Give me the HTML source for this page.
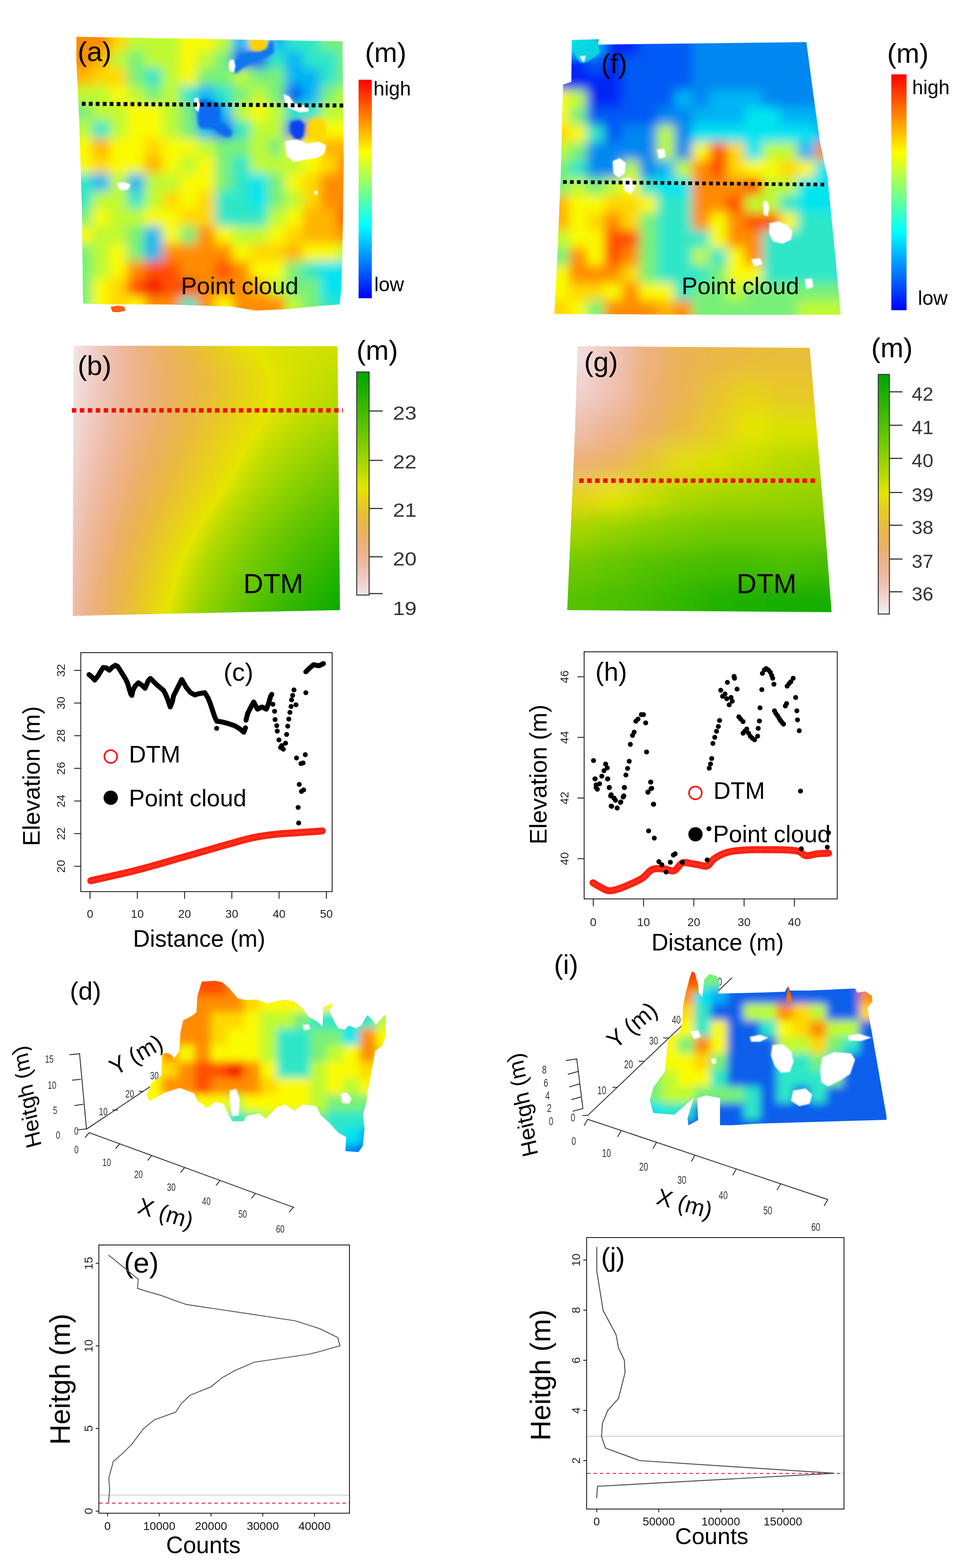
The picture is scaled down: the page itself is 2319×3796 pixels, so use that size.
<!DOCTYPE html>
<html><head><meta charset="utf-8"><title>Figure</title>
<style>html,body{margin:0;padding:0;background:#fff;}svg{display:block;}</style>
</head><body>
<svg width="2319" height="3796" viewBox="0 0 2319 3796" font-family="'Liberation Sans', Arial, sans-serif">
<defs>
<clipPath id="clip_a"><polygon points="185.0,89.0 829.0,100.0 832.0,400.0 829.0,600.0 826.0,700.0 822.0,737.0 760.0,742.0 700.0,748.0 620.0,752.0 560.0,742.0 400.0,737.0 270.0,737.0 201.0,735.0 198.0,500.0 192.0,300.0 185.0,150.0"/></clipPath>
<filter id="blur_a" x="-10%" y="-10%" width="120%" height="120%"><feGaussianBlur stdDeviation="13"/></filter>
<filter id="soft3" x="-20%" y="-20%" width="140%" height="140%"><feGaussianBlur stdDeviation="3"/></filter>
<filter id="soft"><feGaussianBlur stdDeviation="1.5"/></filter>
<linearGradient id="jetbar" x1="0" y1="0" x2="0" y2="1"><stop offset="0.000" stop-color="#ff0000"/><stop offset="0.021" stop-color="#ff1000"/><stop offset="0.042" stop-color="#ff2000"/><stop offset="0.062" stop-color="#ff3000"/><stop offset="0.083" stop-color="#ff4000"/><stop offset="0.104" stop-color="#ff5000"/><stop offset="0.125" stop-color="#ff6000"/><stop offset="0.146" stop-color="#ff7000"/><stop offset="0.167" stop-color="#ff8000"/><stop offset="0.188" stop-color="#ff8f00"/><stop offset="0.208" stop-color="#ff9f00"/><stop offset="0.229" stop-color="#ffaf00"/><stop offset="0.250" stop-color="#ffbf00"/><stop offset="0.271" stop-color="#ffcf00"/><stop offset="0.292" stop-color="#ffdf00"/><stop offset="0.312" stop-color="#ffef00"/><stop offset="0.333" stop-color="#ffff00"/><stop offset="0.354" stop-color="#efff10"/><stop offset="0.375" stop-color="#dfff20"/><stop offset="0.396" stop-color="#cfff30"/><stop offset="0.417" stop-color="#bfff40"/><stop offset="0.438" stop-color="#afff50"/><stop offset="0.458" stop-color="#9fff60"/><stop offset="0.479" stop-color="#8fff70"/><stop offset="0.500" stop-color="#80ff80"/><stop offset="0.521" stop-color="#70ff8f"/><stop offset="0.542" stop-color="#60ff9f"/><stop offset="0.562" stop-color="#50ffaf"/><stop offset="0.583" stop-color="#40ffbf"/><stop offset="0.604" stop-color="#30ffcf"/><stop offset="0.625" stop-color="#20ffdf"/><stop offset="0.646" stop-color="#10ffef"/><stop offset="0.667" stop-color="#00ffff"/><stop offset="0.688" stop-color="#00efff"/><stop offset="0.708" stop-color="#00dfff"/><stop offset="0.729" stop-color="#00cfff"/><stop offset="0.750" stop-color="#00bfff"/><stop offset="0.771" stop-color="#00afff"/><stop offset="0.792" stop-color="#009fff"/><stop offset="0.812" stop-color="#008fff"/><stop offset="0.833" stop-color="#0080ff"/><stop offset="0.854" stop-color="#0070ff"/><stop offset="0.875" stop-color="#0060ff"/><stop offset="0.896" stop-color="#0050ff"/><stop offset="0.917" stop-color="#0040ff"/><stop offset="0.938" stop-color="#0030ff"/><stop offset="0.958" stop-color="#0020ff"/><stop offset="0.979" stop-color="#0010ff"/><stop offset="1.000" stop-color="#0000ff"/></linearGradient>
<clipPath id="clip_f"><polygon points="1384.0,97.0 1450.0,95.0 1447.0,108.0 1952.0,102.0 1965.0,200.0 1984.0,338.0 2003.0,430.0 2020.0,600.0 2035.0,762.0 1750.0,762.0 1342.0,760.0 1350.0,600.0 1357.0,430.0 1363.0,205.0 1383.0,198.0"/></clipPath>
<filter id="blur_f" x="-10%" y="-10%" width="120%" height="120%"><feGaussianBlur stdDeviation="13"/></filter>
<clipPath id="clip_b"><polygon points="178.0,837.0 817.0,838.0 823.0,1477.0 176.0,1491.0"/></clipPath>
<filter id="vblur_b" x="-5%" y="-5%" width="110%" height="110%"><feGaussianBlur stdDeviation="1 5"/></filter>
<linearGradient id="bs0" gradientUnits="userSpaceOnUse" x1="170" y1="0" x2="830" y2="0"><stop offset="0.0000" stop-color="#f2ecec"/><stop offset="0.0091" stop-color="#f2e8e8"/><stop offset="0.0909" stop-color="#f0ccc4"/><stop offset="0.1727" stop-color="#eebaa2"/><stop offset="0.2545" stop-color="#ecb281"/><stop offset="0.3364" stop-color="#ebb262"/><stop offset="0.4182" stop-color="#e9b945"/><stop offset="0.5000" stop-color="#e8c52a"/><stop offset="0.5818" stop-color="#e7d612"/><stop offset="0.6545" stop-color="#e6e401"/><stop offset="0.6636" stop-color="#e6e600"/><stop offset="0.6727" stop-color="#e4e500"/><stop offset="0.7177" stop-color="#dfe400"/><stop offset="0.7717" stop-color="#dbe300"/><stop offset="0.8258" stop-color="#d7e200"/><stop offset="0.8798" stop-color="#d4e200"/><stop offset="0.9338" stop-color="#d1e100"/><stop offset="0.9879" stop-color="#cee000"/><stop offset="1.0000" stop-color="#cee000"/></linearGradient>
<linearGradient id="bs1" gradientUnits="userSpaceOnUse" x1="170" y1="0" x2="830" y2="0"><stop offset="0.0000" stop-color="#f2ecec"/><stop offset="0.0091" stop-color="#f2e8e8"/><stop offset="0.0909" stop-color="#f0ccc4"/><stop offset="0.1727" stop-color="#eebaa2"/><stop offset="0.2545" stop-color="#ecb281"/><stop offset="0.3364" stop-color="#ebb262"/><stop offset="0.4182" stop-color="#e9b945"/><stop offset="0.5000" stop-color="#e8c52a"/><stop offset="0.5818" stop-color="#e7d612"/><stop offset="0.6545" stop-color="#e6e401"/><stop offset="0.6636" stop-color="#e6e600"/><stop offset="0.6727" stop-color="#e4e500"/><stop offset="0.7177" stop-color="#dfe400"/><stop offset="0.7717" stop-color="#dbe300"/><stop offset="0.8258" stop-color="#d7e200"/><stop offset="0.8798" stop-color="#d4e200"/><stop offset="0.9338" stop-color="#d1e100"/><stop offset="0.9879" stop-color="#cee000"/><stop offset="1.0000" stop-color="#cee000"/></linearGradient>
<linearGradient id="bs2" gradientUnits="userSpaceOnUse" x1="170" y1="0" x2="830" y2="0"><stop offset="0.0000" stop-color="#f2eceb"/><stop offset="0.0091" stop-color="#f2e8e7"/><stop offset="0.0923" stop-color="#f0ccc4"/><stop offset="0.1754" stop-color="#eebaa1"/><stop offset="0.2586" stop-color="#ecb281"/><stop offset="0.3418" stop-color="#ebb262"/><stop offset="0.4250" stop-color="#e9b945"/><stop offset="0.5082" stop-color="#e8c52a"/><stop offset="0.5913" stop-color="#e7d612"/><stop offset="0.6654" stop-color="#e6e401"/><stop offset="0.6745" stop-color="#e6e600"/><stop offset="0.6836" stop-color="#e4e500"/><stop offset="0.7267" stop-color="#dfe400"/><stop offset="0.7790" stop-color="#dae300"/><stop offset="0.8312" stop-color="#d6e200"/><stop offset="0.8834" stop-color="#d3e100"/><stop offset="0.9357" stop-color="#d0e100"/><stop offset="0.9879" stop-color="#cde000"/><stop offset="1.0000" stop-color="#cce000"/></linearGradient>
<linearGradient id="bs3" gradientUnits="userSpaceOnUse" x1="170" y1="0" x2="830" y2="0"><stop offset="0.0000" stop-color="#f2ebeb"/><stop offset="0.0091" stop-color="#f2e7e7"/><stop offset="0.0940" stop-color="#f0cbc3"/><stop offset="0.1788" stop-color="#eebaa1"/><stop offset="0.2637" stop-color="#ecb280"/><stop offset="0.3486" stop-color="#ebb262"/><stop offset="0.4335" stop-color="#e9b945"/><stop offset="0.5184" stop-color="#e8c52a"/><stop offset="0.6032" stop-color="#e7d612"/><stop offset="0.6790" stop-color="#e6e401"/><stop offset="0.6881" stop-color="#e6e600"/><stop offset="0.6972" stop-color="#e3e500"/><stop offset="0.7381" stop-color="#dee400"/><stop offset="0.7880" stop-color="#d9e300"/><stop offset="0.8380" stop-color="#d5e200"/><stop offset="0.8880" stop-color="#d1e100"/><stop offset="0.9379" stop-color="#cee000"/><stop offset="0.9879" stop-color="#cbe000"/><stop offset="1.0000" stop-color="#cadf00"/></linearGradient>
<linearGradient id="bs4" gradientUnits="userSpaceOnUse" x1="170" y1="0" x2="830" y2="0"><stop offset="0.0000" stop-color="#f2eaea"/><stop offset="0.0091" stop-color="#f2e6e6"/><stop offset="0.0957" stop-color="#f0cbc2"/><stop offset="0.1822" stop-color="#eebaa0"/><stop offset="0.2688" stop-color="#ecb280"/><stop offset="0.3554" stop-color="#ebb261"/><stop offset="0.4420" stop-color="#e9b944"/><stop offset="0.5286" stop-color="#e8c62a"/><stop offset="0.6151" stop-color="#e7d612"/><stop offset="0.6926" stop-color="#e6e401"/><stop offset="0.7017" stop-color="#e6e600"/><stop offset="0.7108" stop-color="#e3e500"/><stop offset="0.7494" stop-color="#dde400"/><stop offset="0.7971" stop-color="#d8e300"/><stop offset="0.8448" stop-color="#d4e200"/><stop offset="0.8925" stop-color="#d0e100"/><stop offset="0.9402" stop-color="#cce000"/><stop offset="0.9879" stop-color="#c9df00"/><stop offset="1.0000" stop-color="#c8df00"/></linearGradient>
<linearGradient id="bs5" gradientUnits="userSpaceOnUse" x1="170" y1="0" x2="830" y2="0"><stop offset="0.0000" stop-color="#f2e9e9"/><stop offset="0.0091" stop-color="#f2e6e5"/><stop offset="0.0974" stop-color="#f0cbc2"/><stop offset="0.1856" stop-color="#eebaa0"/><stop offset="0.2739" stop-color="#ecb280"/><stop offset="0.3622" stop-color="#ebb261"/><stop offset="0.4505" stop-color="#e9b944"/><stop offset="0.5388" stop-color="#e8c62a"/><stop offset="0.6270" stop-color="#e6d612"/><stop offset="0.7062" stop-color="#e6e401"/><stop offset="0.7153" stop-color="#e6e600"/><stop offset="0.7244" stop-color="#e3e500"/><stop offset="0.7607" stop-color="#dde400"/><stop offset="0.8062" stop-color="#d7e200"/><stop offset="0.8516" stop-color="#d3e100"/><stop offset="0.8970" stop-color="#cee000"/><stop offset="0.9425" stop-color="#cadf00"/><stop offset="0.9879" stop-color="#c7df00"/><stop offset="1.0000" stop-color="#c6de00"/></linearGradient>
<linearGradient id="bs6" gradientUnits="userSpaceOnUse" x1="170" y1="0" x2="830" y2="0"><stop offset="0.0000" stop-color="#f2e8e8"/><stop offset="0.0091" stop-color="#f2e5e4"/><stop offset="0.0984" stop-color="#f0cac1"/><stop offset="0.1876" stop-color="#eeb99f"/><stop offset="0.2769" stop-color="#ecb27f"/><stop offset="0.3662" stop-color="#ebb261"/><stop offset="0.4555" stop-color="#e9b944"/><stop offset="0.5447" stop-color="#e8c62a"/><stop offset="0.6340" stop-color="#e6d612"/><stop offset="0.7142" stop-color="#e6e401"/><stop offset="0.7233" stop-color="#e6e600"/><stop offset="0.7324" stop-color="#e3e500"/><stop offset="0.7674" stop-color="#dce300"/><stop offset="0.8115" stop-color="#d6e200"/><stop offset="0.8556" stop-color="#d1e100"/><stop offset="0.8997" stop-color="#cde000"/><stop offset="0.9438" stop-color="#c8df00"/><stop offset="0.9879" stop-color="#c5de00"/><stop offset="1.0000" stop-color="#c3de00"/></linearGradient>
<linearGradient id="bs7" gradientUnits="userSpaceOnUse" x1="170" y1="0" x2="830" y2="0"><stop offset="0.0000" stop-color="#f2e8e7"/><stop offset="0.0091" stop-color="#f2e4e4"/><stop offset="0.0993" stop-color="#f0cac0"/><stop offset="0.1895" stop-color="#eeb99f"/><stop offset="0.2797" stop-color="#ecb27f"/><stop offset="0.3699" stop-color="#ebb260"/><stop offset="0.4601" stop-color="#e9b944"/><stop offset="0.5503" stop-color="#e8c629"/><stop offset="0.6405" stop-color="#e6d612"/><stop offset="0.7216" stop-color="#e6e401"/><stop offset="0.7306" stop-color="#e6e600"/><stop offset="0.7397" stop-color="#e2e500"/><stop offset="0.7735" stop-color="#dce300"/><stop offset="0.8164" stop-color="#d5e200"/><stop offset="0.8593" stop-color="#d0e100"/><stop offset="0.9021" stop-color="#cbe000"/><stop offset="0.9450" stop-color="#c7df00"/><stop offset="0.9879" stop-color="#c2de00"/><stop offset="1.0000" stop-color="#c1dd00"/></linearGradient>
<linearGradient id="bs8" gradientUnits="userSpaceOnUse" x1="170" y1="0" x2="830" y2="0"><stop offset="0.0000" stop-color="#f2e7e6"/><stop offset="0.0091" stop-color="#f1e4e3"/><stop offset="0.1002" stop-color="#f0c9c0"/><stop offset="0.1913" stop-color="#eeb99e"/><stop offset="0.2824" stop-color="#ecb27e"/><stop offset="0.3735" stop-color="#ebb260"/><stop offset="0.4647" stop-color="#e9b944"/><stop offset="0.5558" stop-color="#e8c629"/><stop offset="0.6469" stop-color="#e6d612"/><stop offset="0.7289" stop-color="#e6e401"/><stop offset="0.7380" stop-color="#e6e600"/><stop offset="0.7471" stop-color="#e2e500"/><stop offset="0.7797" stop-color="#dbe300"/><stop offset="0.8213" stop-color="#d4e200"/><stop offset="0.8629" stop-color="#cfe000"/><stop offset="0.9046" stop-color="#cadf00"/><stop offset="0.9462" stop-color="#c5de00"/><stop offset="0.9879" stop-color="#c0dd00"/><stop offset="1.0000" stop-color="#bfdd00"/></linearGradient>
<linearGradient id="bs9" gradientUnits="userSpaceOnUse" x1="170" y1="0" x2="830" y2="0"><stop offset="0.0000" stop-color="#f2e6e6"/><stop offset="0.0091" stop-color="#f1e3e2"/><stop offset="0.1008" stop-color="#f0c9bf"/><stop offset="0.1926" stop-color="#eeb99e"/><stop offset="0.2843" stop-color="#ecb17e"/><stop offset="0.3760" stop-color="#ebb260"/><stop offset="0.4677" stop-color="#e9b943"/><stop offset="0.5595" stop-color="#e8c629"/><stop offset="0.6512" stop-color="#e6d612"/><stop offset="0.7339" stop-color="#e6e401"/><stop offset="0.7429" stop-color="#e6e600"/><stop offset="0.7520" stop-color="#e2e500"/><stop offset="0.7838" stop-color="#dae300"/><stop offset="0.8246" stop-color="#d3e200"/><stop offset="0.8654" stop-color="#cde000"/><stop offset="0.9062" stop-color="#c8df00"/><stop offset="0.9471" stop-color="#c3de00"/><stop offset="0.9879" stop-color="#bedd00"/><stop offset="1.0000" stop-color="#bddc00"/></linearGradient>
<linearGradient id="bs10" gradientUnits="userSpaceOnUse" x1="170" y1="0" x2="830" y2="0"><stop offset="0.0000" stop-color="#f2e5e5"/><stop offset="0.0091" stop-color="#f1e2e1"/><stop offset="0.1010" stop-color="#f0c9bf"/><stop offset="0.1929" stop-color="#eeb99d"/><stop offset="0.2848" stop-color="#ecb17d"/><stop offset="0.3767" stop-color="#ebb25f"/><stop offset="0.4686" stop-color="#e9b943"/><stop offset="0.5605" stop-color="#e8c629"/><stop offset="0.6523" stop-color="#e6d612"/><stop offset="0.7352" stop-color="#e6e401"/><stop offset="0.7442" stop-color="#e6e600"/><stop offset="0.7533" stop-color="#e2e500"/><stop offset="0.7848" stop-color="#dae300"/><stop offset="0.8255" stop-color="#d3e100"/><stop offset="0.8661" stop-color="#cce000"/><stop offset="0.9067" stop-color="#c7df00"/><stop offset="0.9473" stop-color="#c1dd00"/><stop offset="0.9879" stop-color="#bcdc00"/><stop offset="1.0000" stop-color="#bbdc00"/></linearGradient>
<linearGradient id="bs11" gradientUnits="userSpaceOnUse" x1="170" y1="0" x2="830" y2="0"><stop offset="0.0000" stop-color="#f2e5e4"/><stop offset="0.0091" stop-color="#f1e2e1"/><stop offset="0.1011" stop-color="#f0c8be"/><stop offset="0.1932" stop-color="#eeb89d"/><stop offset="0.2853" stop-color="#ecb17d"/><stop offset="0.3773" stop-color="#ebb25f"/><stop offset="0.4694" stop-color="#e9b943"/><stop offset="0.5614" stop-color="#e8c629"/><stop offset="0.6535" stop-color="#e6d612"/><stop offset="0.7365" stop-color="#e6e401"/><stop offset="0.7455" stop-color="#e6e600"/><stop offset="0.7546" stop-color="#e1e500"/><stop offset="0.7859" stop-color="#d9e300"/><stop offset="0.8263" stop-color="#d2e100"/><stop offset="0.8667" stop-color="#cbe000"/><stop offset="0.9071" stop-color="#c5de00"/><stop offset="0.9475" stop-color="#c0dd00"/><stop offset="0.9879" stop-color="#badc00"/><stop offset="1.0000" stop-color="#b9db00"/></linearGradient>
<linearGradient id="bs12" gradientUnits="userSpaceOnUse" x1="170" y1="0" x2="830" y2="0"><stop offset="0.0000" stop-color="#f1e4e3"/><stop offset="0.0091" stop-color="#f1e1e0"/><stop offset="0.1013" stop-color="#f0c8bd"/><stop offset="0.1935" stop-color="#eeb89c"/><stop offset="0.2857" stop-color="#ecb17d"/><stop offset="0.3780" stop-color="#ebb25f"/><stop offset="0.4702" stop-color="#e9ba43"/><stop offset="0.5624" stop-color="#e8c629"/><stop offset="0.6546" stop-color="#e6d612"/><stop offset="0.7377" stop-color="#e6e401"/><stop offset="0.7468" stop-color="#e6e600"/><stop offset="0.7559" stop-color="#e1e500"/><stop offset="0.7870" stop-color="#d9e300"/><stop offset="0.8272" stop-color="#d1e100"/><stop offset="0.8674" stop-color="#cadf00"/><stop offset="0.9075" stop-color="#c3de00"/><stop offset="0.9477" stop-color="#bedd00"/><stop offset="0.9879" stop-color="#b8db00"/><stop offset="1.0000" stop-color="#b7db00"/></linearGradient>
<linearGradient id="bs13" gradientUnits="userSpaceOnUse" x1="170" y1="0" x2="830" y2="0"><stop offset="0.0000" stop-color="#f1e3e2"/><stop offset="0.0091" stop-color="#f1e0df"/><stop offset="0.1009" stop-color="#f0c7bd"/><stop offset="0.1927" stop-color="#eeb89c"/><stop offset="0.2845" stop-color="#ecb17c"/><stop offset="0.3763" stop-color="#ebb25e"/><stop offset="0.4681" stop-color="#e9ba42"/><stop offset="0.5599" stop-color="#e8c629"/><stop offset="0.6517" stop-color="#e6d612"/><stop offset="0.7344" stop-color="#e6e401"/><stop offset="0.7435" stop-color="#e6e600"/><stop offset="0.7526" stop-color="#e1e500"/><stop offset="0.7842" stop-color="#d8e300"/><stop offset="0.8250" stop-color="#d0e100"/><stop offset="0.8657" stop-color="#c8df00"/><stop offset="0.9064" stop-color="#c2de00"/><stop offset="0.9471" stop-color="#bcdc00"/><stop offset="0.9879" stop-color="#b6db00"/><stop offset="1.0000" stop-color="#b5da00"/></linearGradient>
<linearGradient id="bs14" gradientUnits="userSpaceOnUse" x1="170" y1="0" x2="830" y2="0"><stop offset="0.0000" stop-color="#f1e3e2"/><stop offset="0.0091" stop-color="#f1e0de"/><stop offset="0.1004" stop-color="#f0c7bc"/><stop offset="0.1917" stop-color="#eeb89b"/><stop offset="0.2830" stop-color="#ecb17c"/><stop offset="0.3744" stop-color="#ebb25e"/><stop offset="0.4657" stop-color="#e9ba42"/><stop offset="0.5570" stop-color="#e8c628"/><stop offset="0.6483" stop-color="#e6d612"/><stop offset="0.7305" stop-color="#e6e401"/><stop offset="0.7396" stop-color="#e6e600"/><stop offset="0.7487" stop-color="#e1e400"/><stop offset="0.7810" stop-color="#d8e200"/><stop offset="0.8224" stop-color="#cfe000"/><stop offset="0.8637" stop-color="#c7df00"/><stop offset="0.9051" stop-color="#c0dd00"/><stop offset="0.9465" stop-color="#badc00"/><stop offset="0.9879" stop-color="#b4da00"/><stop offset="1.0000" stop-color="#b3da00"/></linearGradient>
<linearGradient id="bs15" gradientUnits="userSpaceOnUse" x1="170" y1="0" x2="830" y2="0"><stop offset="0.0000" stop-color="#f1e2e1"/><stop offset="0.0091" stop-color="#f1dfdd"/><stop offset="0.0999" stop-color="#efc7bb"/><stop offset="0.1908" stop-color="#eeb89b"/><stop offset="0.2816" stop-color="#ecb17b"/><stop offset="0.3724" stop-color="#ebb25e"/><stop offset="0.4633" stop-color="#e9ba42"/><stop offset="0.5541" stop-color="#e8c628"/><stop offset="0.6449" stop-color="#e6d611"/><stop offset="0.7267" stop-color="#e6e401"/><stop offset="0.7358" stop-color="#e6e600"/><stop offset="0.7448" stop-color="#e1e400"/><stop offset="0.7778" stop-color="#d7e200"/><stop offset="0.8198" stop-color="#cee000"/><stop offset="0.8618" stop-color="#c6de00"/><stop offset="0.9038" stop-color="#bfdd00"/><stop offset="0.9459" stop-color="#b8db00"/><stop offset="0.9879" stop-color="#b2da00"/><stop offset="1.0000" stop-color="#b1da00"/></linearGradient>
<linearGradient id="bs16" gradientUnits="userSpaceOnUse" x1="170" y1="0" x2="830" y2="0"><stop offset="0.0000" stop-color="#f1e1e0"/><stop offset="0.0091" stop-color="#f1dedd"/><stop offset="0.0994" stop-color="#efc6bb"/><stop offset="0.1898" stop-color="#eeb89a"/><stop offset="0.2801" stop-color="#ecb17b"/><stop offset="0.3705" stop-color="#ebb25d"/><stop offset="0.4608" stop-color="#e9ba42"/><stop offset="0.5512" stop-color="#e8c728"/><stop offset="0.6415" stop-color="#e6d611"/><stop offset="0.7228" stop-color="#e6e401"/><stop offset="0.7319" stop-color="#e6e600"/><stop offset="0.7410" stop-color="#e1e400"/><stop offset="0.7745" stop-color="#d6e200"/><stop offset="0.8172" stop-color="#cde000"/><stop offset="0.8599" stop-color="#c5de00"/><stop offset="0.9025" stop-color="#bddd00"/><stop offset="0.9452" stop-color="#b7db00"/><stop offset="0.9879" stop-color="#b0d900"/><stop offset="1.0000" stop-color="#afd900"/></linearGradient>
<linearGradient id="bs17" gradientUnits="userSpaceOnUse" x1="170" y1="0" x2="830" y2="0"><stop offset="0.0000" stop-color="#f1e1df"/><stop offset="0.0091" stop-color="#f1dedc"/><stop offset="0.0989" stop-color="#efc6ba"/><stop offset="0.1886" stop-color="#eeb79a"/><stop offset="0.2784" stop-color="#ecb17b"/><stop offset="0.3681" stop-color="#ebb25d"/><stop offset="0.4579" stop-color="#e9ba42"/><stop offset="0.5477" stop-color="#e8c728"/><stop offset="0.6374" stop-color="#e6d611"/><stop offset="0.7181" stop-color="#e6e401"/><stop offset="0.7272" stop-color="#e6e600"/><stop offset="0.7363" stop-color="#e0e400"/><stop offset="0.7706" stop-color="#d6e200"/><stop offset="0.8141" stop-color="#cce000"/><stop offset="0.8575" stop-color="#c3de00"/><stop offset="0.9010" stop-color="#bcdc00"/><stop offset="0.9444" stop-color="#b5db00"/><stop offset="0.9879" stop-color="#aed900"/><stop offset="1.0000" stop-color="#add900"/></linearGradient>
<linearGradient id="bs18" gradientUnits="userSpaceOnUse" x1="170" y1="0" x2="830" y2="0"><stop offset="0.0000" stop-color="#f1e0df"/><stop offset="0.0091" stop-color="#f1dddb"/><stop offset="0.0979" stop-color="#efc6b9"/><stop offset="0.1866" stop-color="#eeb799"/><stop offset="0.2754" stop-color="#ecb17a"/><stop offset="0.3642" stop-color="#ebb25d"/><stop offset="0.4529" stop-color="#e9ba41"/><stop offset="0.5417" stop-color="#e8c728"/><stop offset="0.6305" stop-color="#e6d611"/><stop offset="0.7102" stop-color="#e6e401"/><stop offset="0.7193" stop-color="#e6e600"/><stop offset="0.7284" stop-color="#e0e400"/><stop offset="0.7640" stop-color="#d5e200"/><stop offset="0.8088" stop-color="#cadf00"/><stop offset="0.8536" stop-color="#c1dd00"/><stop offset="0.8983" stop-color="#b9dc00"/><stop offset="0.9431" stop-color="#b2da00"/><stop offset="0.9879" stop-color="#abd800"/><stop offset="1.0000" stop-color="#a9d800"/></linearGradient>
<linearGradient id="bs19" gradientUnits="userSpaceOnUse" x1="170" y1="0" x2="830" y2="0"><stop offset="0.0000" stop-color="#f1dfde"/><stop offset="0.0091" stop-color="#f1dcda"/><stop offset="0.0969" stop-color="#efc5b9"/><stop offset="0.1847" stop-color="#eeb798"/><stop offset="0.2724" stop-color="#ecb17a"/><stop offset="0.3602" stop-color="#ebb35c"/><stop offset="0.4480" stop-color="#e9ba41"/><stop offset="0.5358" stop-color="#e8c728"/><stop offset="0.6235" stop-color="#e6d711"/><stop offset="0.7022" stop-color="#e6e401"/><stop offset="0.7113" stop-color="#e6e600"/><stop offset="0.7204" stop-color="#e0e400"/><stop offset="0.7574" stop-color="#d4e200"/><stop offset="0.8035" stop-color="#c8df00"/><stop offset="0.8496" stop-color="#bfdd00"/><stop offset="0.8957" stop-color="#b6db00"/><stop offset="0.9418" stop-color="#aed900"/><stop offset="0.9879" stop-color="#a7d700"/><stop offset="1.0000" stop-color="#a5d700"/></linearGradient>
<linearGradient id="bs20" gradientUnits="userSpaceOnUse" x1="170" y1="0" x2="830" y2="0"><stop offset="0.0000" stop-color="#f1dfdd"/><stop offset="0.0091" stop-color="#f1dcda"/><stop offset="0.0959" stop-color="#efc5b8"/><stop offset="0.1827" stop-color="#eeb798"/><stop offset="0.2695" stop-color="#ecb179"/><stop offset="0.3562" stop-color="#ebb35c"/><stop offset="0.4430" stop-color="#e9ba41"/><stop offset="0.5298" stop-color="#e8c728"/><stop offset="0.6166" stop-color="#e6d711"/><stop offset="0.6943" stop-color="#e6e401"/><stop offset="0.7034" stop-color="#e6e600"/><stop offset="0.7125" stop-color="#e0e400"/><stop offset="0.7508" stop-color="#d2e100"/><stop offset="0.7982" stop-color="#c6df00"/><stop offset="0.8456" stop-color="#bcdc00"/><stop offset="0.8930" stop-color="#b3da00"/><stop offset="0.9405" stop-color="#abd800"/><stop offset="0.9879" stop-color="#a3d600"/><stop offset="1.0000" stop-color="#a1d600"/></linearGradient>
<linearGradient id="bs21" gradientUnits="userSpaceOnUse" x1="170" y1="0" x2="830" y2="0"><stop offset="0.0000" stop-color="#f1dedc"/><stop offset="0.0091" stop-color="#f1dbd9"/><stop offset="0.0949" stop-color="#efc4b7"/><stop offset="0.1807" stop-color="#eeb797"/><stop offset="0.2665" stop-color="#ecb179"/><stop offset="0.3523" stop-color="#eab35c"/><stop offset="0.4381" stop-color="#e9ba41"/><stop offset="0.5239" stop-color="#e8c727"/><stop offset="0.6097" stop-color="#e6d711"/><stop offset="0.6864" stop-color="#e6e401"/><stop offset="0.6955" stop-color="#e6e600"/><stop offset="0.7045" stop-color="#dfe400"/><stop offset="0.7442" stop-color="#d1e100"/><stop offset="0.7929" stop-color="#c4de00"/><stop offset="0.8417" stop-color="#b9dc00"/><stop offset="0.8904" stop-color="#b0d900"/><stop offset="0.9391" stop-color="#a7d700"/><stop offset="0.9879" stop-color="#9fd500"/><stop offset="1.0000" stop-color="#9dd500"/></linearGradient>
<linearGradient id="bs22" gradientUnits="userSpaceOnUse" x1="170" y1="0" x2="830" y2="0"><stop offset="0.0000" stop-color="#f1dedc"/><stop offset="0.0091" stop-color="#f1dbd8"/><stop offset="0.0936" stop-color="#efc4b7"/><stop offset="0.1781" stop-color="#eeb797"/><stop offset="0.2626" stop-color="#ecb178"/><stop offset="0.3471" stop-color="#eab35c"/><stop offset="0.4315" stop-color="#e9ba40"/><stop offset="0.5160" stop-color="#e8c727"/><stop offset="0.6005" stop-color="#e6d711"/><stop offset="0.6759" stop-color="#e6e401"/><stop offset="0.6850" stop-color="#e6e600"/><stop offset="0.6941" stop-color="#dfe400"/><stop offset="0.7355" stop-color="#d0e100"/><stop offset="0.7860" stop-color="#c2de00"/><stop offset="0.8364" stop-color="#b7db00"/><stop offset="0.8869" stop-color="#add900"/><stop offset="0.9374" stop-color="#a3d600"/><stop offset="0.9879" stop-color="#9ad400"/><stop offset="1.0000" stop-color="#98d400"/></linearGradient>
<linearGradient id="bs23" gradientUnits="userSpaceOnUse" x1="170" y1="0" x2="830" y2="0"><stop offset="0.0000" stop-color="#f1dddb"/><stop offset="0.0091" stop-color="#f1dad7"/><stop offset="0.0923" stop-color="#efc4b6"/><stop offset="0.1755" stop-color="#eeb696"/><stop offset="0.2586" stop-color="#ecb178"/><stop offset="0.3418" stop-color="#eab35b"/><stop offset="0.4250" stop-color="#e9bb40"/><stop offset="0.5082" stop-color="#e8c727"/><stop offset="0.5914" stop-color="#e6d711"/><stop offset="0.6655" stop-color="#e6e401"/><stop offset="0.6746" stop-color="#e6e600"/><stop offset="0.6837" stop-color="#dfe400"/><stop offset="0.7268" stop-color="#cfe000"/><stop offset="0.7790" stop-color="#c0dd00"/><stop offset="0.8312" stop-color="#b4da00"/><stop offset="0.8834" stop-color="#a9d800"/><stop offset="0.9357" stop-color="#a0d500"/><stop offset="0.9879" stop-color="#96d300"/><stop offset="1.0000" stop-color="#94d300"/></linearGradient>
<linearGradient id="bs24" gradientUnits="userSpaceOnUse" x1="170" y1="0" x2="830" y2="0"><stop offset="0.0000" stop-color="#f1dcda"/><stop offset="0.0091" stop-color="#f1d9d7"/><stop offset="0.0910" stop-color="#efc3b5"/><stop offset="0.1729" stop-color="#eeb696"/><stop offset="0.2547" stop-color="#ecb178"/><stop offset="0.3366" stop-color="#eab35b"/><stop offset="0.4185" stop-color="#e9bb40"/><stop offset="0.5004" stop-color="#e8c727"/><stop offset="0.5823" stop-color="#e6d711"/><stop offset="0.6551" stop-color="#e6e401"/><stop offset="0.6641" stop-color="#e6e600"/><stop offset="0.6732" stop-color="#dfe400"/><stop offset="0.7181" stop-color="#cde000"/><stop offset="0.7721" stop-color="#bedd00"/><stop offset="0.8260" stop-color="#b2da00"/><stop offset="0.8800" stop-color="#a6d700"/><stop offset="0.9339" stop-color="#9cd500"/><stop offset="0.9879" stop-color="#92d200"/><stop offset="1.0000" stop-color="#90d200"/></linearGradient>
<linearGradient id="bs25" gradientUnits="userSpaceOnUse" x1="170" y1="0" x2="830" y2="0"><stop offset="0.0000" stop-color="#f1dcda"/><stop offset="0.0091" stop-color="#f1d9d6"/><stop offset="0.0897" stop-color="#efc3b5"/><stop offset="0.1702" stop-color="#eeb695"/><stop offset="0.2508" stop-color="#ecb177"/><stop offset="0.3314" stop-color="#eab35b"/><stop offset="0.4120" stop-color="#e9bb40"/><stop offset="0.4926" stop-color="#e8c727"/><stop offset="0.5731" stop-color="#e6d711"/><stop offset="0.6446" stop-color="#e6e401"/><stop offset="0.6537" stop-color="#e6e600"/><stop offset="0.6628" stop-color="#dfe400"/><stop offset="0.7094" stop-color="#cce000"/><stop offset="0.7651" stop-color="#bcdc00"/><stop offset="0.8208" stop-color="#afd900"/><stop offset="0.8765" stop-color="#a3d600"/><stop offset="0.9322" stop-color="#98d400"/><stop offset="0.9879" stop-color="#8ed100"/><stop offset="1.0000" stop-color="#8cd100"/></linearGradient>
<linearGradient id="bs26" gradientUnits="userSpaceOnUse" x1="170" y1="0" x2="830" y2="0"><stop offset="0.0000" stop-color="#f1dbd9"/><stop offset="0.0091" stop-color="#f1d8d5"/><stop offset="0.0885" stop-color="#efc3b4"/><stop offset="0.1680" stop-color="#edb695"/><stop offset="0.2474" stop-color="#ecb177"/><stop offset="0.3268" stop-color="#eab35a"/><stop offset="0.4062" stop-color="#e9bb40"/><stop offset="0.4857" stop-color="#e8c727"/><stop offset="0.5651" stop-color="#e6d711"/><stop offset="0.6355" stop-color="#e6e401"/><stop offset="0.6445" stop-color="#e6e600"/><stop offset="0.6536" stop-color="#dee400"/><stop offset="0.7018" stop-color="#cbe000"/><stop offset="0.7590" stop-color="#badc00"/><stop offset="0.8162" stop-color="#acd800"/><stop offset="0.8734" stop-color="#a0d600"/><stop offset="0.9307" stop-color="#95d300"/><stop offset="0.9879" stop-color="#8ad000"/><stop offset="1.0000" stop-color="#88d000"/></linearGradient>
<linearGradient id="bs27" gradientUnits="userSpaceOnUse" x1="170" y1="0" x2="830" y2="0"><stop offset="0.0000" stop-color="#f1dbd8"/><stop offset="0.0091" stop-color="#f1d8d4"/><stop offset="0.0875" stop-color="#efc2b4"/><stop offset="0.1660" stop-color="#edb694"/><stop offset="0.2444" stop-color="#ecb176"/><stop offset="0.3229" stop-color="#eab35a"/><stop offset="0.4013" stop-color="#e9bb3f"/><stop offset="0.4798" stop-color="#e8c727"/><stop offset="0.5582" stop-color="#e6d711"/><stop offset="0.6276" stop-color="#e6e401"/><stop offset="0.6367" stop-color="#e6e600"/><stop offset="0.6458" stop-color="#dee400"/><stop offset="0.6952" stop-color="#cadf00"/><stop offset="0.7537" stop-color="#b8db00"/><stop offset="0.8123" stop-color="#aad800"/><stop offset="0.8708" stop-color="#9dd500"/><stop offset="0.9293" stop-color="#91d200"/><stop offset="0.9879" stop-color="#86cf00"/><stop offset="1.0000" stop-color="#84cf00"/></linearGradient>
<linearGradient id="bs28" gradientUnits="userSpaceOnUse" x1="170" y1="0" x2="830" y2="0"><stop offset="0.0000" stop-color="#f1dad7"/><stop offset="0.0091" stop-color="#f1d7d3"/><stop offset="0.0866" stop-color="#efc2b3"/><stop offset="0.1640" stop-color="#edb694"/><stop offset="0.2415" stop-color="#ecb176"/><stop offset="0.3189" stop-color="#eab35a"/><stop offset="0.3964" stop-color="#e9bb3f"/><stop offset="0.4739" stop-color="#e8c827"/><stop offset="0.5513" stop-color="#e6d711"/><stop offset="0.6197" stop-color="#e6e401"/><stop offset="0.6288" stop-color="#e6e600"/><stop offset="0.6379" stop-color="#dee400"/><stop offset="0.6886" stop-color="#c8df00"/><stop offset="0.7485" stop-color="#b6db00"/><stop offset="0.8083" stop-color="#a7d700"/><stop offset="0.8682" stop-color="#9ad400"/><stop offset="0.9280" stop-color="#8dd100"/><stop offset="0.9879" stop-color="#82ce00"/><stop offset="1.0000" stop-color="#80cd00"/></linearGradient>
<linearGradient id="bs29" gradientUnits="userSpaceOnUse" x1="170" y1="0" x2="830" y2="0"><stop offset="0.0000" stop-color="#f1d9d6"/><stop offset="0.0091" stop-color="#f1d6d2"/><stop offset="0.0856" stop-color="#efc1b2"/><stop offset="0.1620" stop-color="#edb593"/><stop offset="0.2385" stop-color="#ecb175"/><stop offset="0.3150" stop-color="#eab359"/><stop offset="0.3915" stop-color="#e9bb3f"/><stop offset="0.4680" stop-color="#e8c826"/><stop offset="0.5444" stop-color="#e6d711"/><stop offset="0.6118" stop-color="#e6e401"/><stop offset="0.6209" stop-color="#e6e600"/><stop offset="0.6300" stop-color="#dee400"/><stop offset="0.6821" stop-color="#c7df00"/><stop offset="0.7432" stop-color="#b4da00"/><stop offset="0.8044" stop-color="#a5d700"/><stop offset="0.8656" stop-color="#97d300"/><stop offset="0.9267" stop-color="#8ad000"/><stop offset="0.9879" stop-color="#7ecd00"/><stop offset="1.0000" stop-color="#7ccc00"/></linearGradient>
<linearGradient id="bs30" gradientUnits="userSpaceOnUse" x1="170" y1="0" x2="830" y2="0"><stop offset="0.0000" stop-color="#f1d8d5"/><stop offset="0.0091" stop-color="#f1d5d1"/><stop offset="0.0846" stop-color="#efc1b1"/><stop offset="0.1601" stop-color="#edb592"/><stop offset="0.2356" stop-color="#ecb175"/><stop offset="0.3111" stop-color="#eab359"/><stop offset="0.3866" stop-color="#e9bb3e"/><stop offset="0.4620" stop-color="#e8c826"/><stop offset="0.5375" stop-color="#e6d711"/><stop offset="0.6039" stop-color="#e6e401"/><stop offset="0.6130" stop-color="#e6e600"/><stop offset="0.6221" stop-color="#dde400"/><stop offset="0.6755" stop-color="#c6de00"/><stop offset="0.7380" stop-color="#b2da00"/><stop offset="0.8005" stop-color="#a2d600"/><stop offset="0.8629" stop-color="#94d200"/><stop offset="0.9254" stop-color="#86cf00"/><stop offset="0.9879" stop-color="#7acc00"/><stop offset="1.0000" stop-color="#78cb00"/></linearGradient>
<linearGradient id="bs31" gradientUnits="userSpaceOnUse" x1="170" y1="0" x2="830" y2="0"><stop offset="0.0000" stop-color="#f1d7d4"/><stop offset="0.0091" stop-color="#f1d4d0"/><stop offset="0.0836" stop-color="#efc0b0"/><stop offset="0.1581" stop-color="#edb591"/><stop offset="0.2326" stop-color="#ecb174"/><stop offset="0.3071" stop-color="#eab358"/><stop offset="0.3816" stop-color="#e9bb3e"/><stop offset="0.4561" stop-color="#e8c826"/><stop offset="0.5306" stop-color="#e6d710"/><stop offset="0.5960" stop-color="#e6e401"/><stop offset="0.6051" stop-color="#e6e600"/><stop offset="0.6142" stop-color="#dde400"/><stop offset="0.6689" stop-color="#c5de00"/><stop offset="0.7327" stop-color="#b0d900"/><stop offset="0.7965" stop-color="#a0d500"/><stop offset="0.8603" stop-color="#91d200"/><stop offset="0.9241" stop-color="#83ce00"/><stop offset="0.9879" stop-color="#77cb00"/><stop offset="1.0000" stop-color="#74ca00"/></linearGradient>
<linearGradient id="bs32" gradientUnits="userSpaceOnUse" x1="170" y1="0" x2="830" y2="0"><stop offset="0.0000" stop-color="#f1d6d3"/><stop offset="0.0091" stop-color="#f0d3cf"/><stop offset="0.0826" stop-color="#efc0af"/><stop offset="0.1561" stop-color="#edb590"/><stop offset="0.2296" stop-color="#ecb173"/><stop offset="0.3031" stop-color="#eab358"/><stop offset="0.3766" stop-color="#e9bc3e"/><stop offset="0.4501" stop-color="#e8c826"/><stop offset="0.5236" stop-color="#e6d710"/><stop offset="0.5880" stop-color="#e6e401"/><stop offset="0.5971" stop-color="#e6e600"/><stop offset="0.6061" stop-color="#dde400"/><stop offset="0.6622" stop-color="#c4de00"/><stop offset="0.7273" stop-color="#afd900"/><stop offset="0.7925" stop-color="#9dd500"/><stop offset="0.8576" stop-color="#8ed100"/><stop offset="0.9227" stop-color="#80cd00"/><stop offset="0.9879" stop-color="#73ca00"/><stop offset="1.0000" stop-color="#70c900"/></linearGradient>
<linearGradient id="bs33" gradientUnits="userSpaceOnUse" x1="170" y1="0" x2="830" y2="0"><stop offset="0.0000" stop-color="#f1d6d2"/><stop offset="0.0091" stop-color="#f0d3cd"/><stop offset="0.0816" stop-color="#efc0ae"/><stop offset="0.1541" stop-color="#edb590"/><stop offset="0.2266" stop-color="#ecb173"/><stop offset="0.2991" stop-color="#eab457"/><stop offset="0.3716" stop-color="#e9bc3d"/><stop offset="0.4441" stop-color="#e8c825"/><stop offset="0.5165" stop-color="#e6d710"/><stop offset="0.5799" stop-color="#e6e401"/><stop offset="0.5890" stop-color="#e6e600"/><stop offset="0.5981" stop-color="#dde400"/><stop offset="0.6555" stop-color="#c2de00"/><stop offset="0.7220" stop-color="#add900"/><stop offset="0.7885" stop-color="#9ad400"/><stop offset="0.8549" stop-color="#8bd000"/><stop offset="0.9214" stop-color="#7ccc00"/><stop offset="0.9879" stop-color="#6fc900"/><stop offset="1.0000" stop-color="#6dc800"/></linearGradient>
<linearGradient id="bs34" gradientUnits="userSpaceOnUse" x1="170" y1="0" x2="830" y2="0"><stop offset="0.0000" stop-color="#f1d5d0"/><stop offset="0.0091" stop-color="#f0d2cc"/><stop offset="0.0806" stop-color="#efbfad"/><stop offset="0.1521" stop-color="#edb48f"/><stop offset="0.2236" stop-color="#ecb172"/><stop offset="0.2951" stop-color="#eab457"/><stop offset="0.3665" stop-color="#e9bc3d"/><stop offset="0.4380" stop-color="#e8c825"/><stop offset="0.5095" stop-color="#e6d710"/><stop offset="0.5719" stop-color="#e6e401"/><stop offset="0.5810" stop-color="#e6e600"/><stop offset="0.5901" stop-color="#dde400"/><stop offset="0.6488" stop-color="#c1dd00"/><stop offset="0.7166" stop-color="#abd800"/><stop offset="0.7844" stop-color="#98d400"/><stop offset="0.8523" stop-color="#88cf00"/><stop offset="0.9201" stop-color="#79cc00"/><stop offset="0.9879" stop-color="#6bc800"/><stop offset="1.0000" stop-color="#69c700"/></linearGradient>
<linearGradient id="bs35" gradientUnits="userSpaceOnUse" x1="170" y1="0" x2="830" y2="0"><stop offset="0.0000" stop-color="#f0d4cf"/><stop offset="0.0091" stop-color="#f0d1cb"/><stop offset="0.0796" stop-color="#efbfac"/><stop offset="0.1501" stop-color="#edb48e"/><stop offset="0.2206" stop-color="#ecb171"/><stop offset="0.2910" stop-color="#eab456"/><stop offset="0.3615" stop-color="#e9bc3d"/><stop offset="0.4320" stop-color="#e8c825"/><stop offset="0.5025" stop-color="#e6d710"/><stop offset="0.5639" stop-color="#e6e401"/><stop offset="0.5730" stop-color="#e6e600"/><stop offset="0.5821" stop-color="#dde400"/><stop offset="0.6421" stop-color="#c0dd00"/><stop offset="0.7113" stop-color="#a9d800"/><stop offset="0.7804" stop-color="#95d300"/><stop offset="0.8496" stop-color="#85cf00"/><stop offset="0.9187" stop-color="#75cb00"/><stop offset="0.9879" stop-color="#67c700"/><stop offset="1.0000" stop-color="#65c600"/></linearGradient>
<linearGradient id="bs36" gradientUnits="userSpaceOnUse" x1="170" y1="0" x2="830" y2="0"><stop offset="0.0000" stop-color="#f0d3ce"/><stop offset="0.0091" stop-color="#f0d0ca"/><stop offset="0.0785" stop-color="#efbeab"/><stop offset="0.1478" stop-color="#edb48d"/><stop offset="0.2172" stop-color="#ecb171"/><stop offset="0.2866" stop-color="#eab456"/><stop offset="0.3560" stop-color="#e9bc3c"/><stop offset="0.4254" stop-color="#e8c925"/><stop offset="0.4947" stop-color="#e6d810"/><stop offset="0.5550" stop-color="#e6e401"/><stop offset="0.5641" stop-color="#e6e600"/><stop offset="0.5732" stop-color="#dce400"/><stop offset="0.6347" stop-color="#bfdd00"/><stop offset="0.7054" stop-color="#a7d700"/><stop offset="0.7760" stop-color="#93d200"/><stop offset="0.8466" stop-color="#82ce00"/><stop offset="0.9173" stop-color="#72ca00"/><stop offset="0.9879" stop-color="#64c600"/><stop offset="1.0000" stop-color="#61c500"/></linearGradient>
<linearGradient id="bs37" gradientUnits="userSpaceOnUse" x1="170" y1="0" x2="830" y2="0"><stop offset="0.0000" stop-color="#f0d2cd"/><stop offset="0.0091" stop-color="#f0cfc9"/><stop offset="0.0772" stop-color="#efbeaa"/><stop offset="0.1453" stop-color="#edb48c"/><stop offset="0.2134" stop-color="#ecb170"/><stop offset="0.2815" stop-color="#eab455"/><stop offset="0.3496" stop-color="#e9bc3c"/><stop offset="0.4177" stop-color="#e8c925"/><stop offset="0.4859" stop-color="#e6d810"/><stop offset="0.5449" stop-color="#e6e401"/><stop offset="0.5540" stop-color="#e6e600"/><stop offset="0.5631" stop-color="#dce300"/><stop offset="0.6263" stop-color="#bddd00"/><stop offset="0.6986" stop-color="#a5d700"/><stop offset="0.7709" stop-color="#91d200"/><stop offset="0.8432" stop-color="#7fcd00"/><stop offset="0.9156" stop-color="#6fc900"/><stop offset="0.9879" stop-color="#60c500"/><stop offset="1.0000" stop-color="#5ec400"/></linearGradient>
<linearGradient id="bs38" gradientUnits="userSpaceOnUse" x1="170" y1="0" x2="830" y2="0"><stop offset="0.0000" stop-color="#f0d1cc"/><stop offset="0.0091" stop-color="#f0cec8"/><stop offset="0.0759" stop-color="#efbda9"/><stop offset="0.1428" stop-color="#edb48c"/><stop offset="0.2096" stop-color="#ecb16f"/><stop offset="0.2764" stop-color="#eab455"/><stop offset="0.3433" stop-color="#e9bc3c"/><stop offset="0.4101" stop-color="#e8c924"/><stop offset="0.4770" stop-color="#e6d810"/><stop offset="0.5347" stop-color="#e6e401"/><stop offset="0.5438" stop-color="#e6e600"/><stop offset="0.5529" stop-color="#dce300"/><stop offset="0.6178" stop-color="#bcdc00"/><stop offset="0.6918" stop-color="#a3d600"/><stop offset="0.7658" stop-color="#8ed100"/><stop offset="0.8399" stop-color="#7ccc00"/><stop offset="0.9139" stop-color="#6bc800"/><stop offset="0.9879" stop-color="#5cc400"/><stop offset="1.0000" stop-color="#5ac300"/></linearGradient>
<linearGradient id="bs39" gradientUnits="userSpaceOnUse" x1="170" y1="0" x2="830" y2="0"><stop offset="0.0000" stop-color="#f0d1cb"/><stop offset="0.0091" stop-color="#f0cec7"/><stop offset="0.0747" stop-color="#eebda8"/><stop offset="0.1402" stop-color="#edb38b"/><stop offset="0.2058" stop-color="#ebb16f"/><stop offset="0.2714" stop-color="#eab454"/><stop offset="0.3369" stop-color="#e9bd3b"/><stop offset="0.4025" stop-color="#e7c924"/><stop offset="0.4681" stop-color="#e6d810"/><stop offset="0.5246" stop-color="#e6e401"/><stop offset="0.5336" stop-color="#e6e600"/><stop offset="0.5427" stop-color="#dce300"/><stop offset="0.6093" stop-color="#bbdc00"/><stop offset="0.6851" stop-color="#a1d600"/><stop offset="0.7608" stop-color="#8cd000"/><stop offset="0.8365" stop-color="#79cc00"/><stop offset="0.9122" stop-color="#68c700"/><stop offset="0.9879" stop-color="#59c300"/><stop offset="1.0000" stop-color="#57c200"/></linearGradient>
<linearGradient id="bs40" gradientUnits="userSpaceOnUse" x1="170" y1="0" x2="830" y2="0"><stop offset="0.0000" stop-color="#f0d0ca"/><stop offset="0.0091" stop-color="#f0cdc5"/><stop offset="0.0734" stop-color="#eebca7"/><stop offset="0.1377" stop-color="#edb38a"/><stop offset="0.2020" stop-color="#ebb16e"/><stop offset="0.2663" stop-color="#eab454"/><stop offset="0.3306" stop-color="#e9bd3b"/><stop offset="0.3949" stop-color="#e7c924"/><stop offset="0.4592" stop-color="#e6d810"/><stop offset="0.5144" stop-color="#e6e401"/><stop offset="0.5235" stop-color="#e6e600"/><stop offset="0.5326" stop-color="#dce300"/><stop offset="0.6009" stop-color="#badc00"/><stop offset="0.6783" stop-color="#9fd500"/><stop offset="0.7557" stop-color="#89d000"/><stop offset="0.8331" stop-color="#76cb00"/><stop offset="0.9105" stop-color="#65c600"/><stop offset="0.9879" stop-color="#55c200"/><stop offset="1.0000" stop-color="#53c100"/></linearGradient>
<linearGradient id="bs41" gradientUnits="userSpaceOnUse" x1="170" y1="0" x2="830" y2="0"><stop offset="0.0000" stop-color="#f0cfc9"/><stop offset="0.0091" stop-color="#f0ccc4"/><stop offset="0.0721" stop-color="#eebca6"/><stop offset="0.1351" stop-color="#edb389"/><stop offset="0.1982" stop-color="#ebb16e"/><stop offset="0.2612" stop-color="#eab453"/><stop offset="0.3242" stop-color="#e9bd3b"/><stop offset="0.3873" stop-color="#e7c924"/><stop offset="0.4503" stop-color="#e6d810"/><stop offset="0.5042" stop-color="#e6e402"/><stop offset="0.5133" stop-color="#e6e600"/><stop offset="0.5224" stop-color="#dce300"/><stop offset="0.5924" stop-color="#b9db00"/><stop offset="0.6715" stop-color="#9dd500"/><stop offset="0.7506" stop-color="#87cf00"/><stop offset="0.8297" stop-color="#73ca00"/><stop offset="0.9088" stop-color="#62c500"/><stop offset="0.9879" stop-color="#52c100"/><stop offset="1.0000" stop-color="#4fc000"/></linearGradient>
<linearGradient id="bs42" gradientUnits="userSpaceOnUse" x1="170" y1="0" x2="830" y2="0"><stop offset="0.0000" stop-color="#f0cec8"/><stop offset="0.0091" stop-color="#f0cbc3"/><stop offset="0.0709" stop-color="#eebca5"/><stop offset="0.1326" stop-color="#edb388"/><stop offset="0.1944" stop-color="#ebb16d"/><stop offset="0.2561" stop-color="#eab453"/><stop offset="0.3179" stop-color="#e9bd3a"/><stop offset="0.3796" stop-color="#e7c924"/><stop offset="0.4414" stop-color="#e6d80f"/><stop offset="0.4941" stop-color="#e6e402"/><stop offset="0.5032" stop-color="#e6e600"/><stop offset="0.5123" stop-color="#dce300"/><stop offset="0.5840" stop-color="#b7db00"/><stop offset="0.6647" stop-color="#9bd400"/><stop offset="0.7455" stop-color="#84cf00"/><stop offset="0.8263" stop-color="#70c900"/><stop offset="0.9071" stop-color="#5ec400"/><stop offset="0.9879" stop-color="#4ec000"/><stop offset="1.0000" stop-color="#4cbf00"/></linearGradient>
<linearGradient id="bs43" gradientUnits="userSpaceOnUse" x1="170" y1="0" x2="830" y2="0"><stop offset="0.0000" stop-color="#f0cec6"/><stop offset="0.0091" stop-color="#f0cbc2"/><stop offset="0.0696" stop-color="#eebba4"/><stop offset="0.1301" stop-color="#edb388"/><stop offset="0.1906" stop-color="#ebb16c"/><stop offset="0.2511" stop-color="#eab552"/><stop offset="0.3115" stop-color="#e9bd3a"/><stop offset="0.3720" stop-color="#e7c923"/><stop offset="0.4325" stop-color="#e6d80f"/><stop offset="0.4839" stop-color="#e6e402"/><stop offset="0.4930" stop-color="#e6e600"/><stop offset="0.5021" stop-color="#dce300"/><stop offset="0.5755" stop-color="#b6db00"/><stop offset="0.6580" stop-color="#9ad400"/><stop offset="0.7404" stop-color="#82ce00"/><stop offset="0.8229" stop-color="#6dc900"/><stop offset="0.9054" stop-color="#5bc400"/><stop offset="0.9879" stop-color="#4bbf00"/><stop offset="1.0000" stop-color="#48be00"/></linearGradient>
<linearGradient id="bs44" gradientUnits="userSpaceOnUse" x1="170" y1="0" x2="830" y2="0"><stop offset="0.0000" stop-color="#f0cdc5"/><stop offset="0.0091" stop-color="#f0cac1"/><stop offset="0.0683" stop-color="#eebba3"/><stop offset="0.1275" stop-color="#edb387"/><stop offset="0.1868" stop-color="#ebb16c"/><stop offset="0.2460" stop-color="#eab552"/><stop offset="0.3052" stop-color="#e9bd3a"/><stop offset="0.3644" stop-color="#e7ca23"/><stop offset="0.4236" stop-color="#e6d80f"/><stop offset="0.4738" stop-color="#e6e402"/><stop offset="0.4829" stop-color="#e6e600"/><stop offset="0.4919" stop-color="#dbe300"/><stop offset="0.5670" stop-color="#b5db00"/><stop offset="0.6512" stop-color="#98d300"/><stop offset="0.7354" stop-color="#80cd00"/><stop offset="0.8195" stop-color="#6bc800"/><stop offset="0.9037" stop-color="#58c300"/><stop offset="0.9879" stop-color="#47be00"/><stop offset="1.0000" stop-color="#45bd00"/></linearGradient>
<linearGradient id="bs45" gradientUnits="userSpaceOnUse" x1="170" y1="0" x2="830" y2="0"><stop offset="0.0000" stop-color="#f0ccc4"/><stop offset="0.0091" stop-color="#f0c9c0"/><stop offset="0.0672" stop-color="#eebaa2"/><stop offset="0.1254" stop-color="#edb386"/><stop offset="0.1835" stop-color="#ebb16b"/><stop offset="0.2416" stop-color="#eab551"/><stop offset="0.2998" stop-color="#e9bd39"/><stop offset="0.3579" stop-color="#e7ca23"/><stop offset="0.4161" stop-color="#e6d80f"/><stop offset="0.4651" stop-color="#e6e402"/><stop offset="0.4742" stop-color="#e6e600"/><stop offset="0.4833" stop-color="#dbe300"/><stop offset="0.5598" stop-color="#b4da00"/><stop offset="0.6454" stop-color="#96d300"/><stop offset="0.7310" stop-color="#7dcd00"/><stop offset="0.8166" stop-color="#68c700"/><stop offset="0.9023" stop-color="#55c200"/><stop offset="0.9879" stop-color="#44bd00"/><stop offset="1.0000" stop-color="#42bc00"/></linearGradient>
<linearGradient id="bs46" gradientUnits="userSpaceOnUse" x1="170" y1="0" x2="830" y2="0"><stop offset="0.0000" stop-color="#f0ccc3"/><stop offset="0.0091" stop-color="#f0c9be"/><stop offset="0.0663" stop-color="#eebaa1"/><stop offset="0.1235" stop-color="#edb285"/><stop offset="0.1806" stop-color="#ebb16a"/><stop offset="0.2378" stop-color="#eab551"/><stop offset="0.2950" stop-color="#e9be39"/><stop offset="0.3522" stop-color="#e7ca23"/><stop offset="0.4093" stop-color="#e6d80f"/><stop offset="0.4574" stop-color="#e6e402"/><stop offset="0.4665" stop-color="#e6e600"/><stop offset="0.4756" stop-color="#dbe300"/><stop offset="0.5534" stop-color="#b3da00"/><stop offset="0.6403" stop-color="#94d300"/><stop offset="0.7272" stop-color="#7bcc00"/><stop offset="0.8141" stop-color="#65c600"/><stop offset="0.9010" stop-color="#52c100"/><stop offset="0.9879" stop-color="#41bc00"/><stop offset="1.0000" stop-color="#3ebb00"/></linearGradient>
<linearGradient id="bs47" gradientUnits="userSpaceOnUse" x1="170" y1="0" x2="830" y2="0"><stop offset="0.0000" stop-color="#f0cbc2"/><stop offset="0.0091" stop-color="#f0c8bd"/><stop offset="0.0653" stop-color="#eebaa0"/><stop offset="0.1215" stop-color="#edb284"/><stop offset="0.1778" stop-color="#ebb16a"/><stop offset="0.2340" stop-color="#eab550"/><stop offset="0.2902" stop-color="#e9be39"/><stop offset="0.3464" stop-color="#e7ca23"/><stop offset="0.4026" stop-color="#e6d80f"/><stop offset="0.4498" stop-color="#e6e402"/><stop offset="0.4589" stop-color="#e6e600"/><stop offset="0.4680" stop-color="#dbe300"/><stop offset="0.5470" stop-color="#b1da00"/><stop offset="0.6352" stop-color="#92d200"/><stop offset="0.7234" stop-color="#78cb00"/><stop offset="0.8115" stop-color="#62c600"/><stop offset="0.8997" stop-color="#4fc000"/><stop offset="0.9879" stop-color="#3dbb00"/><stop offset="1.0000" stop-color="#3bba00"/></linearGradient>
<linearGradient id="bs48" gradientUnits="userSpaceOnUse" x1="170" y1="0" x2="830" y2="0"><stop offset="0.0000" stop-color="#f0cac1"/><stop offset="0.0091" stop-color="#f0c7bc"/><stop offset="0.0644" stop-color="#eeb99f"/><stop offset="0.1196" stop-color="#edb284"/><stop offset="0.1749" stop-color="#ebb169"/><stop offset="0.2301" stop-color="#eab550"/><stop offset="0.2854" stop-color="#e9be38"/><stop offset="0.3407" stop-color="#e7ca22"/><stop offset="0.3959" stop-color="#e6d80f"/><stop offset="0.4421" stop-color="#e6e402"/><stop offset="0.4512" stop-color="#e6e600"/><stop offset="0.4603" stop-color="#dbe300"/><stop offset="0.5406" stop-color="#b0d900"/><stop offset="0.6301" stop-color="#90d200"/><stop offset="0.7195" stop-color="#76cb00"/><stop offset="0.8090" stop-color="#60c500"/><stop offset="0.8984" stop-color="#4cbf00"/><stop offset="0.9879" stop-color="#3aba00"/><stop offset="1.0000" stop-color="#38b900"/></linearGradient>
<linearGradient id="bs49" gradientUnits="userSpaceOnUse" x1="170" y1="0" x2="830" y2="0"><stop offset="0.0000" stop-color="#f0c9c0"/><stop offset="0.0091" stop-color="#efc7bb"/><stop offset="0.0634" stop-color="#eeb99e"/><stop offset="0.1177" stop-color="#edb283"/><stop offset="0.1720" stop-color="#ebb168"/><stop offset="0.2263" stop-color="#eab54f"/><stop offset="0.2806" stop-color="#e9be38"/><stop offset="0.3349" stop-color="#e7ca22"/><stop offset="0.3892" stop-color="#e6d80f"/><stop offset="0.4344" stop-color="#e6e402"/><stop offset="0.4435" stop-color="#e6e600"/><stop offset="0.4526" stop-color="#dbe300"/><stop offset="0.5343" stop-color="#afd900"/><stop offset="0.6250" stop-color="#8fd100"/><stop offset="0.7157" stop-color="#74ca00"/><stop offset="0.8064" stop-color="#5dc400"/><stop offset="0.8972" stop-color="#49be00"/><stop offset="0.9879" stop-color="#37b900"/><stop offset="1.0000" stop-color="#35b800"/></linearGradient>
<linearGradient id="bs50" gradientUnits="userSpaceOnUse" x1="170" y1="0" x2="830" y2="0"><stop offset="0.0000" stop-color="#f0c9bf"/><stop offset="0.0091" stop-color="#efc6ba"/><stop offset="0.0624" stop-color="#eeb99d"/><stop offset="0.1158" stop-color="#edb282"/><stop offset="0.1691" stop-color="#ebb168"/><stop offset="0.2225" stop-color="#eab54f"/><stop offset="0.2758" stop-color="#e9be38"/><stop offset="0.3292" stop-color="#e7ca22"/><stop offset="0.3825" stop-color="#e6d90f"/><stop offset="0.4268" stop-color="#e6e402"/><stop offset="0.4359" stop-color="#e6e600"/><stop offset="0.4450" stop-color="#dbe300"/><stop offset="0.5279" stop-color="#aed900"/><stop offset="0.6199" stop-color="#8dd100"/><stop offset="0.7119" stop-color="#72ca00"/><stop offset="0.8039" stop-color="#5bc300"/><stop offset="0.8959" stop-color="#46bd00"/><stop offset="0.9879" stop-color="#34b800"/><stop offset="1.0000" stop-color="#32b700"/></linearGradient>
<linearGradient id="bs51" gradientUnits="userSpaceOnUse" x1="170" y1="0" x2="830" y2="0"><stop offset="0.0000" stop-color="#f0c8be"/><stop offset="0.0091" stop-color="#efc5b9"/><stop offset="0.0615" stop-color="#eeb89c"/><stop offset="0.1139" stop-color="#ecb281"/><stop offset="0.1663" stop-color="#ebb167"/><stop offset="0.2187" stop-color="#eab64f"/><stop offset="0.2710" stop-color="#e9be37"/><stop offset="0.3234" stop-color="#e7ca22"/><stop offset="0.3758" stop-color="#e6d90f"/><stop offset="0.4191" stop-color="#e6e402"/><stop offset="0.4282" stop-color="#e6e600"/><stop offset="0.4373" stop-color="#dbe300"/><stop offset="0.5215" stop-color="#add900"/><stop offset="0.6148" stop-color="#8bd000"/><stop offset="0.7080" stop-color="#70c900"/><stop offset="0.8013" stop-color="#58c300"/><stop offset="0.8946" stop-color="#44bd00"/><stop offset="0.9879" stop-color="#31b700"/><stop offset="1.0000" stop-color="#2fb600"/></linearGradient>
<linearGradient id="bs52" gradientUnits="userSpaceOnUse" x1="170" y1="0" x2="830" y2="0"><stop offset="0.0000" stop-color="#f0c7bd"/><stop offset="0.0091" stop-color="#efc5b8"/><stop offset="0.0605" stop-color="#eeb89b"/><stop offset="0.1120" stop-color="#ecb280"/><stop offset="0.1634" stop-color="#ebb167"/><stop offset="0.2148" stop-color="#eab64e"/><stop offset="0.2663" stop-color="#e9bf37"/><stop offset="0.3177" stop-color="#e7cb22"/><stop offset="0.3691" stop-color="#e6d90f"/><stop offset="0.4115" stop-color="#e6e402"/><stop offset="0.4206" stop-color="#e6e600"/><stop offset="0.4296" stop-color="#dae300"/><stop offset="0.5151" stop-color="#acd800"/><stop offset="0.6097" stop-color="#8ad000"/><stop offset="0.7042" stop-color="#6ec900"/><stop offset="0.7988" stop-color="#56c200"/><stop offset="0.8933" stop-color="#41bc00"/><stop offset="0.9879" stop-color="#2eb600"/><stop offset="1.0000" stop-color="#2cb500"/></linearGradient>
<linearGradient id="bs53" gradientUnits="userSpaceOnUse" x1="170" y1="0" x2="830" y2="0"><stop offset="0.0000" stop-color="#efc7bc"/><stop offset="0.0091" stop-color="#efc4b6"/><stop offset="0.0596" stop-color="#eeb89a"/><stop offset="0.1100" stop-color="#ecb280"/><stop offset="0.1605" stop-color="#ebb166"/><stop offset="0.2110" stop-color="#eab64e"/><stop offset="0.2615" stop-color="#e8bf37"/><stop offset="0.3119" stop-color="#e7cb21"/><stop offset="0.3624" stop-color="#e6d90e"/><stop offset="0.4038" stop-color="#e6e402"/><stop offset="0.4129" stop-color="#e6e600"/><stop offset="0.4220" stop-color="#dae300"/><stop offset="0.5087" stop-color="#abd800"/><stop offset="0.6046" stop-color="#88d000"/><stop offset="0.7004" stop-color="#6cc800"/><stop offset="0.7962" stop-color="#54c100"/><stop offset="0.8920" stop-color="#3ebb00"/><stop offset="0.9879" stop-color="#2cb500"/><stop offset="1.0000" stop-color="#29b400"/></linearGradient>
<linearGradient id="bs54" gradientUnits="userSpaceOnUse" x1="170" y1="0" x2="830" y2="0"><stop offset="0.0000" stop-color="#efc6ba"/><stop offset="0.0091" stop-color="#efc3b5"/><stop offset="0.0590" stop-color="#eeb79a"/><stop offset="0.1088" stop-color="#ecb27f"/><stop offset="0.1587" stop-color="#ebb165"/><stop offset="0.2086" stop-color="#eab64d"/><stop offset="0.2585" stop-color="#e8bf36"/><stop offset="0.3083" stop-color="#e7cb21"/><stop offset="0.3582" stop-color="#e6d90e"/><stop offset="0.3990" stop-color="#e6e402"/><stop offset="0.4081" stop-color="#e6e600"/><stop offset="0.4172" stop-color="#dae300"/><stop offset="0.5047" stop-color="#aad800"/><stop offset="0.6014" stop-color="#86cf00"/><stop offset="0.6980" stop-color="#6ac800"/><stop offset="0.7946" stop-color="#51c100"/><stop offset="0.8912" stop-color="#3cba00"/><stop offset="0.9879" stop-color="#29b400"/><stop offset="1.0000" stop-color="#26b300"/></linearGradient>
<linearGradient id="bs55" gradientUnits="userSpaceOnUse" x1="170" y1="0" x2="830" y2="0"><stop offset="0.0000" stop-color="#efc6b9"/><stop offset="0.0091" stop-color="#efc3b4"/><stop offset="0.0584" stop-color="#eeb799"/><stop offset="0.1077" stop-color="#ecb17e"/><stop offset="0.1570" stop-color="#ebb165"/><stop offset="0.2064" stop-color="#eab64d"/><stop offset="0.2557" stop-color="#e8bf36"/><stop offset="0.3050" stop-color="#e7cb21"/><stop offset="0.3543" stop-color="#e6d90e"/><stop offset="0.3945" stop-color="#e6e402"/><stop offset="0.4036" stop-color="#e6e600"/><stop offset="0.4127" stop-color="#dae300"/><stop offset="0.5010" stop-color="#a9d800"/><stop offset="0.5984" stop-color="#85cf00"/><stop offset="0.6957" stop-color="#68c700"/><stop offset="0.7931" stop-color="#4fc000"/><stop offset="0.8905" stop-color="#39b900"/><stop offset="0.9879" stop-color="#26b300"/><stop offset="1.0000" stop-color="#24b200"/></linearGradient>
<linearGradient id="bs56" gradientUnits="userSpaceOnUse" x1="170" y1="0" x2="830" y2="0"><stop offset="0.0000" stop-color="#efc5b8"/><stop offset="0.0091" stop-color="#efc2b3"/><stop offset="0.0578" stop-color="#eeb798"/><stop offset="0.1066" stop-color="#ecb17d"/><stop offset="0.1554" stop-color="#ebb164"/><stop offset="0.2041" stop-color="#eab64c"/><stop offset="0.2529" stop-color="#e8bf36"/><stop offset="0.3016" stop-color="#e7cb21"/><stop offset="0.3504" stop-color="#e6d90e"/><stop offset="0.3900" stop-color="#e6e402"/><stop offset="0.3991" stop-color="#e6e600"/><stop offset="0.4082" stop-color="#dae300"/><stop offset="0.4973" stop-color="#a8d700"/><stop offset="0.5954" stop-color="#83ce00"/><stop offset="0.6935" stop-color="#66c600"/><stop offset="0.7916" stop-color="#4dbf00"/><stop offset="0.8898" stop-color="#37b900"/><stop offset="0.9879" stop-color="#23b200"/><stop offset="1.0000" stop-color="#21b200"/></linearGradient>
<linearGradient id="bs57" gradientUnits="userSpaceOnUse" x1="170" y1="0" x2="830" y2="0"><stop offset="0.0000" stop-color="#efc4b7"/><stop offset="0.0091" stop-color="#efc1b2"/><stop offset="0.0573" stop-color="#eeb697"/><stop offset="0.1055" stop-color="#ecb17c"/><stop offset="0.1537" stop-color="#ebb263"/><stop offset="0.2019" stop-color="#eab64c"/><stop offset="0.2501" stop-color="#e8bf35"/><stop offset="0.2983" stop-color="#e7cb21"/><stop offset="0.3465" stop-color="#e6d90e"/><stop offset="0.3856" stop-color="#e6e402"/><stop offset="0.3947" stop-color="#e6e600"/><stop offset="0.4038" stop-color="#dae300"/><stop offset="0.4935" stop-color="#a7d700"/><stop offset="0.5924" stop-color="#82ce00"/><stop offset="0.6913" stop-color="#64c600"/><stop offset="0.7901" stop-color="#4abf00"/><stop offset="0.8890" stop-color="#34b800"/><stop offset="0.9879" stop-color="#20b100"/><stop offset="1.0000" stop-color="#1eb100"/></linearGradient>
<linearGradient id="bs58" gradientUnits="userSpaceOnUse" x1="170" y1="0" x2="830" y2="0"><stop offset="0.0000" stop-color="#efc4b6"/><stop offset="0.0091" stop-color="#efc1b1"/><stop offset="0.0567" stop-color="#eeb696"/><stop offset="0.1044" stop-color="#ecb17c"/><stop offset="0.1520" stop-color="#ebb263"/><stop offset="0.1996" stop-color="#eab74b"/><stop offset="0.2473" stop-color="#e8c035"/><stop offset="0.2949" stop-color="#e7cb20"/><stop offset="0.3425" stop-color="#e6d90e"/><stop offset="0.3811" stop-color="#e6e402"/><stop offset="0.3902" stop-color="#e6e600"/><stop offset="0.3993" stop-color="#dae300"/><stop offset="0.4898" stop-color="#a6d700"/><stop offset="0.5894" stop-color="#80cd00"/><stop offset="0.6890" stop-color="#62c500"/><stop offset="0.7886" stop-color="#48be00"/><stop offset="0.8883" stop-color="#32b700"/><stop offset="0.9879" stop-color="#1eb000"/><stop offset="1.0000" stop-color="#1bb000"/></linearGradient>
<linearGradient id="bs59" gradientUnits="userSpaceOnUse" x1="170" y1="0" x2="830" y2="0"><stop offset="0.0000" stop-color="#efc3b5"/><stop offset="0.0091" stop-color="#efc0b0"/><stop offset="0.0562" stop-color="#edb695"/><stop offset="0.1032" stop-color="#ecb17b"/><stop offset="0.1503" stop-color="#ebb262"/><stop offset="0.1974" stop-color="#eab74b"/><stop offset="0.2445" stop-color="#e8c035"/><stop offset="0.2916" stop-color="#e7cc20"/><stop offset="0.3386" stop-color="#e6d90e"/><stop offset="0.3766" stop-color="#e6e402"/><stop offset="0.3857" stop-color="#e6e600"/><stop offset="0.3948" stop-color="#d9e300"/><stop offset="0.4861" stop-color="#a5d700"/><stop offset="0.5864" stop-color="#7ecd00"/><stop offset="0.6868" stop-color="#60c500"/><stop offset="0.7872" stop-color="#46bd00"/><stop offset="0.8875" stop-color="#2fb600"/><stop offset="0.9879" stop-color="#1bb000"/><stop offset="1.0000" stop-color="#19af00"/></linearGradient>
<linearGradient id="bs60" gradientUnits="userSpaceOnUse" x1="170" y1="0" x2="830" y2="0"><stop offset="0.0000" stop-color="#efc2b4"/><stop offset="0.0091" stop-color="#efc0ae"/><stop offset="0.0556" stop-color="#edb694"/><stop offset="0.1021" stop-color="#ecb17a"/><stop offset="0.1486" stop-color="#ebb262"/><stop offset="0.1952" stop-color="#eab74a"/><stop offset="0.2417" stop-color="#e8c034"/><stop offset="0.2882" stop-color="#e7cc20"/><stop offset="0.3347" stop-color="#e6d90e"/><stop offset="0.3721" stop-color="#e6e402"/><stop offset="0.3812" stop-color="#e6e600"/><stop offset="0.3903" stop-color="#d9e300"/><stop offset="0.4823" stop-color="#a4d600"/><stop offset="0.5834" stop-color="#7dcd00"/><stop offset="0.6846" stop-color="#5ec400"/><stop offset="0.7857" stop-color="#43bd00"/><stop offset="0.8868" stop-color="#2cb500"/><stop offset="0.9879" stop-color="#18af00"/><stop offset="1.0000" stop-color="#16ae00"/></linearGradient>
<linearGradient id="bs61" gradientUnits="userSpaceOnUse" x1="170" y1="0" x2="830" y2="0"><stop offset="0.0000" stop-color="#efc2b3"/><stop offset="0.0091" stop-color="#efbfad"/><stop offset="0.0550" stop-color="#edb593"/><stop offset="0.1010" stop-color="#ecb179"/><stop offset="0.1470" stop-color="#ebb261"/><stop offset="0.1929" stop-color="#eab74a"/><stop offset="0.2389" stop-color="#e8c034"/><stop offset="0.2848" stop-color="#e7cc20"/><stop offset="0.3308" stop-color="#e6d90e"/><stop offset="0.3677" stop-color="#e6e402"/><stop offset="0.3768" stop-color="#e6e600"/><stop offset="0.3858" stop-color="#d9e300"/><stop offset="0.4786" stop-color="#a3d600"/><stop offset="0.5805" stop-color="#7bcc00"/><stop offset="0.6823" stop-color="#5cc400"/><stop offset="0.7842" stop-color="#41bc00"/><stop offset="0.8860" stop-color="#2ab500"/><stop offset="0.9879" stop-color="#16ae00"/><stop offset="1.0000" stop-color="#13ad00"/></linearGradient>
<linearGradient id="bs62" gradientUnits="userSpaceOnUse" x1="170" y1="0" x2="830" y2="0"><stop offset="0.0000" stop-color="#efc1b2"/><stop offset="0.0091" stop-color="#efbfac"/><stop offset="0.0545" stop-color="#edb592"/><stop offset="0.0999" stop-color="#ecb179"/><stop offset="0.1453" stop-color="#ebb260"/><stop offset="0.1907" stop-color="#eab749"/><stop offset="0.2361" stop-color="#e8c034"/><stop offset="0.2816" stop-color="#e7cc20"/><stop offset="0.3270" stop-color="#e6d90e"/><stop offset="0.3633" stop-color="#e6e402"/><stop offset="0.3724" stop-color="#e6e600"/><stop offset="0.3815" stop-color="#d9e300"/><stop offset="0.4750" stop-color="#a2d600"/><stop offset="0.5775" stop-color="#7acc00"/><stop offset="0.6801" stop-color="#5ac300"/><stop offset="0.7827" stop-color="#3fbb00"/><stop offset="0.8853" stop-color="#28b400"/><stop offset="0.9879" stop-color="#13ad00"/><stop offset="1.0000" stop-color="#11ac00"/></linearGradient>
<linearGradient id="bs63" gradientUnits="userSpaceOnUse" x1="170" y1="0" x2="830" y2="0"><stop offset="0.0000" stop-color="#efc1b0"/><stop offset="0.0091" stop-color="#efbeab"/><stop offset="0.0541" stop-color="#edb591"/><stop offset="0.0990" stop-color="#ecb178"/><stop offset="0.1440" stop-color="#ebb260"/><stop offset="0.1890" stop-color="#e9b749"/><stop offset="0.2339" stop-color="#e8c033"/><stop offset="0.2789" stop-color="#e7cc1f"/><stop offset="0.3239" stop-color="#e6d90e"/><stop offset="0.3597" stop-color="#e6e402"/><stop offset="0.3688" stop-color="#e6e600"/><stop offset="0.3779" stop-color="#d9e300"/><stop offset="0.4720" stop-color="#a0d600"/><stop offset="0.5752" stop-color="#78cb00"/><stop offset="0.6784" stop-color="#58c300"/><stop offset="0.7815" stop-color="#3dba00"/><stop offset="0.8847" stop-color="#25b300"/><stop offset="0.9879" stop-color="#11ac00"/><stop offset="1.0000" stop-color="#0eab00"/></linearGradient>
<linearGradient id="bs64" gradientUnits="userSpaceOnUse" x1="170" y1="0" x2="830" y2="0"><stop offset="0.0000" stop-color="#efc0af"/><stop offset="0.0091" stop-color="#efbeaa"/><stop offset="0.0536" stop-color="#edb590"/><stop offset="0.0981" stop-color="#ecb177"/><stop offset="0.1427" stop-color="#ebb25f"/><stop offset="0.1872" stop-color="#e9b848"/><stop offset="0.2317" stop-color="#e8c133"/><stop offset="0.2762" stop-color="#e7cc1f"/><stop offset="0.3208" stop-color="#e6da0e"/><stop offset="0.3562" stop-color="#e6e402"/><stop offset="0.3653" stop-color="#e6e600"/><stop offset="0.3744" stop-color="#d9e300"/><stop offset="0.4690" stop-color="#9fd500"/><stop offset="0.5728" stop-color="#76cb00"/><stop offset="0.6766" stop-color="#56c200"/><stop offset="0.7803" stop-color="#3aba00"/><stop offset="0.8841" stop-color="#23b200"/><stop offset="0.9879" stop-color="#0eab00"/><stop offset="1.0000" stop-color="#0caa00"/></linearGradient>
<linearGradient id="bs65" gradientUnits="userSpaceOnUse" x1="170" y1="0" x2="830" y2="0"><stop offset="0.0000" stop-color="#efc0ae"/><stop offset="0.0091" stop-color="#efbda9"/><stop offset="0.0532" stop-color="#edb48f"/><stop offset="0.0973" stop-color="#ecb176"/><stop offset="0.1413" stop-color="#ebb25e"/><stop offset="0.1854" stop-color="#e9b848"/><stop offset="0.2295" stop-color="#e8c133"/><stop offset="0.2736" stop-color="#e7cc1f"/><stop offset="0.3177" stop-color="#e6da0d"/><stop offset="0.3526" stop-color="#e6e402"/><stop offset="0.3617" stop-color="#e6e600"/><stop offset="0.3708" stop-color="#d9e300"/><stop offset="0.4661" stop-color="#9ed500"/><stop offset="0.5704" stop-color="#75cb00"/><stop offset="0.6748" stop-color="#54c100"/><stop offset="0.7792" stop-color="#38b900"/><stop offset="0.8835" stop-color="#20b100"/><stop offset="0.9879" stop-color="#0baa00"/><stop offset="1.0000" stop-color="#09a900"/></linearGradient>
<linearGradient id="bs66" gradientUnits="userSpaceOnUse" x1="170" y1="0" x2="830" y2="0"><stop offset="0.0000" stop-color="#efbfad"/><stop offset="0.0091" stop-color="#eebda8"/><stop offset="0.0527" stop-color="#edb48e"/><stop offset="0.0964" stop-color="#ecb175"/><stop offset="0.1400" stop-color="#ebb25e"/><stop offset="0.1836" stop-color="#e9b847"/><stop offset="0.2273" stop-color="#e8c132"/><stop offset="0.2709" stop-color="#e7cd1f"/><stop offset="0.3146" stop-color="#e6da0d"/><stop offset="0.3491" stop-color="#e6e402"/><stop offset="0.3582" stop-color="#e6e600"/><stop offset="0.3673" stop-color="#d9e300"/><stop offset="0.4631" stop-color="#9ed500"/><stop offset="0.5681" stop-color="#74ca00"/><stop offset="0.6730" stop-color="#53c100"/><stop offset="0.7780" stop-color="#37b900"/><stop offset="0.8829" stop-color="#1fb100"/><stop offset="0.9879" stop-color="#0aaa00"/><stop offset="1.0000" stop-color="#08a900"/></linearGradient>
<linearGradient id="bs67" gradientUnits="userSpaceOnUse" x1="170" y1="0" x2="830" y2="0"><stop offset="0.0000" stop-color="#efbfac"/><stop offset="0.0091" stop-color="#eebca7"/><stop offset="0.0525" stop-color="#edb48d"/><stop offset="0.0958" stop-color="#ecb175"/><stop offset="0.1392" stop-color="#ebb25d"/><stop offset="0.1826" stop-color="#e9b847"/><stop offset="0.2259" stop-color="#e8c132"/><stop offset="0.2693" stop-color="#e7cd1f"/><stop offset="0.3127" stop-color="#e6da0d"/><stop offset="0.3470" stop-color="#e6e402"/><stop offset="0.3561" stop-color="#e6e600"/><stop offset="0.3652" stop-color="#d9e300"/><stop offset="0.4614" stop-color="#9ed500"/><stop offset="0.5667" stop-color="#74ca00"/><stop offset="0.6720" stop-color="#53c100"/><stop offset="0.7773" stop-color="#37b900"/><stop offset="0.8826" stop-color="#1fb100"/><stop offset="0.9879" stop-color="#0aaa00"/><stop offset="1.0000" stop-color="#08a900"/></linearGradient>
<linearGradient id="bs68" gradientUnits="userSpaceOnUse" x1="170" y1="0" x2="830" y2="0"><stop offset="0.0000" stop-color="#efbfac"/><stop offset="0.0091" stop-color="#eebca7"/><stop offset="0.0525" stop-color="#edb48d"/><stop offset="0.0958" stop-color="#ecb175"/><stop offset="0.1392" stop-color="#ebb25d"/><stop offset="0.1826" stop-color="#e9b847"/><stop offset="0.2259" stop-color="#e8c132"/><stop offset="0.2693" stop-color="#e7cd1f"/><stop offset="0.3127" stop-color="#e6da0d"/><stop offset="0.3470" stop-color="#e6e402"/><stop offset="0.3561" stop-color="#e6e600"/><stop offset="0.3652" stop-color="#d9e300"/><stop offset="0.4614" stop-color="#9ed500"/><stop offset="0.5667" stop-color="#74ca00"/><stop offset="0.6720" stop-color="#53c100"/><stop offset="0.7773" stop-color="#37b900"/><stop offset="0.8826" stop-color="#1fb100"/><stop offset="0.9879" stop-color="#0aaa00"/><stop offset="1.0000" stop-color="#08a900"/></linearGradient>
<linearGradient id="tbar" x1="0" y1="0" x2="0" y2="1"><stop offset="0.000" stop-color="#00a600"/><stop offset="0.025" stop-color="#08a900"/><stop offset="0.050" stop-color="#11ac00"/><stop offset="0.075" stop-color="#1aaf00"/><stop offset="0.100" stop-color="#24b200"/><stop offset="0.125" stop-color="#2db600"/><stop offset="0.150" stop-color="#37b900"/><stop offset="0.175" stop-color="#42bc00"/><stop offset="0.200" stop-color="#4cbf00"/><stop offset="0.225" stop-color="#57c200"/><stop offset="0.250" stop-color="#63c600"/><stop offset="0.275" stop-color="#6ec900"/><stop offset="0.300" stop-color="#7acc00"/><stop offset="0.325" stop-color="#87cf00"/><stop offset="0.350" stop-color="#93d200"/><stop offset="0.375" stop-color="#a0d600"/><stop offset="0.400" stop-color="#add900"/><stop offset="0.425" stop-color="#bbdc00"/><stop offset="0.450" stop-color="#c9df00"/><stop offset="0.475" stop-color="#d7e200"/><stop offset="0.500" stop-color="#e6e600"/><stop offset="0.525" stop-color="#e6db0c"/><stop offset="0.550" stop-color="#e7d217"/><stop offset="0.575" stop-color="#e7ca23"/><stop offset="0.600" stop-color="#e8c32e"/><stop offset="0.625" stop-color="#e9bd3a"/><stop offset="0.650" stop-color="#e9b846"/><stop offset="0.675" stop-color="#eab552"/><stop offset="0.700" stop-color="#ebb25e"/><stop offset="0.725" stop-color="#ebb16a"/><stop offset="0.750" stop-color="#ecb176"/><stop offset="0.775" stop-color="#edb282"/><stop offset="0.800" stop-color="#edb48e"/><stop offset="0.825" stop-color="#eeb89b"/><stop offset="0.850" stop-color="#eebca7"/><stop offset="0.875" stop-color="#efc2b3"/><stop offset="0.900" stop-color="#f0c9c0"/><stop offset="0.925" stop-color="#f0d2cc"/><stop offset="0.950" stop-color="#f1dbd9"/><stop offset="0.975" stop-color="#f2e6e6"/><stop offset="1.000" stop-color="#f2f2f2"/></linearGradient>
<linearGradient id="tbarb" x1="0" y1="0" x2="0" y2="1"><stop offset="0.000" stop-color="#00a600"/><stop offset="0.025" stop-color="#08a900"/><stop offset="0.050" stop-color="#10ac00"/><stop offset="0.075" stop-color="#19af00"/><stop offset="0.100" stop-color="#22b200"/><stop offset="0.125" stop-color="#2bb500"/><stop offset="0.150" stop-color="#35b800"/><stop offset="0.175" stop-color="#3fbb00"/><stop offset="0.200" stop-color="#49be00"/><stop offset="0.225" stop-color="#53c100"/><stop offset="0.250" stop-color="#5ec400"/><stop offset="0.275" stop-color="#69c700"/><stop offset="0.300" stop-color="#74ca00"/><stop offset="0.325" stop-color="#80cd00"/><stop offset="0.350" stop-color="#8cd000"/><stop offset="0.375" stop-color="#98d400"/><stop offset="0.400" stop-color="#a4d700"/><stop offset="0.425" stop-color="#b1da00"/><stop offset="0.450" stop-color="#bedd00"/><stop offset="0.475" stop-color="#cce000"/><stop offset="0.500" stop-color="#d9e300"/><stop offset="0.525" stop-color="#e6e401"/><stop offset="0.550" stop-color="#e6da0d"/><stop offset="0.575" stop-color="#e7d119"/><stop offset="0.600" stop-color="#e7c924"/><stop offset="0.625" stop-color="#e8c230"/><stop offset="0.650" stop-color="#e9bc3c"/><stop offset="0.675" stop-color="#e9b848"/><stop offset="0.700" stop-color="#eab454"/><stop offset="0.725" stop-color="#ebb260"/><stop offset="0.750" stop-color="#ebb16c"/><stop offset="0.775" stop-color="#ecb178"/><stop offset="0.800" stop-color="#edb284"/><stop offset="0.825" stop-color="#edb590"/><stop offset="0.850" stop-color="#eeb89d"/><stop offset="0.875" stop-color="#efbda9"/><stop offset="0.900" stop-color="#efc3b6"/><stop offset="0.925" stop-color="#f0cbc2"/><stop offset="0.950" stop-color="#f0d3cf"/><stop offset="0.975" stop-color="#f1dddb"/><stop offset="1.000" stop-color="#f2e8e8"/></linearGradient>
<clipPath id="clip_g"><polygon points="1398.0,838.0 1960.0,842.0 1999.0,1300.0 2013.0,1482.0 1373.0,1477.0 1392.0,1039.0"/></clipPath>
<filter id="blur_g" x="-10%" y="-10%" width="120%" height="120%"><feGaussianBlur stdDeviation="26"/></filter>
<clipPath id="clip_d"><polygon points="488.2,2376.4 520.0,2374.3 537.0,2377.4 554.0,2391.3 575.4,2416.8 594.5,2421.0 622.2,2420.0 647.7,2429.5 670.0,2423.2 691.3,2420.0 712.5,2425.3 733.8,2442.3 744.4,2459.3 765.7,2472.0 780.6,2484.8 782.7,2438.0 801.8,2429.5 806.0,2433.8 797.6,2446.5 808.2,2472.0 818.8,2489.0 833.7,2493.3 844.4,2482.7 861.4,2489.0 874.1,2482.7 889.0,2457.2 899.6,2467.8 910.3,2480.6 925.2,2463.6 933.7,2455.0 933.7,2508.2 925.2,2531.6 908.1,2544.4 903.9,2572.0 897.5,2603.9 891.1,2635.8 886.9,2667.7 878.4,2699.6 882.6,2731.5 878.4,2774.0 867.7,2788.9 835.9,2786.8 838.0,2752.7 818.8,2742.1 797.6,2718.7 776.3,2699.6 765.7,2678.3 733.8,2674.1 712.5,2688.9 691.3,2674.1 670.0,2680.4 643.4,2708.1 626.4,2695.3 596.7,2701.7 590.3,2714.5 562.6,2714.5 554.1,2701.7 541.4,2672.0 520.1,2667.7 507.3,2678.3 498.8,2682.6 490.3,2672.0 479.7,2667.7 469.0,2646.4 435.0,2633.7 401.0,2644.3 362.8,2665.6 354.3,2652.8 367.0,2620.9 390.4,2603.9 392.5,2552.9 401.0,2548.6 413.8,2552.9 422.3,2561.4 434.0,2544.4 437.2,2497.6 443.6,2470.0 464.8,2459.3 475.5,2450.8 477.6,2412.5"/></clipPath>
<filter id="blur_d" x="-10%" y="-10%" width="120%" height="120%"><feGaussianBlur stdDeviation="10"/></filter>
<clipPath id="clip_i"><polygon points="1572.8,2664.7 1581.3,2632.8 1608.9,2594.5 1617.4,2520.1 1623.8,2511.6 1645.0,2498.8 1651.4,2477.6 1653.6,2435.0 1660.0,2403.2 1668.4,2371.3 1674.8,2352.1 1681.2,2354.3 1687.6,2377.6 1691.8,2403.2 1700.3,2413.8 1704.6,2371.3 1717.3,2358.5 1734.4,2362.8 1742.9,2381.9 1738.6,2405.3 1840.0,2403.0 1900.0,2401.0 1905.0,2392.0 1908.0,2388.0 1912.0,2398.0 1960.0,2398.0 2070.0,2393.0 2075.0,2403.0 2095.0,2400.0 2110.0,2410.0 2112.0,2425.0 2100.0,2440.0 2146.0,2703.0 2146.0,2711.0 1840.0,2720.0 1772.0,2724.0 1742.9,2724.0 1742.9,2658.3 1708.8,2652.0 1687.6,2658.3 1690.0,2711.5 1666.3,2724.2 1664.2,2707.2 1679.0,2658.3 1632.3,2698.7 1581.3,2694.5"/></clipPath>
<filter id="blur_i" x="-10%" y="-10%" width="120%" height="120%"><feGaussianBlur stdDeviation="10"/></filter>
<linearGradient id="spk" x1="0" y1="0" x2="0" y2="1"><stop offset="0" stop-color="#ff3000"/><stop offset="0.6" stop-color="#ff7000"/><stop offset="1" stop-color="#ffa000" stop-opacity="0"/></linearGradient>
</defs>
<rect width="2319" height="3796" fill="#fff"/>
<g clip-path="url(#clip_a)"><g filter="url(#blur_a)">
<rect x="95.0" y="-5.0" width="43.1" height="43.1" fill="#ff8c00"/>
<rect x="137.5" y="-5.0" width="43.1" height="43.1" fill="#ff8c00"/>
<rect x="180.0" y="-5.0" width="43.1" height="43.1" fill="#ff8c00"/>
<rect x="222.5" y="-5.0" width="43.1" height="43.1" fill="#ff8c00"/>
<rect x="265.0" y="-5.0" width="43.1" height="43.1" fill="#ffd700"/>
<rect x="307.5" y="-5.0" width="43.1" height="43.1" fill="#befa32"/>
<rect x="350.0" y="-5.0" width="43.1" height="43.1" fill="#befa32"/>
<rect x="392.5" y="-5.0" width="43.1" height="43.1" fill="#befa32"/>
<rect x="435.0" y="-5.0" width="43.1" height="43.1" fill="#fafa00"/>
<rect x="477.5" y="-5.0" width="43.1" height="43.1" fill="#fafa00"/>
<rect x="520.0" y="-5.0" width="43.1" height="43.1" fill="#befa32"/>
<rect x="562.5" y="-5.0" width="43.1" height="43.1" fill="#00b4f5"/>
<rect x="605.0" y="-5.0" width="43.1" height="43.1" fill="#fafa00"/>
<rect x="647.5" y="-5.0" width="43.1" height="43.1" fill="#00b4f5"/>
<rect x="690.0" y="-5.0" width="43.1" height="43.1" fill="#2de6c8"/>
<rect x="732.5" y="-5.0" width="43.1" height="43.1" fill="#2de6c8"/>
<rect x="775.0" y="-5.0" width="43.1" height="43.1" fill="#78f078"/>
<rect x="817.5" y="-5.0" width="43.1" height="43.1" fill="#78f078"/>
<rect x="860.0" y="-5.0" width="43.1" height="43.1" fill="#78f078"/>
<rect x="902.5" y="-5.0" width="43.1" height="43.1" fill="#78f078"/>
<rect x="95.0" y="37.5" width="43.1" height="43.1" fill="#ff8c00"/>
<rect x="137.5" y="37.5" width="43.1" height="43.1" fill="#ff8c00"/>
<rect x="180.0" y="37.5" width="43.1" height="43.1" fill="#ff8c00"/>
<rect x="222.5" y="37.5" width="43.1" height="43.1" fill="#ff8c00"/>
<rect x="265.0" y="37.5" width="43.1" height="43.1" fill="#ffd700"/>
<rect x="307.5" y="37.5" width="43.1" height="43.1" fill="#befa32"/>
<rect x="350.0" y="37.5" width="43.1" height="43.1" fill="#befa32"/>
<rect x="392.5" y="37.5" width="43.1" height="43.1" fill="#befa32"/>
<rect x="435.0" y="37.5" width="43.1" height="43.1" fill="#fafa00"/>
<rect x="477.5" y="37.5" width="43.1" height="43.1" fill="#fafa00"/>
<rect x="520.0" y="37.5" width="43.1" height="43.1" fill="#befa32"/>
<rect x="562.5" y="37.5" width="43.1" height="43.1" fill="#00b4f5"/>
<rect x="605.0" y="37.5" width="43.1" height="43.1" fill="#fafa00"/>
<rect x="647.5" y="37.5" width="43.1" height="43.1" fill="#00b4f5"/>
<rect x="690.0" y="37.5" width="43.1" height="43.1" fill="#2de6c8"/>
<rect x="732.5" y="37.5" width="43.1" height="43.1" fill="#2de6c8"/>
<rect x="775.0" y="37.5" width="43.1" height="43.1" fill="#78f078"/>
<rect x="817.5" y="37.5" width="43.1" height="43.1" fill="#78f078"/>
<rect x="860.0" y="37.5" width="43.1" height="43.1" fill="#78f078"/>
<rect x="902.5" y="37.5" width="43.1" height="43.1" fill="#78f078"/>
<rect x="95.0" y="80.0" width="43.1" height="43.1" fill="#ff8c00"/>
<rect x="137.5" y="80.0" width="43.1" height="43.1" fill="#ff8c00"/>
<rect x="180.0" y="80.0" width="43.1" height="43.1" fill="#ff8c00"/>
<rect x="222.5" y="80.0" width="43.1" height="43.1" fill="#ff8c00"/>
<rect x="265.0" y="80.0" width="43.1" height="43.1" fill="#ffd700"/>
<rect x="307.5" y="80.0" width="43.1" height="43.1" fill="#befa32"/>
<rect x="350.0" y="80.0" width="43.1" height="43.1" fill="#befa32"/>
<rect x="392.5" y="80.0" width="43.1" height="43.1" fill="#befa32"/>
<rect x="435.0" y="80.0" width="43.1" height="43.1" fill="#fafa00"/>
<rect x="477.5" y="80.0" width="43.1" height="43.1" fill="#fafa00"/>
<rect x="520.0" y="80.0" width="43.1" height="43.1" fill="#befa32"/>
<rect x="562.5" y="80.0" width="43.1" height="43.1" fill="#00b4f5"/>
<rect x="605.0" y="80.0" width="43.1" height="43.1" fill="#fafa00"/>
<rect x="647.5" y="80.0" width="43.1" height="43.1" fill="#00b4f5"/>
<rect x="690.0" y="80.0" width="43.1" height="43.1" fill="#2de6c8"/>
<rect x="732.5" y="80.0" width="43.1" height="43.1" fill="#2de6c8"/>
<rect x="775.0" y="80.0" width="43.1" height="43.1" fill="#78f078"/>
<rect x="817.5" y="80.0" width="43.1" height="43.1" fill="#78f078"/>
<rect x="860.0" y="80.0" width="43.1" height="43.1" fill="#78f078"/>
<rect x="902.5" y="80.0" width="43.1" height="43.1" fill="#78f078"/>
<rect x="95.0" y="122.5" width="43.1" height="43.1" fill="#ff8c00"/>
<rect x="137.5" y="122.5" width="43.1" height="43.1" fill="#ff8c00"/>
<rect x="180.0" y="122.5" width="43.1" height="43.1" fill="#ff8c00"/>
<rect x="222.5" y="122.5" width="43.1" height="43.1" fill="#ffb400"/>
<rect x="265.0" y="122.5" width="43.1" height="43.1" fill="#befa32"/>
<rect x="307.5" y="122.5" width="43.1" height="43.1" fill="#78f078"/>
<rect x="350.0" y="122.5" width="43.1" height="43.1" fill="#befa32"/>
<rect x="392.5" y="122.5" width="43.1" height="43.1" fill="#befa32"/>
<rect x="435.0" y="122.5" width="43.1" height="43.1" fill="#fafa00"/>
<rect x="477.5" y="122.5" width="43.1" height="43.1" fill="#befa32"/>
<rect x="520.0" y="122.5" width="43.1" height="43.1" fill="#78f078"/>
<rect x="562.5" y="122.5" width="43.1" height="43.1" fill="#005af5"/>
<rect x="605.0" y="122.5" width="43.1" height="43.1" fill="#005af5"/>
<rect x="647.5" y="122.5" width="43.1" height="43.1" fill="#2de6c8"/>
<rect x="690.0" y="122.5" width="43.1" height="43.1" fill="#00b4f5"/>
<rect x="732.5" y="122.5" width="43.1" height="43.1" fill="#2de6c8"/>
<rect x="775.0" y="122.5" width="43.1" height="43.1" fill="#2de6c8"/>
<rect x="817.5" y="122.5" width="43.1" height="43.1" fill="#78f078"/>
<rect x="860.0" y="122.5" width="43.1" height="43.1" fill="#78f078"/>
<rect x="902.5" y="122.5" width="43.1" height="43.1" fill="#78f078"/>
<rect x="95.0" y="165.0" width="43.1" height="43.1" fill="#ffb400"/>
<rect x="137.5" y="165.0" width="43.1" height="43.1" fill="#ffb400"/>
<rect x="180.0" y="165.0" width="43.1" height="43.1" fill="#ffb400"/>
<rect x="222.5" y="165.0" width="43.1" height="43.1" fill="#ffd700"/>
<rect x="265.0" y="165.0" width="43.1" height="43.1" fill="#ffd700"/>
<rect x="307.5" y="165.0" width="43.1" height="43.1" fill="#78f078"/>
<rect x="350.0" y="165.0" width="43.1" height="43.1" fill="#2de6c8"/>
<rect x="392.5" y="165.0" width="43.1" height="43.1" fill="#befa32"/>
<rect x="435.0" y="165.0" width="43.1" height="43.1" fill="#fafa00"/>
<rect x="477.5" y="165.0" width="43.1" height="43.1" fill="#78f078"/>
<rect x="520.0" y="165.0" width="43.1" height="43.1" fill="#78f078"/>
<rect x="562.5" y="165.0" width="43.1" height="43.1" fill="#befa32"/>
<rect x="605.0" y="165.0" width="43.1" height="43.1" fill="#78f078"/>
<rect x="647.5" y="165.0" width="43.1" height="43.1" fill="#78f078"/>
<rect x="690.0" y="165.0" width="43.1" height="43.1" fill="#00b4f5"/>
<rect x="732.5" y="165.0" width="43.1" height="43.1" fill="#00b4f5"/>
<rect x="775.0" y="165.0" width="43.1" height="43.1" fill="#2de6c8"/>
<rect x="817.5" y="165.0" width="43.1" height="43.1" fill="#78f078"/>
<rect x="860.0" y="165.0" width="43.1" height="43.1" fill="#78f078"/>
<rect x="902.5" y="165.0" width="43.1" height="43.1" fill="#78f078"/>
<rect x="95.0" y="207.5" width="43.1" height="43.1" fill="#befa32"/>
<rect x="137.5" y="207.5" width="43.1" height="43.1" fill="#befa32"/>
<rect x="180.0" y="207.5" width="43.1" height="43.1" fill="#befa32"/>
<rect x="222.5" y="207.5" width="43.1" height="43.1" fill="#befa32"/>
<rect x="265.0" y="207.5" width="43.1" height="43.1" fill="#fafa00"/>
<rect x="307.5" y="207.5" width="43.1" height="43.1" fill="#befa32"/>
<rect x="350.0" y="207.5" width="43.1" height="43.1" fill="#78f078"/>
<rect x="392.5" y="207.5" width="43.1" height="43.1" fill="#befa32"/>
<rect x="435.0" y="207.5" width="43.1" height="43.1" fill="#2de6c8"/>
<rect x="477.5" y="207.5" width="43.1" height="43.1" fill="#00b4f5"/>
<rect x="520.0" y="207.5" width="43.1" height="43.1" fill="#2de6c8"/>
<rect x="562.5" y="207.5" width="43.1" height="43.1" fill="#78f078"/>
<rect x="605.0" y="207.5" width="43.1" height="43.1" fill="#befa32"/>
<rect x="647.5" y="207.5" width="43.1" height="43.1" fill="#78f078"/>
<rect x="690.0" y="207.5" width="43.1" height="43.1" fill="#005af5"/>
<rect x="732.5" y="207.5" width="43.1" height="43.1" fill="#00b4f5"/>
<rect x="775.0" y="207.5" width="43.1" height="43.1" fill="#78f078"/>
<rect x="817.5" y="207.5" width="43.1" height="43.1" fill="#befa32"/>
<rect x="860.0" y="207.5" width="43.1" height="43.1" fill="#befa32"/>
<rect x="902.5" y="207.5" width="43.1" height="43.1" fill="#befa32"/>
<rect x="95.0" y="250.0" width="43.1" height="43.1" fill="#78f078"/>
<rect x="137.5" y="250.0" width="43.1" height="43.1" fill="#78f078"/>
<rect x="180.0" y="250.0" width="43.1" height="43.1" fill="#78f078"/>
<rect x="222.5" y="250.0" width="43.1" height="43.1" fill="#befa32"/>
<rect x="265.0" y="250.0" width="43.1" height="43.1" fill="#befa32"/>
<rect x="307.5" y="250.0" width="43.1" height="43.1" fill="#fafa00"/>
<rect x="350.0" y="250.0" width="43.1" height="43.1" fill="#fafa00"/>
<rect x="392.5" y="250.0" width="43.1" height="43.1" fill="#befa32"/>
<rect x="435.0" y="250.0" width="43.1" height="43.1" fill="#78f078"/>
<rect x="477.5" y="250.0" width="43.1" height="43.1" fill="#005af5"/>
<rect x="520.0" y="250.0" width="43.1" height="43.1" fill="#00b4f5"/>
<rect x="562.5" y="250.0" width="43.1" height="43.1" fill="#befa32"/>
<rect x="605.0" y="250.0" width="43.1" height="43.1" fill="#fafa00"/>
<rect x="647.5" y="250.0" width="43.1" height="43.1" fill="#befa32"/>
<rect x="690.0" y="250.0" width="43.1" height="43.1" fill="#2de6c8"/>
<rect x="732.5" y="250.0" width="43.1" height="43.1" fill="#2de6c8"/>
<rect x="775.0" y="250.0" width="43.1" height="43.1" fill="#befa32"/>
<rect x="817.5" y="250.0" width="43.1" height="43.1" fill="#befa32"/>
<rect x="860.0" y="250.0" width="43.1" height="43.1" fill="#befa32"/>
<rect x="902.5" y="250.0" width="43.1" height="43.1" fill="#befa32"/>
<rect x="95.0" y="292.5" width="43.1" height="43.1" fill="#befa32"/>
<rect x="137.5" y="292.5" width="43.1" height="43.1" fill="#befa32"/>
<rect x="180.0" y="292.5" width="43.1" height="43.1" fill="#befa32"/>
<rect x="222.5" y="292.5" width="43.1" height="43.1" fill="#2de6c8"/>
<rect x="265.0" y="292.5" width="43.1" height="43.1" fill="#befa32"/>
<rect x="307.5" y="292.5" width="43.1" height="43.1" fill="#fafa00"/>
<rect x="350.0" y="292.5" width="43.1" height="43.1" fill="#fafa00"/>
<rect x="392.5" y="292.5" width="43.1" height="43.1" fill="#befa32"/>
<rect x="435.0" y="292.5" width="43.1" height="43.1" fill="#78f078"/>
<rect x="477.5" y="292.5" width="43.1" height="43.1" fill="#00b4f5"/>
<rect x="520.0" y="292.5" width="43.1" height="43.1" fill="#005af5"/>
<rect x="562.5" y="292.5" width="43.1" height="43.1" fill="#2de6c8"/>
<rect x="605.0" y="292.5" width="43.1" height="43.1" fill="#befa32"/>
<rect x="647.5" y="292.5" width="43.1" height="43.1" fill="#befa32"/>
<rect x="690.0" y="292.5" width="43.1" height="43.1" fill="#005af5"/>
<rect x="732.5" y="292.5" width="43.1" height="43.1" fill="#ffb400"/>
<rect x="775.0" y="292.5" width="43.1" height="43.1" fill="#fafa00"/>
<rect x="817.5" y="292.5" width="43.1" height="43.1" fill="#fafa00"/>
<rect x="860.0" y="292.5" width="43.1" height="43.1" fill="#fafa00"/>
<rect x="902.5" y="292.5" width="43.1" height="43.1" fill="#fafa00"/>
<rect x="95.0" y="335.0" width="43.1" height="43.1" fill="#fafa00"/>
<rect x="137.5" y="335.0" width="43.1" height="43.1" fill="#fafa00"/>
<rect x="180.0" y="335.0" width="43.1" height="43.1" fill="#fafa00"/>
<rect x="222.5" y="335.0" width="43.1" height="43.1" fill="#ffb400"/>
<rect x="265.0" y="335.0" width="43.1" height="43.1" fill="#fafa00"/>
<rect x="307.5" y="335.0" width="43.1" height="43.1" fill="#fafa00"/>
<rect x="350.0" y="335.0" width="43.1" height="43.1" fill="#ffd700"/>
<rect x="392.5" y="335.0" width="43.1" height="43.1" fill="#fafa00"/>
<rect x="435.0" y="335.0" width="43.1" height="43.1" fill="#fafa00"/>
<rect x="477.5" y="335.0" width="43.1" height="43.1" fill="#befa32"/>
<rect x="520.0" y="335.0" width="43.1" height="43.1" fill="#78f078"/>
<rect x="562.5" y="335.0" width="43.1" height="43.1" fill="#78f078"/>
<rect x="605.0" y="335.0" width="43.1" height="43.1" fill="#befa32"/>
<rect x="647.5" y="335.0" width="43.1" height="43.1" fill="#78f078"/>
<rect x="690.0" y="335.0" width="43.1" height="43.1" fill="#fafa00"/>
<rect x="732.5" y="335.0" width="43.1" height="43.1" fill="#fafa00"/>
<rect x="775.0" y="335.0" width="43.1" height="43.1" fill="#ffb400"/>
<rect x="817.5" y="335.0" width="43.1" height="43.1" fill="#ffb400"/>
<rect x="860.0" y="335.0" width="43.1" height="43.1" fill="#ffb400"/>
<rect x="902.5" y="335.0" width="43.1" height="43.1" fill="#ffb400"/>
<rect x="95.0" y="377.5" width="43.1" height="43.1" fill="#fafa00"/>
<rect x="137.5" y="377.5" width="43.1" height="43.1" fill="#fafa00"/>
<rect x="180.0" y="377.5" width="43.1" height="43.1" fill="#fafa00"/>
<rect x="222.5" y="377.5" width="43.1" height="43.1" fill="#ffd700"/>
<rect x="265.0" y="377.5" width="43.1" height="43.1" fill="#fafa00"/>
<rect x="307.5" y="377.5" width="43.1" height="43.1" fill="#fafa00"/>
<rect x="350.0" y="377.5" width="43.1" height="43.1" fill="#ffb400"/>
<rect x="392.5" y="377.5" width="43.1" height="43.1" fill="#fafa00"/>
<rect x="435.0" y="377.5" width="43.1" height="43.1" fill="#befa32"/>
<rect x="477.5" y="377.5" width="43.1" height="43.1" fill="#fafa00"/>
<rect x="520.0" y="377.5" width="43.1" height="43.1" fill="#78f078"/>
<rect x="562.5" y="377.5" width="43.1" height="43.1" fill="#2de6c8"/>
<rect x="605.0" y="377.5" width="43.1" height="43.1" fill="#befa32"/>
<rect x="647.5" y="377.5" width="43.1" height="43.1" fill="#befa32"/>
<rect x="690.0" y="377.5" width="43.1" height="43.1" fill="#befa32"/>
<rect x="732.5" y="377.5" width="43.1" height="43.1" fill="#fafa00"/>
<rect x="775.0" y="377.5" width="43.1" height="43.1" fill="#ffd700"/>
<rect x="817.5" y="377.5" width="43.1" height="43.1" fill="#ff8c00"/>
<rect x="860.0" y="377.5" width="43.1" height="43.1" fill="#ff8c00"/>
<rect x="902.5" y="377.5" width="43.1" height="43.1" fill="#ff8c00"/>
<rect x="95.0" y="420.0" width="43.1" height="43.1" fill="#2de6c8"/>
<rect x="137.5" y="420.0" width="43.1" height="43.1" fill="#2de6c8"/>
<rect x="180.0" y="420.0" width="43.1" height="43.1" fill="#2de6c8"/>
<rect x="222.5" y="420.0" width="43.1" height="43.1" fill="#00b4f5"/>
<rect x="265.0" y="420.0" width="43.1" height="43.1" fill="#befa32"/>
<rect x="307.5" y="420.0" width="43.1" height="43.1" fill="#00b4f5"/>
<rect x="350.0" y="420.0" width="43.1" height="43.1" fill="#befa32"/>
<rect x="392.5" y="420.0" width="43.1" height="43.1" fill="#befa32"/>
<rect x="435.0" y="420.0" width="43.1" height="43.1" fill="#fafa00"/>
<rect x="477.5" y="420.0" width="43.1" height="43.1" fill="#fafa00"/>
<rect x="520.0" y="420.0" width="43.1" height="43.1" fill="#78f078"/>
<rect x="562.5" y="420.0" width="43.1" height="43.1" fill="#2de6c8"/>
<rect x="605.0" y="420.0" width="43.1" height="43.1" fill="#00e4f0"/>
<rect x="647.5" y="420.0" width="43.1" height="43.1" fill="#78f078"/>
<rect x="690.0" y="420.0" width="43.1" height="43.1" fill="#fafa00"/>
<rect x="732.5" y="420.0" width="43.1" height="43.1" fill="#ffd700"/>
<rect x="775.0" y="420.0" width="43.1" height="43.1" fill="#ff8c00"/>
<rect x="817.5" y="420.0" width="43.1" height="43.1" fill="#ff8c00"/>
<rect x="860.0" y="420.0" width="43.1" height="43.1" fill="#ff8c00"/>
<rect x="902.5" y="420.0" width="43.1" height="43.1" fill="#ff8c00"/>
<rect x="95.0" y="462.5" width="43.1" height="43.1" fill="#2de6c8"/>
<rect x="137.5" y="462.5" width="43.1" height="43.1" fill="#2de6c8"/>
<rect x="180.0" y="462.5" width="43.1" height="43.1" fill="#2de6c8"/>
<rect x="222.5" y="462.5" width="43.1" height="43.1" fill="#befa32"/>
<rect x="265.0" y="462.5" width="43.1" height="43.1" fill="#befa32"/>
<rect x="307.5" y="462.5" width="43.1" height="43.1" fill="#2de6c8"/>
<rect x="350.0" y="462.5" width="43.1" height="43.1" fill="#befa32"/>
<rect x="392.5" y="462.5" width="43.1" height="43.1" fill="#ffd700"/>
<rect x="435.0" y="462.5" width="43.1" height="43.1" fill="#fafa00"/>
<rect x="477.5" y="462.5" width="43.1" height="43.1" fill="#ffd700"/>
<rect x="520.0" y="462.5" width="43.1" height="43.1" fill="#2de6c8"/>
<rect x="562.5" y="462.5" width="43.1" height="43.1" fill="#2de6c8"/>
<rect x="605.0" y="462.5" width="43.1" height="43.1" fill="#00e4f0"/>
<rect x="647.5" y="462.5" width="43.1" height="43.1" fill="#78f078"/>
<rect x="690.0" y="462.5" width="43.1" height="43.1" fill="#befa32"/>
<rect x="732.5" y="462.5" width="43.1" height="43.1" fill="#ffd700"/>
<rect x="775.0" y="462.5" width="43.1" height="43.1" fill="#ff8c00"/>
<rect x="817.5" y="462.5" width="43.1" height="43.1" fill="#ff8c00"/>
<rect x="860.0" y="462.5" width="43.1" height="43.1" fill="#ff8c00"/>
<rect x="902.5" y="462.5" width="43.1" height="43.1" fill="#ff8c00"/>
<rect x="95.0" y="505.0" width="43.1" height="43.1" fill="#78f078"/>
<rect x="137.5" y="505.0" width="43.1" height="43.1" fill="#78f078"/>
<rect x="180.0" y="505.0" width="43.1" height="43.1" fill="#78f078"/>
<rect x="222.5" y="505.0" width="43.1" height="43.1" fill="#fafa00"/>
<rect x="265.0" y="505.0" width="43.1" height="43.1" fill="#befa32"/>
<rect x="307.5" y="505.0" width="43.1" height="43.1" fill="#befa32"/>
<rect x="350.0" y="505.0" width="43.1" height="43.1" fill="#fafa00"/>
<rect x="392.5" y="505.0" width="43.1" height="43.1" fill="#fafa00"/>
<rect x="435.0" y="505.0" width="43.1" height="43.1" fill="#ffd700"/>
<rect x="477.5" y="505.0" width="43.1" height="43.1" fill="#ffd700"/>
<rect x="520.0" y="505.0" width="43.1" height="43.1" fill="#2de6c8"/>
<rect x="562.5" y="505.0" width="43.1" height="43.1" fill="#2de6c8"/>
<rect x="605.0" y="505.0" width="43.1" height="43.1" fill="#2de6c8"/>
<rect x="647.5" y="505.0" width="43.1" height="43.1" fill="#befa32"/>
<rect x="690.0" y="505.0" width="43.1" height="43.1" fill="#fafa00"/>
<rect x="732.5" y="505.0" width="43.1" height="43.1" fill="#ffb400"/>
<rect x="775.0" y="505.0" width="43.1" height="43.1" fill="#ffb400"/>
<rect x="817.5" y="505.0" width="43.1" height="43.1" fill="#ff5000"/>
<rect x="860.0" y="505.0" width="43.1" height="43.1" fill="#ff5000"/>
<rect x="902.5" y="505.0" width="43.1" height="43.1" fill="#ff5000"/>
<rect x="95.0" y="547.5" width="43.1" height="43.1" fill="#fafa00"/>
<rect x="137.5" y="547.5" width="43.1" height="43.1" fill="#fafa00"/>
<rect x="180.0" y="547.5" width="43.1" height="43.1" fill="#fafa00"/>
<rect x="222.5" y="547.5" width="43.1" height="43.1" fill="#befa32"/>
<rect x="265.0" y="547.5" width="43.1" height="43.1" fill="#befa32"/>
<rect x="307.5" y="547.5" width="43.1" height="43.1" fill="#78f078"/>
<rect x="350.0" y="547.5" width="43.1" height="43.1" fill="#00b4f5"/>
<rect x="392.5" y="547.5" width="43.1" height="43.1" fill="#fafa00"/>
<rect x="435.0" y="547.5" width="43.1" height="43.1" fill="#78f078"/>
<rect x="477.5" y="547.5" width="43.1" height="43.1" fill="#ff8c00"/>
<rect x="520.0" y="547.5" width="43.1" height="43.1" fill="#fafa00"/>
<rect x="562.5" y="547.5" width="43.1" height="43.1" fill="#befa32"/>
<rect x="605.0" y="547.5" width="43.1" height="43.1" fill="#befa32"/>
<rect x="647.5" y="547.5" width="43.1" height="43.1" fill="#fafa00"/>
<rect x="690.0" y="547.5" width="43.1" height="43.1" fill="#ffd700"/>
<rect x="732.5" y="547.5" width="43.1" height="43.1" fill="#ffb400"/>
<rect x="775.0" y="547.5" width="43.1" height="43.1" fill="#ffb400"/>
<rect x="817.5" y="547.5" width="43.1" height="43.1" fill="#ff8c00"/>
<rect x="860.0" y="547.5" width="43.1" height="43.1" fill="#ff8c00"/>
<rect x="902.5" y="547.5" width="43.1" height="43.1" fill="#ff8c00"/>
<rect x="95.0" y="590.0" width="43.1" height="43.1" fill="#78f078"/>
<rect x="137.5" y="590.0" width="43.1" height="43.1" fill="#78f078"/>
<rect x="180.0" y="590.0" width="43.1" height="43.1" fill="#78f078"/>
<rect x="222.5" y="590.0" width="43.1" height="43.1" fill="#befa32"/>
<rect x="265.0" y="590.0" width="43.1" height="43.1" fill="#fafa00"/>
<rect x="307.5" y="590.0" width="43.1" height="43.1" fill="#78f078"/>
<rect x="350.0" y="590.0" width="43.1" height="43.1" fill="#00b4f5"/>
<rect x="392.5" y="590.0" width="43.1" height="43.1" fill="#ff8c00"/>
<rect x="435.0" y="590.0" width="43.1" height="43.1" fill="#ff8c00"/>
<rect x="477.5" y="590.0" width="43.1" height="43.1" fill="#ff8c00"/>
<rect x="520.0" y="590.0" width="43.1" height="43.1" fill="#ff8c00"/>
<rect x="562.5" y="590.0" width="43.1" height="43.1" fill="#fafa00"/>
<rect x="605.0" y="590.0" width="43.1" height="43.1" fill="#ffd700"/>
<rect x="647.5" y="590.0" width="43.1" height="43.1" fill="#ffd700"/>
<rect x="690.0" y="590.0" width="43.1" height="43.1" fill="#ffb400"/>
<rect x="732.5" y="590.0" width="43.1" height="43.1" fill="#fafa00"/>
<rect x="775.0" y="590.0" width="43.1" height="43.1" fill="#fafa00"/>
<rect x="817.5" y="590.0" width="43.1" height="43.1" fill="#befa32"/>
<rect x="860.0" y="590.0" width="43.1" height="43.1" fill="#befa32"/>
<rect x="902.5" y="590.0" width="43.1" height="43.1" fill="#befa32"/>
<rect x="95.0" y="632.5" width="43.1" height="43.1" fill="#78f078"/>
<rect x="137.5" y="632.5" width="43.1" height="43.1" fill="#78f078"/>
<rect x="180.0" y="632.5" width="43.1" height="43.1" fill="#78f078"/>
<rect x="222.5" y="632.5" width="43.1" height="43.1" fill="#befa32"/>
<rect x="265.0" y="632.5" width="43.1" height="43.1" fill="#fafa00"/>
<rect x="307.5" y="632.5" width="43.1" height="43.1" fill="#ff8c00"/>
<rect x="350.0" y="632.5" width="43.1" height="43.1" fill="#ff5000"/>
<rect x="392.5" y="632.5" width="43.1" height="43.1" fill="#ff5000"/>
<rect x="435.0" y="632.5" width="43.1" height="43.1" fill="#ff8c00"/>
<rect x="477.5" y="632.5" width="43.1" height="43.1" fill="#ff8c00"/>
<rect x="520.0" y="632.5" width="43.1" height="43.1" fill="#ff5000"/>
<rect x="562.5" y="632.5" width="43.1" height="43.1" fill="#ff8c00"/>
<rect x="605.0" y="632.5" width="43.1" height="43.1" fill="#fafa00"/>
<rect x="647.5" y="632.5" width="43.1" height="43.1" fill="#fafa00"/>
<rect x="690.0" y="632.5" width="43.1" height="43.1" fill="#78f078"/>
<rect x="732.5" y="632.5" width="43.1" height="43.1" fill="#2de6c8"/>
<rect x="775.0" y="632.5" width="43.1" height="43.1" fill="#00e4f0"/>
<rect x="817.5" y="632.5" width="43.1" height="43.1" fill="#00e4f0"/>
<rect x="860.0" y="632.5" width="43.1" height="43.1" fill="#00e4f0"/>
<rect x="902.5" y="632.5" width="43.1" height="43.1" fill="#00e4f0"/>
<rect x="95.0" y="675.0" width="43.1" height="43.1" fill="#78f078"/>
<rect x="137.5" y="675.0" width="43.1" height="43.1" fill="#78f078"/>
<rect x="180.0" y="675.0" width="43.1" height="43.1" fill="#78f078"/>
<rect x="222.5" y="675.0" width="43.1" height="43.1" fill="#fafa00"/>
<rect x="265.0" y="675.0" width="43.1" height="43.1" fill="#ffd700"/>
<rect x="307.5" y="675.0" width="43.1" height="43.1" fill="#ff5000"/>
<rect x="350.0" y="675.0" width="43.1" height="43.1" fill="#f51400"/>
<rect x="392.5" y="675.0" width="43.1" height="43.1" fill="#ff5000"/>
<rect x="435.0" y="675.0" width="43.1" height="43.1" fill="#ff5000"/>
<rect x="477.5" y="675.0" width="43.1" height="43.1" fill="#ff8c00"/>
<rect x="520.0" y="675.0" width="43.1" height="43.1" fill="#ff8c00"/>
<rect x="562.5" y="675.0" width="43.1" height="43.1" fill="#ff8c00"/>
<rect x="605.0" y="675.0" width="43.1" height="43.1" fill="#ffb400"/>
<rect x="647.5" y="675.0" width="43.1" height="43.1" fill="#befa32"/>
<rect x="690.0" y="675.0" width="43.1" height="43.1" fill="#78f078"/>
<rect x="732.5" y="675.0" width="43.1" height="43.1" fill="#78f078"/>
<rect x="775.0" y="675.0" width="43.1" height="43.1" fill="#00e4f0"/>
<rect x="817.5" y="675.0" width="43.1" height="43.1" fill="#00e4f0"/>
<rect x="860.0" y="675.0" width="43.1" height="43.1" fill="#00e4f0"/>
<rect x="902.5" y="675.0" width="43.1" height="43.1" fill="#00e4f0"/>
<rect x="95.0" y="717.5" width="43.1" height="43.1" fill="#78f078"/>
<rect x="137.5" y="717.5" width="43.1" height="43.1" fill="#78f078"/>
<rect x="180.0" y="717.5" width="43.1" height="43.1" fill="#78f078"/>
<rect x="222.5" y="717.5" width="43.1" height="43.1" fill="#fafa00"/>
<rect x="265.0" y="717.5" width="43.1" height="43.1" fill="#ffd700"/>
<rect x="307.5" y="717.5" width="43.1" height="43.1" fill="#fafa00"/>
<rect x="350.0" y="717.5" width="43.1" height="43.1" fill="#ff8c00"/>
<rect x="392.5" y="717.5" width="43.1" height="43.1" fill="#ff8c00"/>
<rect x="435.0" y="717.5" width="43.1" height="43.1" fill="#2de6c8"/>
<rect x="477.5" y="717.5" width="43.1" height="43.1" fill="#ff8c00"/>
<rect x="520.0" y="717.5" width="43.1" height="43.1" fill="#fafa00"/>
<rect x="562.5" y="717.5" width="43.1" height="43.1" fill="#ff8c00"/>
<rect x="605.0" y="717.5" width="43.1" height="43.1" fill="#ff8c00"/>
<rect x="647.5" y="717.5" width="43.1" height="43.1" fill="#ff8c00"/>
<rect x="690.0" y="717.5" width="43.1" height="43.1" fill="#befa32"/>
<rect x="732.5" y="717.5" width="43.1" height="43.1" fill="#78f078"/>
<rect x="775.0" y="717.5" width="43.1" height="43.1" fill="#2de6c8"/>
<rect x="817.5" y="717.5" width="43.1" height="43.1" fill="#00e4f0"/>
<rect x="860.0" y="717.5" width="43.1" height="43.1" fill="#00e4f0"/>
<rect x="902.5" y="717.5" width="43.1" height="43.1" fill="#00e4f0"/>
<rect x="95.0" y="760.0" width="43.1" height="43.1" fill="#78f078"/>
<rect x="137.5" y="760.0" width="43.1" height="43.1" fill="#78f078"/>
<rect x="180.0" y="760.0" width="43.1" height="43.1" fill="#78f078"/>
<rect x="222.5" y="760.0" width="43.1" height="43.1" fill="#fafa00"/>
<rect x="265.0" y="760.0" width="43.1" height="43.1" fill="#ffd700"/>
<rect x="307.5" y="760.0" width="43.1" height="43.1" fill="#fafa00"/>
<rect x="350.0" y="760.0" width="43.1" height="43.1" fill="#ff8c00"/>
<rect x="392.5" y="760.0" width="43.1" height="43.1" fill="#ff8c00"/>
<rect x="435.0" y="760.0" width="43.1" height="43.1" fill="#2de6c8"/>
<rect x="477.5" y="760.0" width="43.1" height="43.1" fill="#ff8c00"/>
<rect x="520.0" y="760.0" width="43.1" height="43.1" fill="#fafa00"/>
<rect x="562.5" y="760.0" width="43.1" height="43.1" fill="#ff8c00"/>
<rect x="605.0" y="760.0" width="43.1" height="43.1" fill="#ff8c00"/>
<rect x="647.5" y="760.0" width="43.1" height="43.1" fill="#ff8c00"/>
<rect x="690.0" y="760.0" width="43.1" height="43.1" fill="#befa32"/>
<rect x="732.5" y="760.0" width="43.1" height="43.1" fill="#78f078"/>
<rect x="775.0" y="760.0" width="43.1" height="43.1" fill="#2de6c8"/>
<rect x="817.5" y="760.0" width="43.1" height="43.1" fill="#00e4f0"/>
<rect x="860.0" y="760.0" width="43.1" height="43.1" fill="#00e4f0"/>
<rect x="902.5" y="760.0" width="43.1" height="43.1" fill="#00e4f0"/>
<rect x="95.0" y="802.5" width="43.1" height="43.1" fill="#78f078"/>
<rect x="137.5" y="802.5" width="43.1" height="43.1" fill="#78f078"/>
<rect x="180.0" y="802.5" width="43.1" height="43.1" fill="#78f078"/>
<rect x="222.5" y="802.5" width="43.1" height="43.1" fill="#fafa00"/>
<rect x="265.0" y="802.5" width="43.1" height="43.1" fill="#ffd700"/>
<rect x="307.5" y="802.5" width="43.1" height="43.1" fill="#fafa00"/>
<rect x="350.0" y="802.5" width="43.1" height="43.1" fill="#ff8c00"/>
<rect x="392.5" y="802.5" width="43.1" height="43.1" fill="#ff8c00"/>
<rect x="435.0" y="802.5" width="43.1" height="43.1" fill="#2de6c8"/>
<rect x="477.5" y="802.5" width="43.1" height="43.1" fill="#ff8c00"/>
<rect x="520.0" y="802.5" width="43.1" height="43.1" fill="#fafa00"/>
<rect x="562.5" y="802.5" width="43.1" height="43.1" fill="#ff8c00"/>
<rect x="605.0" y="802.5" width="43.1" height="43.1" fill="#ff8c00"/>
<rect x="647.5" y="802.5" width="43.1" height="43.1" fill="#ff8c00"/>
<rect x="690.0" y="802.5" width="43.1" height="43.1" fill="#befa32"/>
<rect x="732.5" y="802.5" width="43.1" height="43.1" fill="#78f078"/>
<rect x="775.0" y="802.5" width="43.1" height="43.1" fill="#2de6c8"/>
<rect x="817.5" y="802.5" width="43.1" height="43.1" fill="#00e4f0"/>
<rect x="860.0" y="802.5" width="43.1" height="43.1" fill="#00e4f0"/>
<rect x="902.5" y="802.5" width="43.1" height="43.1" fill="#00e4f0"/>
</g></g>
<g clip-path="url(#clip_a)">
<polygon points="565.0,150.0 580.0,136.0 600.0,127.0 625.0,124.0 648.0,114.0 652.0,99.0 662.0,99.0 664.0,128.0 645.0,140.0 615.0,150.0 590.0,163.0 572.0,178.0 564.0,172.0" fill="#0a78f0" filter="url(#soft3)"/>
<polygon points="608.0,94.0 643.0,94.0 644.0,118.0 628.0,124.0 612.0,122.0 607.0,110.0" fill="#ffd000" filter="url(#soft3)"/>
<polygon points="478.0,242.0 495.0,240.0 520.0,248.0 533.0,255.0 533.0,280.0 530.0,296.0 545.0,305.0 562.0,318.0 560.0,330.0 545.0,332.0 528.0,318.0 512.0,310.0 490.0,312.0 480.0,305.0 478.0,280.0" fill="#0a6cf0" filter="url(#soft3)"/>
<polygon points="703.0,295.0 725.0,290.0 738.0,300.0 735.0,330.0 725.0,340.0 712.0,335.0 703.0,320.0" fill="#0a40f0" filter="url(#soft3)"/>
<polygon points="752.0,290.0 775.0,285.0 790.0,300.0 788.0,330.0 770.0,342.0 752.0,335.0 745.0,310.0" fill="#ffd800" filter="url(#soft3)"/>
</g>
<polygon points="690.0,342.0 720.0,338.0 745.0,348.0 770.0,343.0 790.0,352.0 785.0,372.0 768.0,383.0 740.0,386.0 712.0,392.0 694.0,378.0" fill="#fff" filter="url(#soft)"/>
<polygon points="686.0,228.0 700.0,233.0 712.0,250.0 745.0,258.0 748.0,270.0 725.0,272.0 700.0,262.0 690.0,248.0" fill="#fff" filter="url(#soft)"/>
<polygon points="470.0,238.0 480.0,236.0 484.0,255.0 480.0,272.0 472.0,262.0" fill="#fff" filter="url(#soft)"/>
<polygon points="283.0,443.0 300.0,441.0 316.0,447.0 310.0,459.0 292.0,461.0 286.0,453.0" fill="#fff" filter="url(#soft)"/>
<polygon points="760.0,463.0 768.0,461.0 770.0,470.0 762.0,472.0" fill="#fff" filter="url(#soft)"/>
<polygon points="268.0,743.0 283.0,740.0 300.0,742.0 304.0,752.0 286.0,756.0 272.0,755.0" fill="#ff5a10" />
<rect x="198.1" y="246.4" width="9.1" height="9.8" fill="#000"/>
<rect x="215.0" y="246.5" width="9.1" height="9.8" fill="#000"/>
<rect x="231.8" y="246.6" width="9.1" height="9.8" fill="#000"/>
<rect x="248.7" y="246.7" width="9.1" height="9.8" fill="#000"/>
<rect x="265.5" y="246.8" width="9.1" height="9.8" fill="#000"/>
<rect x="282.4" y="247.0" width="9.1" height="9.8" fill="#000"/>
<rect x="299.3" y="247.1" width="9.1" height="9.8" fill="#000"/>
<rect x="316.1" y="247.2" width="9.1" height="9.8" fill="#000"/>
<rect x="333.0" y="247.3" width="9.1" height="9.8" fill="#000"/>
<rect x="349.8" y="247.4" width="9.1" height="9.8" fill="#000"/>
<rect x="366.7" y="247.5" width="9.1" height="9.8" fill="#000"/>
<rect x="383.6" y="247.6" width="9.1" height="9.8" fill="#000"/>
<rect x="400.4" y="247.7" width="9.1" height="9.8" fill="#000"/>
<rect x="417.3" y="247.9" width="9.1" height="9.8" fill="#000"/>
<rect x="434.1" y="248.0" width="9.1" height="9.8" fill="#000"/>
<rect x="451.0" y="248.1" width="9.1" height="9.8" fill="#000"/>
<rect x="467.9" y="248.2" width="9.1" height="9.8" fill="#000"/>
<rect x="484.7" y="248.3" width="9.1" height="9.8" fill="#000"/>
<rect x="501.6" y="248.4" width="9.1" height="9.8" fill="#000"/>
<rect x="518.4" y="248.5" width="9.1" height="9.8" fill="#000"/>
<rect x="535.3" y="248.6" width="9.1" height="9.8" fill="#000"/>
<rect x="552.2" y="248.7" width="9.1" height="9.8" fill="#000"/>
<rect x="569.0" y="248.9" width="9.1" height="9.8" fill="#000"/>
<rect x="585.9" y="249.0" width="9.1" height="9.8" fill="#000"/>
<rect x="602.7" y="249.1" width="9.1" height="9.8" fill="#000"/>
<rect x="619.6" y="249.2" width="9.1" height="9.8" fill="#000"/>
<rect x="636.5" y="249.3" width="9.1" height="9.8" fill="#000"/>
<rect x="653.3" y="249.4" width="9.1" height="9.8" fill="#000"/>
<rect x="670.2" y="249.5" width="9.1" height="9.8" fill="#000"/>
<rect x="687.0" y="249.6" width="9.1" height="9.8" fill="#000"/>
<rect x="703.9" y="249.8" width="9.1" height="9.8" fill="#000"/>
<rect x="720.8" y="249.9" width="9.1" height="9.8" fill="#000"/>
<rect x="737.6" y="250.0" width="9.1" height="9.8" fill="#000"/>
<rect x="754.5" y="250.1" width="9.1" height="9.8" fill="#000"/>
<rect x="771.3" y="250.2" width="9.1" height="9.8" fill="#000"/>
<rect x="788.2" y="250.3" width="9.1" height="9.8" fill="#000"/>
<rect x="805.1" y="250.4" width="9.1" height="9.8" fill="#000"/>
<rect x="821.9" y="250.5" width="9.1" height="9.8" fill="#000"/>
<text x="188.0" y="148.0" font-size="67.0" text-anchor="start" fill="#000" >(a)</text>
<text x="883.5" y="150.0" font-size="67.0" text-anchor="start" fill="#000" >(m)</text>
<rect x="868" y="193" width="32" height="529" fill="url(#jetbar)"/>
<text x="904.0" y="231.0" font-size="48.0" text-anchor="start" fill="#000" >high</text>
<text x="906.0" y="704.5" font-size="48.0" text-anchor="start" fill="#000" >low</text>
<text x="438.0" y="712.0" font-size="57.5" text-anchor="start" fill="#000" >Point cloud</text>
<g clip-path="url(#clip_f)"><g filter="url(#blur_f)">
<rect x="1250.0" y="5.0" width="43.1" height="43.1" fill="#00e4f0"/>
<rect x="1292.5" y="5.0" width="43.1" height="43.1" fill="#00e4f0"/>
<rect x="1335.0" y="5.0" width="43.1" height="43.1" fill="#00e4f0"/>
<rect x="1377.5" y="5.0" width="43.1" height="43.1" fill="#00e4f0"/>
<rect x="1420.0" y="5.0" width="43.1" height="43.1" fill="#00b4f5"/>
<rect x="1462.5" y="5.0" width="43.1" height="43.1" fill="#0028f5"/>
<rect x="1505.0" y="5.0" width="43.1" height="43.1" fill="#0028f5"/>
<rect x="1547.5" y="5.0" width="43.1" height="43.1" fill="#005af5"/>
<rect x="1590.0" y="5.0" width="43.1" height="43.1" fill="#005af5"/>
<rect x="1632.5" y="5.0" width="43.1" height="43.1" fill="#005af5"/>
<rect x="1675.0" y="5.0" width="43.1" height="43.1" fill="#0087f0"/>
<rect x="1717.5" y="5.0" width="43.1" height="43.1" fill="#0087f0"/>
<rect x="1760.0" y="5.0" width="43.1" height="43.1" fill="#0087f0"/>
<rect x="1802.5" y="5.0" width="43.1" height="43.1" fill="#0087f0"/>
<rect x="1845.0" y="5.0" width="43.1" height="43.1" fill="#0087f0"/>
<rect x="1887.5" y="5.0" width="43.1" height="43.1" fill="#0087f0"/>
<rect x="1930.0" y="5.0" width="43.1" height="43.1" fill="#0087f0"/>
<rect x="1972.5" y="5.0" width="43.1" height="43.1" fill="#0087f0"/>
<rect x="2015.0" y="5.0" width="43.1" height="43.1" fill="#0087f0"/>
<rect x="2057.5" y="5.0" width="43.1" height="43.1" fill="#0087f0"/>
<rect x="2100.0" y="5.0" width="43.1" height="43.1" fill="#0087f0"/>
<rect x="1250.0" y="47.5" width="43.1" height="43.1" fill="#00e4f0"/>
<rect x="1292.5" y="47.5" width="43.1" height="43.1" fill="#00e4f0"/>
<rect x="1335.0" y="47.5" width="43.1" height="43.1" fill="#00e4f0"/>
<rect x="1377.5" y="47.5" width="43.1" height="43.1" fill="#00e4f0"/>
<rect x="1420.0" y="47.5" width="43.1" height="43.1" fill="#00b4f5"/>
<rect x="1462.5" y="47.5" width="43.1" height="43.1" fill="#0028f5"/>
<rect x="1505.0" y="47.5" width="43.1" height="43.1" fill="#0028f5"/>
<rect x="1547.5" y="47.5" width="43.1" height="43.1" fill="#005af5"/>
<rect x="1590.0" y="47.5" width="43.1" height="43.1" fill="#005af5"/>
<rect x="1632.5" y="47.5" width="43.1" height="43.1" fill="#005af5"/>
<rect x="1675.0" y="47.5" width="43.1" height="43.1" fill="#0087f0"/>
<rect x="1717.5" y="47.5" width="43.1" height="43.1" fill="#0087f0"/>
<rect x="1760.0" y="47.5" width="43.1" height="43.1" fill="#0087f0"/>
<rect x="1802.5" y="47.5" width="43.1" height="43.1" fill="#0087f0"/>
<rect x="1845.0" y="47.5" width="43.1" height="43.1" fill="#0087f0"/>
<rect x="1887.5" y="47.5" width="43.1" height="43.1" fill="#0087f0"/>
<rect x="1930.0" y="47.5" width="43.1" height="43.1" fill="#0087f0"/>
<rect x="1972.5" y="47.5" width="43.1" height="43.1" fill="#0087f0"/>
<rect x="2015.0" y="47.5" width="43.1" height="43.1" fill="#0087f0"/>
<rect x="2057.5" y="47.5" width="43.1" height="43.1" fill="#0087f0"/>
<rect x="2100.0" y="47.5" width="43.1" height="43.1" fill="#0087f0"/>
<rect x="1250.0" y="90.0" width="43.1" height="43.1" fill="#00e4f0"/>
<rect x="1292.5" y="90.0" width="43.1" height="43.1" fill="#00e4f0"/>
<rect x="1335.0" y="90.0" width="43.1" height="43.1" fill="#00e4f0"/>
<rect x="1377.5" y="90.0" width="43.1" height="43.1" fill="#00e4f0"/>
<rect x="1420.0" y="90.0" width="43.1" height="43.1" fill="#00b4f5"/>
<rect x="1462.5" y="90.0" width="43.1" height="43.1" fill="#0028f5"/>
<rect x="1505.0" y="90.0" width="43.1" height="43.1" fill="#0028f5"/>
<rect x="1547.5" y="90.0" width="43.1" height="43.1" fill="#005af5"/>
<rect x="1590.0" y="90.0" width="43.1" height="43.1" fill="#005af5"/>
<rect x="1632.5" y="90.0" width="43.1" height="43.1" fill="#005af5"/>
<rect x="1675.0" y="90.0" width="43.1" height="43.1" fill="#0087f0"/>
<rect x="1717.5" y="90.0" width="43.1" height="43.1" fill="#0087f0"/>
<rect x="1760.0" y="90.0" width="43.1" height="43.1" fill="#0087f0"/>
<rect x="1802.5" y="90.0" width="43.1" height="43.1" fill="#0087f0"/>
<rect x="1845.0" y="90.0" width="43.1" height="43.1" fill="#0087f0"/>
<rect x="1887.5" y="90.0" width="43.1" height="43.1" fill="#0087f0"/>
<rect x="1930.0" y="90.0" width="43.1" height="43.1" fill="#0087f0"/>
<rect x="1972.5" y="90.0" width="43.1" height="43.1" fill="#0087f0"/>
<rect x="2015.0" y="90.0" width="43.1" height="43.1" fill="#0087f0"/>
<rect x="2057.5" y="90.0" width="43.1" height="43.1" fill="#0087f0"/>
<rect x="2100.0" y="90.0" width="43.1" height="43.1" fill="#0087f0"/>
<rect x="1250.0" y="132.5" width="43.1" height="43.1" fill="#0028f5"/>
<rect x="1292.5" y="132.5" width="43.1" height="43.1" fill="#0028f5"/>
<rect x="1335.0" y="132.5" width="43.1" height="43.1" fill="#0028f5"/>
<rect x="1377.5" y="132.5" width="43.1" height="43.1" fill="#0028f5"/>
<rect x="1420.0" y="132.5" width="43.1" height="43.1" fill="#005af5"/>
<rect x="1462.5" y="132.5" width="43.1" height="43.1" fill="#0028f5"/>
<rect x="1505.0" y="132.5" width="43.1" height="43.1" fill="#005af5"/>
<rect x="1547.5" y="132.5" width="43.1" height="43.1" fill="#005af5"/>
<rect x="1590.0" y="132.5" width="43.1" height="43.1" fill="#005af5"/>
<rect x="1632.5" y="132.5" width="43.1" height="43.1" fill="#005af5"/>
<rect x="1675.0" y="132.5" width="43.1" height="43.1" fill="#0087f0"/>
<rect x="1717.5" y="132.5" width="43.1" height="43.1" fill="#0087f0"/>
<rect x="1760.0" y="132.5" width="43.1" height="43.1" fill="#0087f0"/>
<rect x="1802.5" y="132.5" width="43.1" height="43.1" fill="#0087f0"/>
<rect x="1845.0" y="132.5" width="43.1" height="43.1" fill="#0087f0"/>
<rect x="1887.5" y="132.5" width="43.1" height="43.1" fill="#0087f0"/>
<rect x="1930.0" y="132.5" width="43.1" height="43.1" fill="#0087f0"/>
<rect x="1972.5" y="132.5" width="43.1" height="43.1" fill="#0087f0"/>
<rect x="2015.0" y="132.5" width="43.1" height="43.1" fill="#0087f0"/>
<rect x="2057.5" y="132.5" width="43.1" height="43.1" fill="#0087f0"/>
<rect x="2100.0" y="132.5" width="43.1" height="43.1" fill="#0087f0"/>
<rect x="1250.0" y="175.0" width="43.1" height="43.1" fill="#0028f5"/>
<rect x="1292.5" y="175.0" width="43.1" height="43.1" fill="#0028f5"/>
<rect x="1335.0" y="175.0" width="43.1" height="43.1" fill="#0028f5"/>
<rect x="1377.5" y="175.0" width="43.1" height="43.1" fill="#0028f5"/>
<rect x="1420.0" y="175.0" width="43.1" height="43.1" fill="#0028f5"/>
<rect x="1462.5" y="175.0" width="43.1" height="43.1" fill="#0028f5"/>
<rect x="1505.0" y="175.0" width="43.1" height="43.1" fill="#005af5"/>
<rect x="1547.5" y="175.0" width="43.1" height="43.1" fill="#005af5"/>
<rect x="1590.0" y="175.0" width="43.1" height="43.1" fill="#005af5"/>
<rect x="1632.5" y="175.0" width="43.1" height="43.1" fill="#005af5"/>
<rect x="1675.0" y="175.0" width="43.1" height="43.1" fill="#0087f0"/>
<rect x="1717.5" y="175.0" width="43.1" height="43.1" fill="#0087f0"/>
<rect x="1760.0" y="175.0" width="43.1" height="43.1" fill="#0087f0"/>
<rect x="1802.5" y="175.0" width="43.1" height="43.1" fill="#0087f0"/>
<rect x="1845.0" y="175.0" width="43.1" height="43.1" fill="#0087f0"/>
<rect x="1887.5" y="175.0" width="43.1" height="43.1" fill="#0087f0"/>
<rect x="1930.0" y="175.0" width="43.1" height="43.1" fill="#0087f0"/>
<rect x="1972.5" y="175.0" width="43.1" height="43.1" fill="#0087f0"/>
<rect x="2015.0" y="175.0" width="43.1" height="43.1" fill="#0087f0"/>
<rect x="2057.5" y="175.0" width="43.1" height="43.1" fill="#0087f0"/>
<rect x="2100.0" y="175.0" width="43.1" height="43.1" fill="#0087f0"/>
<rect x="1250.0" y="217.5" width="43.1" height="43.1" fill="#fafa00"/>
<rect x="1292.5" y="217.5" width="43.1" height="43.1" fill="#fafa00"/>
<rect x="1335.0" y="217.5" width="43.1" height="43.1" fill="#fafa00"/>
<rect x="1377.5" y="217.5" width="43.1" height="43.1" fill="#befa32"/>
<rect x="1420.0" y="217.5" width="43.1" height="43.1" fill="#0028f5"/>
<rect x="1462.5" y="217.5" width="43.1" height="43.1" fill="#0028f5"/>
<rect x="1505.0" y="217.5" width="43.1" height="43.1" fill="#005af5"/>
<rect x="1547.5" y="217.5" width="43.1" height="43.1" fill="#005af5"/>
<rect x="1590.0" y="217.5" width="43.1" height="43.1" fill="#005af5"/>
<rect x="1632.5" y="217.5" width="43.1" height="43.1" fill="#00b4f5"/>
<rect x="1675.0" y="217.5" width="43.1" height="43.1" fill="#0087f0"/>
<rect x="1717.5" y="217.5" width="43.1" height="43.1" fill="#00b4f5"/>
<rect x="1760.0" y="217.5" width="43.1" height="43.1" fill="#00b4f5"/>
<rect x="1802.5" y="217.5" width="43.1" height="43.1" fill="#00b4f5"/>
<rect x="1845.0" y="217.5" width="43.1" height="43.1" fill="#0087f0"/>
<rect x="1887.5" y="217.5" width="43.1" height="43.1" fill="#0087f0"/>
<rect x="1930.0" y="217.5" width="43.1" height="43.1" fill="#0087f0"/>
<rect x="1972.5" y="217.5" width="43.1" height="43.1" fill="#0087f0"/>
<rect x="2015.0" y="217.5" width="43.1" height="43.1" fill="#0087f0"/>
<rect x="2057.5" y="217.5" width="43.1" height="43.1" fill="#0087f0"/>
<rect x="2100.0" y="217.5" width="43.1" height="43.1" fill="#0087f0"/>
<rect x="1250.0" y="260.0" width="43.1" height="43.1" fill="#fafa00"/>
<rect x="1292.5" y="260.0" width="43.1" height="43.1" fill="#fafa00"/>
<rect x="1335.0" y="260.0" width="43.1" height="43.1" fill="#fafa00"/>
<rect x="1377.5" y="260.0" width="43.1" height="43.1" fill="#78f078"/>
<rect x="1420.0" y="260.0" width="43.1" height="43.1" fill="#005af5"/>
<rect x="1462.5" y="260.0" width="43.1" height="43.1" fill="#005af5"/>
<rect x="1505.0" y="260.0" width="43.1" height="43.1" fill="#005af5"/>
<rect x="1547.5" y="260.0" width="43.1" height="43.1" fill="#005af5"/>
<rect x="1590.0" y="260.0" width="43.1" height="43.1" fill="#0087f0"/>
<rect x="1632.5" y="260.0" width="43.1" height="43.1" fill="#0087f0"/>
<rect x="1675.0" y="260.0" width="43.1" height="43.1" fill="#00b4f5"/>
<rect x="1717.5" y="260.0" width="43.1" height="43.1" fill="#00b4f5"/>
<rect x="1760.0" y="260.0" width="43.1" height="43.1" fill="#00b4f5"/>
<rect x="1802.5" y="260.0" width="43.1" height="43.1" fill="#00e4f0"/>
<rect x="1845.0" y="260.0" width="43.1" height="43.1" fill="#00e4f0"/>
<rect x="1887.5" y="260.0" width="43.1" height="43.1" fill="#00b4f5"/>
<rect x="1930.0" y="260.0" width="43.1" height="43.1" fill="#00b4f5"/>
<rect x="1972.5" y="260.0" width="43.1" height="43.1" fill="#00b4f5"/>
<rect x="2015.0" y="260.0" width="43.1" height="43.1" fill="#00b4f5"/>
<rect x="2057.5" y="260.0" width="43.1" height="43.1" fill="#00b4f5"/>
<rect x="2100.0" y="260.0" width="43.1" height="43.1" fill="#00b4f5"/>
<rect x="1250.0" y="302.5" width="43.1" height="43.1" fill="#ffd700"/>
<rect x="1292.5" y="302.5" width="43.1" height="43.1" fill="#ffd700"/>
<rect x="1335.0" y="302.5" width="43.1" height="43.1" fill="#ffd700"/>
<rect x="1377.5" y="302.5" width="43.1" height="43.1" fill="#fafa00"/>
<rect x="1420.0" y="302.5" width="43.1" height="43.1" fill="#2de6c8"/>
<rect x="1462.5" y="302.5" width="43.1" height="43.1" fill="#005af5"/>
<rect x="1505.0" y="302.5" width="43.1" height="43.1" fill="#0087f0"/>
<rect x="1547.5" y="302.5" width="43.1" height="43.1" fill="#0087f0"/>
<rect x="1590.0" y="302.5" width="43.1" height="43.1" fill="#befa32"/>
<rect x="1632.5" y="302.5" width="43.1" height="43.1" fill="#0087f0"/>
<rect x="1675.0" y="302.5" width="43.1" height="43.1" fill="#00e4f0"/>
<rect x="1717.5" y="302.5" width="43.1" height="43.1" fill="#00e4f0"/>
<rect x="1760.0" y="302.5" width="43.1" height="43.1" fill="#00e4f0"/>
<rect x="1802.5" y="302.5" width="43.1" height="43.1" fill="#00e4f0"/>
<rect x="1845.0" y="302.5" width="43.1" height="43.1" fill="#00e4f0"/>
<rect x="1887.5" y="302.5" width="43.1" height="43.1" fill="#00e4f0"/>
<rect x="1930.0" y="302.5" width="43.1" height="43.1" fill="#00e4f0"/>
<rect x="1972.5" y="302.5" width="43.1" height="43.1" fill="#00b4f5"/>
<rect x="2015.0" y="302.5" width="43.1" height="43.1" fill="#00b4f5"/>
<rect x="2057.5" y="302.5" width="43.1" height="43.1" fill="#00b4f5"/>
<rect x="2100.0" y="302.5" width="43.1" height="43.1" fill="#00b4f5"/>
<rect x="1250.0" y="345.0" width="43.1" height="43.1" fill="#befa32"/>
<rect x="1292.5" y="345.0" width="43.1" height="43.1" fill="#befa32"/>
<rect x="1335.0" y="345.0" width="43.1" height="43.1" fill="#befa32"/>
<rect x="1377.5" y="345.0" width="43.1" height="43.1" fill="#78f078"/>
<rect x="1420.0" y="345.0" width="43.1" height="43.1" fill="#0087f0"/>
<rect x="1462.5" y="345.0" width="43.1" height="43.1" fill="#0087f0"/>
<rect x="1505.0" y="345.0" width="43.1" height="43.1" fill="#0087f0"/>
<rect x="1547.5" y="345.0" width="43.1" height="43.1" fill="#0087f0"/>
<rect x="1590.0" y="345.0" width="43.1" height="43.1" fill="#befa32"/>
<rect x="1632.5" y="345.0" width="43.1" height="43.1" fill="#0087f0"/>
<rect x="1675.0" y="345.0" width="43.1" height="43.1" fill="#fafa00"/>
<rect x="1717.5" y="345.0" width="43.1" height="43.1" fill="#ff5000"/>
<rect x="1760.0" y="345.0" width="43.1" height="43.1" fill="#ffd700"/>
<rect x="1802.5" y="345.0" width="43.1" height="43.1" fill="#00e4f0"/>
<rect x="1845.0" y="345.0" width="43.1" height="43.1" fill="#befa32"/>
<rect x="1887.5" y="345.0" width="43.1" height="43.1" fill="#befa32"/>
<rect x="1930.0" y="345.0" width="43.1" height="43.1" fill="#00b4f5"/>
<rect x="1972.5" y="345.0" width="43.1" height="43.1" fill="#ff8c00"/>
<rect x="2015.0" y="345.0" width="43.1" height="43.1" fill="#ff8c00"/>
<rect x="2057.5" y="345.0" width="43.1" height="43.1" fill="#ff8c00"/>
<rect x="2100.0" y="345.0" width="43.1" height="43.1" fill="#ff8c00"/>
<rect x="1250.0" y="387.5" width="43.1" height="43.1" fill="#78f078"/>
<rect x="1292.5" y="387.5" width="43.1" height="43.1" fill="#78f078"/>
<rect x="1335.0" y="387.5" width="43.1" height="43.1" fill="#78f078"/>
<rect x="1377.5" y="387.5" width="43.1" height="43.1" fill="#2de6c8"/>
<rect x="1420.0" y="387.5" width="43.1" height="43.1" fill="#0087f0"/>
<rect x="1462.5" y="387.5" width="43.1" height="43.1" fill="#0087f0"/>
<rect x="1505.0" y="387.5" width="43.1" height="43.1" fill="#befa32"/>
<rect x="1547.5" y="387.5" width="43.1" height="43.1" fill="#0087f0"/>
<rect x="1590.0" y="387.5" width="43.1" height="43.1" fill="#00b4f5"/>
<rect x="1632.5" y="387.5" width="43.1" height="43.1" fill="#befa32"/>
<rect x="1675.0" y="387.5" width="43.1" height="43.1" fill="#ff8c00"/>
<rect x="1717.5" y="387.5" width="43.1" height="43.1" fill="#ff5000"/>
<rect x="1760.0" y="387.5" width="43.1" height="43.1" fill="#ffd700"/>
<rect x="1802.5" y="387.5" width="43.1" height="43.1" fill="#fafa00"/>
<rect x="1845.0" y="387.5" width="43.1" height="43.1" fill="#fafa00"/>
<rect x="1887.5" y="387.5" width="43.1" height="43.1" fill="#ffd700"/>
<rect x="1930.0" y="387.5" width="43.1" height="43.1" fill="#fafa00"/>
<rect x="1972.5" y="387.5" width="43.1" height="43.1" fill="#00e4f0"/>
<rect x="2015.0" y="387.5" width="43.1" height="43.1" fill="#00e4f0"/>
<rect x="2057.5" y="387.5" width="43.1" height="43.1" fill="#00e4f0"/>
<rect x="2100.0" y="387.5" width="43.1" height="43.1" fill="#00e4f0"/>
<rect x="1250.0" y="430.0" width="43.1" height="43.1" fill="#78f078"/>
<rect x="1292.5" y="430.0" width="43.1" height="43.1" fill="#78f078"/>
<rect x="1335.0" y="430.0" width="43.1" height="43.1" fill="#78f078"/>
<rect x="1377.5" y="430.0" width="43.1" height="43.1" fill="#befa32"/>
<rect x="1420.0" y="430.0" width="43.1" height="43.1" fill="#78f078"/>
<rect x="1462.5" y="430.0" width="43.1" height="43.1" fill="#befa32"/>
<rect x="1505.0" y="430.0" width="43.1" height="43.1" fill="#fafa00"/>
<rect x="1547.5" y="430.0" width="43.1" height="43.1" fill="#2de6c8"/>
<rect x="1590.0" y="430.0" width="43.1" height="43.1" fill="#00e4f0"/>
<rect x="1632.5" y="430.0" width="43.1" height="43.1" fill="#00e4f0"/>
<rect x="1675.0" y="430.0" width="43.1" height="43.1" fill="#ff8c00"/>
<rect x="1717.5" y="430.0" width="43.1" height="43.1" fill="#ff8c00"/>
<rect x="1760.0" y="430.0" width="43.1" height="43.1" fill="#ff8c00"/>
<rect x="1802.5" y="430.0" width="43.1" height="43.1" fill="#ff5000"/>
<rect x="1845.0" y="430.0" width="43.1" height="43.1" fill="#befa32"/>
<rect x="1887.5" y="430.0" width="43.1" height="43.1" fill="#befa32"/>
<rect x="1930.0" y="430.0" width="43.1" height="43.1" fill="#00e4f0"/>
<rect x="1972.5" y="430.0" width="43.1" height="43.1" fill="#00e4f0"/>
<rect x="2015.0" y="430.0" width="43.1" height="43.1" fill="#00e4f0"/>
<rect x="2057.5" y="430.0" width="43.1" height="43.1" fill="#00e4f0"/>
<rect x="2100.0" y="430.0" width="43.1" height="43.1" fill="#00e4f0"/>
<rect x="1250.0" y="472.5" width="43.1" height="43.1" fill="#ffb400"/>
<rect x="1292.5" y="472.5" width="43.1" height="43.1" fill="#ffb400"/>
<rect x="1335.0" y="472.5" width="43.1" height="43.1" fill="#ffb400"/>
<rect x="1377.5" y="472.5" width="43.1" height="43.1" fill="#fafa00"/>
<rect x="1420.0" y="472.5" width="43.1" height="43.1" fill="#fafa00"/>
<rect x="1462.5" y="472.5" width="43.1" height="43.1" fill="#ffd700"/>
<rect x="1505.0" y="472.5" width="43.1" height="43.1" fill="#ffd700"/>
<rect x="1547.5" y="472.5" width="43.1" height="43.1" fill="#fafa00"/>
<rect x="1590.0" y="472.5" width="43.1" height="43.1" fill="#2de6c8"/>
<rect x="1632.5" y="472.5" width="43.1" height="43.1" fill="#2de6c8"/>
<rect x="1675.0" y="472.5" width="43.1" height="43.1" fill="#ff8c00"/>
<rect x="1717.5" y="472.5" width="43.1" height="43.1" fill="#ff8c00"/>
<rect x="1760.0" y="472.5" width="43.1" height="43.1" fill="#ff5000"/>
<rect x="1802.5" y="472.5" width="43.1" height="43.1" fill="#befa32"/>
<rect x="1845.0" y="472.5" width="43.1" height="43.1" fill="#befa32"/>
<rect x="1887.5" y="472.5" width="43.1" height="43.1" fill="#2de6c8"/>
<rect x="1930.0" y="472.5" width="43.1" height="43.1" fill="#00e4f0"/>
<rect x="1972.5" y="472.5" width="43.1" height="43.1" fill="#00e4f0"/>
<rect x="2015.0" y="472.5" width="43.1" height="43.1" fill="#00e4f0"/>
<rect x="2057.5" y="472.5" width="43.1" height="43.1" fill="#00e4f0"/>
<rect x="2100.0" y="472.5" width="43.1" height="43.1" fill="#00e4f0"/>
<rect x="1250.0" y="515.0" width="43.1" height="43.1" fill="#ffb400"/>
<rect x="1292.5" y="515.0" width="43.1" height="43.1" fill="#ffb400"/>
<rect x="1335.0" y="515.0" width="43.1" height="43.1" fill="#ffb400"/>
<rect x="1377.5" y="515.0" width="43.1" height="43.1" fill="#fafa00"/>
<rect x="1420.0" y="515.0" width="43.1" height="43.1" fill="#ffd700"/>
<rect x="1462.5" y="515.0" width="43.1" height="43.1" fill="#ff8c00"/>
<rect x="1505.0" y="515.0" width="43.1" height="43.1" fill="#ffd700"/>
<rect x="1547.5" y="515.0" width="43.1" height="43.1" fill="#78f078"/>
<rect x="1590.0" y="515.0" width="43.1" height="43.1" fill="#2de6c8"/>
<rect x="1632.5" y="515.0" width="43.1" height="43.1" fill="#2de6c8"/>
<rect x="1675.0" y="515.0" width="43.1" height="43.1" fill="#ff8c00"/>
<rect x="1717.5" y="515.0" width="43.1" height="43.1" fill="#fafa00"/>
<rect x="1760.0" y="515.0" width="43.1" height="43.1" fill="#ff8c00"/>
<rect x="1802.5" y="515.0" width="43.1" height="43.1" fill="#ff5000"/>
<rect x="1845.0" y="515.0" width="43.1" height="43.1" fill="#ff5000"/>
<rect x="1887.5" y="515.0" width="43.1" height="43.1" fill="#fafa00"/>
<rect x="1930.0" y="515.0" width="43.1" height="43.1" fill="#2de6c8"/>
<rect x="1972.5" y="515.0" width="43.1" height="43.1" fill="#2de6c8"/>
<rect x="2015.0" y="515.0" width="43.1" height="43.1" fill="#2de6c8"/>
<rect x="2057.5" y="515.0" width="43.1" height="43.1" fill="#2de6c8"/>
<rect x="2100.0" y="515.0" width="43.1" height="43.1" fill="#2de6c8"/>
<rect x="1250.0" y="557.5" width="43.1" height="43.1" fill="#befa32"/>
<rect x="1292.5" y="557.5" width="43.1" height="43.1" fill="#befa32"/>
<rect x="1335.0" y="557.5" width="43.1" height="43.1" fill="#befa32"/>
<rect x="1377.5" y="557.5" width="43.1" height="43.1" fill="#fafa00"/>
<rect x="1420.0" y="557.5" width="43.1" height="43.1" fill="#fafa00"/>
<rect x="1462.5" y="557.5" width="43.1" height="43.1" fill="#ff5000"/>
<rect x="1505.0" y="557.5" width="43.1" height="43.1" fill="#ff5000"/>
<rect x="1547.5" y="557.5" width="43.1" height="43.1" fill="#78f078"/>
<rect x="1590.0" y="557.5" width="43.1" height="43.1" fill="#2de6c8"/>
<rect x="1632.5" y="557.5" width="43.1" height="43.1" fill="#2de6c8"/>
<rect x="1675.0" y="557.5" width="43.1" height="43.1" fill="#2de6c8"/>
<rect x="1717.5" y="557.5" width="43.1" height="43.1" fill="#fafa00"/>
<rect x="1760.0" y="557.5" width="43.1" height="43.1" fill="#ff8c00"/>
<rect x="1802.5" y="557.5" width="43.1" height="43.1" fill="#ff8c00"/>
<rect x="1845.0" y="557.5" width="43.1" height="43.1" fill="#2de6c8"/>
<rect x="1887.5" y="557.5" width="43.1" height="43.1" fill="#2de6c8"/>
<rect x="1930.0" y="557.5" width="43.1" height="43.1" fill="#2de6c8"/>
<rect x="1972.5" y="557.5" width="43.1" height="43.1" fill="#2de6c8"/>
<rect x="2015.0" y="557.5" width="43.1" height="43.1" fill="#2de6c8"/>
<rect x="2057.5" y="557.5" width="43.1" height="43.1" fill="#2de6c8"/>
<rect x="2100.0" y="557.5" width="43.1" height="43.1" fill="#2de6c8"/>
<rect x="1250.0" y="600.0" width="43.1" height="43.1" fill="#78f078"/>
<rect x="1292.5" y="600.0" width="43.1" height="43.1" fill="#78f078"/>
<rect x="1335.0" y="600.0" width="43.1" height="43.1" fill="#78f078"/>
<rect x="1377.5" y="600.0" width="43.1" height="43.1" fill="#ff8c00"/>
<rect x="1420.0" y="600.0" width="43.1" height="43.1" fill="#fafa00"/>
<rect x="1462.5" y="600.0" width="43.1" height="43.1" fill="#ff5000"/>
<rect x="1505.0" y="600.0" width="43.1" height="43.1" fill="#ff8c00"/>
<rect x="1547.5" y="600.0" width="43.1" height="43.1" fill="#78f078"/>
<rect x="1590.0" y="600.0" width="43.1" height="43.1" fill="#2de6c8"/>
<rect x="1632.5" y="600.0" width="43.1" height="43.1" fill="#2de6c8"/>
<rect x="1675.0" y="600.0" width="43.1" height="43.1" fill="#befa32"/>
<rect x="1717.5" y="600.0" width="43.1" height="43.1" fill="#2de6c8"/>
<rect x="1760.0" y="600.0" width="43.1" height="43.1" fill="#fafa00"/>
<rect x="1802.5" y="600.0" width="43.1" height="43.1" fill="#ff8c00"/>
<rect x="1845.0" y="600.0" width="43.1" height="43.1" fill="#2de6c8"/>
<rect x="1887.5" y="600.0" width="43.1" height="43.1" fill="#2de6c8"/>
<rect x="1930.0" y="600.0" width="43.1" height="43.1" fill="#2de6c8"/>
<rect x="1972.5" y="600.0" width="43.1" height="43.1" fill="#2de6c8"/>
<rect x="2015.0" y="600.0" width="43.1" height="43.1" fill="#2de6c8"/>
<rect x="2057.5" y="600.0" width="43.1" height="43.1" fill="#2de6c8"/>
<rect x="2100.0" y="600.0" width="43.1" height="43.1" fill="#2de6c8"/>
<rect x="1250.0" y="642.5" width="43.1" height="43.1" fill="#fafa00"/>
<rect x="1292.5" y="642.5" width="43.1" height="43.1" fill="#fafa00"/>
<rect x="1335.0" y="642.5" width="43.1" height="43.1" fill="#fafa00"/>
<rect x="1377.5" y="642.5" width="43.1" height="43.1" fill="#ff8c00"/>
<rect x="1420.0" y="642.5" width="43.1" height="43.1" fill="#ff8c00"/>
<rect x="1462.5" y="642.5" width="43.1" height="43.1" fill="#ff8c00"/>
<rect x="1505.0" y="642.5" width="43.1" height="43.1" fill="#ffd700"/>
<rect x="1547.5" y="642.5" width="43.1" height="43.1" fill="#78f078"/>
<rect x="1590.0" y="642.5" width="43.1" height="43.1" fill="#2de6c8"/>
<rect x="1632.5" y="642.5" width="43.1" height="43.1" fill="#2de6c8"/>
<rect x="1675.0" y="642.5" width="43.1" height="43.1" fill="#2de6c8"/>
<rect x="1717.5" y="642.5" width="43.1" height="43.1" fill="#78f078"/>
<rect x="1760.0" y="642.5" width="43.1" height="43.1" fill="#fafa00"/>
<rect x="1802.5" y="642.5" width="43.1" height="43.1" fill="#fafa00"/>
<rect x="1845.0" y="642.5" width="43.1" height="43.1" fill="#2de6c8"/>
<rect x="1887.5" y="642.5" width="43.1" height="43.1" fill="#2de6c8"/>
<rect x="1930.0" y="642.5" width="43.1" height="43.1" fill="#2de6c8"/>
<rect x="1972.5" y="642.5" width="43.1" height="43.1" fill="#2de6c8"/>
<rect x="2015.0" y="642.5" width="43.1" height="43.1" fill="#2de6c8"/>
<rect x="2057.5" y="642.5" width="43.1" height="43.1" fill="#2de6c8"/>
<rect x="2100.0" y="642.5" width="43.1" height="43.1" fill="#2de6c8"/>
<rect x="1250.0" y="685.0" width="43.1" height="43.1" fill="#fafa00"/>
<rect x="1292.5" y="685.0" width="43.1" height="43.1" fill="#fafa00"/>
<rect x="1335.0" y="685.0" width="43.1" height="43.1" fill="#fafa00"/>
<rect x="1377.5" y="685.0" width="43.1" height="43.1" fill="#ffd700"/>
<rect x="1420.0" y="685.0" width="43.1" height="43.1" fill="#ffd700"/>
<rect x="1462.5" y="685.0" width="43.1" height="43.1" fill="#fafa00"/>
<rect x="1505.0" y="685.0" width="43.1" height="43.1" fill="#ff8c00"/>
<rect x="1547.5" y="685.0" width="43.1" height="43.1" fill="#fafa00"/>
<rect x="1590.0" y="685.0" width="43.1" height="43.1" fill="#fafa00"/>
<rect x="1632.5" y="685.0" width="43.1" height="43.1" fill="#2de6c8"/>
<rect x="1675.0" y="685.0" width="43.1" height="43.1" fill="#78f078"/>
<rect x="1717.5" y="685.0" width="43.1" height="43.1" fill="#78f078"/>
<rect x="1760.0" y="685.0" width="43.1" height="43.1" fill="#befa32"/>
<rect x="1802.5" y="685.0" width="43.1" height="43.1" fill="#78f078"/>
<rect x="1845.0" y="685.0" width="43.1" height="43.1" fill="#78f078"/>
<rect x="1887.5" y="685.0" width="43.1" height="43.1" fill="#78f078"/>
<rect x="1930.0" y="685.0" width="43.1" height="43.1" fill="#78f078"/>
<rect x="1972.5" y="685.0" width="43.1" height="43.1" fill="#78f078"/>
<rect x="2015.0" y="685.0" width="43.1" height="43.1" fill="#78f078"/>
<rect x="2057.5" y="685.0" width="43.1" height="43.1" fill="#78f078"/>
<rect x="2100.0" y="685.0" width="43.1" height="43.1" fill="#78f078"/>
<rect x="1250.0" y="727.5" width="43.1" height="43.1" fill="#ffd700"/>
<rect x="1292.5" y="727.5" width="43.1" height="43.1" fill="#ffd700"/>
<rect x="1335.0" y="727.5" width="43.1" height="43.1" fill="#ffd700"/>
<rect x="1377.5" y="727.5" width="43.1" height="43.1" fill="#fafa00"/>
<rect x="1420.0" y="727.5" width="43.1" height="43.1" fill="#78f078"/>
<rect x="1462.5" y="727.5" width="43.1" height="43.1" fill="#ff8c00"/>
<rect x="1505.0" y="727.5" width="43.1" height="43.1" fill="#ff8c00"/>
<rect x="1547.5" y="727.5" width="43.1" height="43.1" fill="#ff8c00"/>
<rect x="1590.0" y="727.5" width="43.1" height="43.1" fill="#ffb400"/>
<rect x="1632.5" y="727.5" width="43.1" height="43.1" fill="#ff8c00"/>
<rect x="1675.0" y="727.5" width="43.1" height="43.1" fill="#78f078"/>
<rect x="1717.5" y="727.5" width="43.1" height="43.1" fill="#78f078"/>
<rect x="1760.0" y="727.5" width="43.1" height="43.1" fill="#78f078"/>
<rect x="1802.5" y="727.5" width="43.1" height="43.1" fill="#78f078"/>
<rect x="1845.0" y="727.5" width="43.1" height="43.1" fill="#78f078"/>
<rect x="1887.5" y="727.5" width="43.1" height="43.1" fill="#78f078"/>
<rect x="1930.0" y="727.5" width="43.1" height="43.1" fill="#befa32"/>
<rect x="1972.5" y="727.5" width="43.1" height="43.1" fill="#befa32"/>
<rect x="2015.0" y="727.5" width="43.1" height="43.1" fill="#befa32"/>
<rect x="2057.5" y="727.5" width="43.1" height="43.1" fill="#befa32"/>
<rect x="2100.0" y="727.5" width="43.1" height="43.1" fill="#befa32"/>
<rect x="1250.0" y="770.0" width="43.1" height="43.1" fill="#ffd700"/>
<rect x="1292.5" y="770.0" width="43.1" height="43.1" fill="#ffd700"/>
<rect x="1335.0" y="770.0" width="43.1" height="43.1" fill="#ffd700"/>
<rect x="1377.5" y="770.0" width="43.1" height="43.1" fill="#fafa00"/>
<rect x="1420.0" y="770.0" width="43.1" height="43.1" fill="#78f078"/>
<rect x="1462.5" y="770.0" width="43.1" height="43.1" fill="#ff8c00"/>
<rect x="1505.0" y="770.0" width="43.1" height="43.1" fill="#ff8c00"/>
<rect x="1547.5" y="770.0" width="43.1" height="43.1" fill="#ff8c00"/>
<rect x="1590.0" y="770.0" width="43.1" height="43.1" fill="#ffb400"/>
<rect x="1632.5" y="770.0" width="43.1" height="43.1" fill="#ff8c00"/>
<rect x="1675.0" y="770.0" width="43.1" height="43.1" fill="#78f078"/>
<rect x="1717.5" y="770.0" width="43.1" height="43.1" fill="#78f078"/>
<rect x="1760.0" y="770.0" width="43.1" height="43.1" fill="#78f078"/>
<rect x="1802.5" y="770.0" width="43.1" height="43.1" fill="#78f078"/>
<rect x="1845.0" y="770.0" width="43.1" height="43.1" fill="#78f078"/>
<rect x="1887.5" y="770.0" width="43.1" height="43.1" fill="#78f078"/>
<rect x="1930.0" y="770.0" width="43.1" height="43.1" fill="#befa32"/>
<rect x="1972.5" y="770.0" width="43.1" height="43.1" fill="#befa32"/>
<rect x="2015.0" y="770.0" width="43.1" height="43.1" fill="#befa32"/>
<rect x="2057.5" y="770.0" width="43.1" height="43.1" fill="#befa32"/>
<rect x="2100.0" y="770.0" width="43.1" height="43.1" fill="#befa32"/>
<rect x="1250.0" y="812.5" width="43.1" height="43.1" fill="#ffd700"/>
<rect x="1292.5" y="812.5" width="43.1" height="43.1" fill="#ffd700"/>
<rect x="1335.0" y="812.5" width="43.1" height="43.1" fill="#ffd700"/>
<rect x="1377.5" y="812.5" width="43.1" height="43.1" fill="#fafa00"/>
<rect x="1420.0" y="812.5" width="43.1" height="43.1" fill="#78f078"/>
<rect x="1462.5" y="812.5" width="43.1" height="43.1" fill="#ff8c00"/>
<rect x="1505.0" y="812.5" width="43.1" height="43.1" fill="#ff8c00"/>
<rect x="1547.5" y="812.5" width="43.1" height="43.1" fill="#ff8c00"/>
<rect x="1590.0" y="812.5" width="43.1" height="43.1" fill="#ffb400"/>
<rect x="1632.5" y="812.5" width="43.1" height="43.1" fill="#ff8c00"/>
<rect x="1675.0" y="812.5" width="43.1" height="43.1" fill="#78f078"/>
<rect x="1717.5" y="812.5" width="43.1" height="43.1" fill="#78f078"/>
<rect x="1760.0" y="812.5" width="43.1" height="43.1" fill="#78f078"/>
<rect x="1802.5" y="812.5" width="43.1" height="43.1" fill="#78f078"/>
<rect x="1845.0" y="812.5" width="43.1" height="43.1" fill="#78f078"/>
<rect x="1887.5" y="812.5" width="43.1" height="43.1" fill="#78f078"/>
<rect x="1930.0" y="812.5" width="43.1" height="43.1" fill="#befa32"/>
<rect x="1972.5" y="812.5" width="43.1" height="43.1" fill="#befa32"/>
<rect x="2015.0" y="812.5" width="43.1" height="43.1" fill="#befa32"/>
<rect x="2057.5" y="812.5" width="43.1" height="43.1" fill="#befa32"/>
<rect x="2100.0" y="812.5" width="43.1" height="43.1" fill="#befa32"/>
</g></g>
<polygon points="1862.0,540.0 1885.0,536.0 1905.0,545.0 1918.0,560.0 1915.0,580.0 1895.0,590.0 1872.0,585.0 1862.0,565.0" fill="#fff" filter="url(#soft)"/>
<polygon points="1847.0,488.0 1858.0,486.0 1862.0,505.0 1858.0,524.0 1849.0,520.0" fill="#fff" filter="url(#soft)"/>
<polygon points="1818.0,628.0 1840.0,625.0 1846.0,640.0 1826.0,645.0" fill="#fff" filter="url(#soft)"/>
<polygon points="1483.0,390.0 1500.0,383.0 1515.0,395.0 1512.0,420.0 1498.0,430.0 1485.0,420.0" fill="#fff" filter="url(#soft)"/>
<polygon points="1590.0,362.0 1608.0,360.0 1611.0,380.0 1595.0,384.0" fill="#fff" filter="url(#soft)"/>
<polygon points="1403.0,136.0 1418.0,135.0 1413.0,152.0" fill="#fff" filter="url(#soft)"/>
<polygon points="1505.0,432.0 1525.0,430.0 1538.0,450.0 1528.0,470.0 1512.0,462.0" fill="#fff" filter="url(#soft)"/>
<polygon points="1948.0,676.0 1965.0,674.0 1969.0,695.0 1952.0,700.0" fill="#fff" filter="url(#soft)"/>
<rect x="1363.0" y="436.1" width="9.0" height="8.8" fill="#000"/>
<rect x="1379.8" y="436.3" width="9.0" height="8.8" fill="#000"/>
<rect x="1396.7" y="436.4" width="9.0" height="8.8" fill="#000"/>
<rect x="1413.5" y="436.6" width="9.0" height="8.8" fill="#000"/>
<rect x="1430.4" y="436.8" width="9.0" height="8.8" fill="#000"/>
<rect x="1447.2" y="437.0" width="9.0" height="8.8" fill="#000"/>
<rect x="1464.0" y="437.1" width="9.0" height="8.8" fill="#000"/>
<rect x="1480.9" y="437.3" width="9.0" height="8.8" fill="#000"/>
<rect x="1497.7" y="437.5" width="9.0" height="8.8" fill="#000"/>
<rect x="1514.6" y="437.7" width="9.0" height="8.8" fill="#000"/>
<rect x="1531.4" y="437.8" width="9.0" height="8.8" fill="#000"/>
<rect x="1548.2" y="438.0" width="9.0" height="8.8" fill="#000"/>
<rect x="1565.1" y="438.2" width="9.0" height="8.8" fill="#000"/>
<rect x="1581.9" y="438.3" width="9.0" height="8.8" fill="#000"/>
<rect x="1598.8" y="438.5" width="9.0" height="8.8" fill="#000"/>
<rect x="1615.6" y="438.7" width="9.0" height="8.8" fill="#000"/>
<rect x="1632.4" y="438.9" width="9.0" height="8.8" fill="#000"/>
<rect x="1649.3" y="439.0" width="9.0" height="8.8" fill="#000"/>
<rect x="1666.1" y="439.2" width="9.0" height="8.8" fill="#000"/>
<rect x="1683.0" y="439.4" width="9.0" height="8.8" fill="#000"/>
<rect x="1699.8" y="439.6" width="9.0" height="8.8" fill="#000"/>
<rect x="1716.6" y="439.7" width="9.0" height="8.8" fill="#000"/>
<rect x="1733.5" y="439.9" width="9.0" height="8.8" fill="#000"/>
<rect x="1750.3" y="440.1" width="9.0" height="8.8" fill="#000"/>
<rect x="1767.2" y="440.3" width="9.0" height="8.8" fill="#000"/>
<rect x="1784.0" y="440.4" width="9.0" height="8.8" fill="#000"/>
<rect x="1800.8" y="440.6" width="9.0" height="8.8" fill="#000"/>
<rect x="1817.7" y="440.8" width="9.0" height="8.8" fill="#000"/>
<rect x="1834.5" y="440.9" width="9.0" height="8.8" fill="#000"/>
<rect x="1851.4" y="441.1" width="9.0" height="8.8" fill="#000"/>
<rect x="1868.2" y="441.3" width="9.0" height="8.8" fill="#000"/>
<rect x="1885.0" y="441.5" width="9.0" height="8.8" fill="#000"/>
<rect x="1901.9" y="441.6" width="9.0" height="8.8" fill="#000"/>
<rect x="1918.7" y="441.8" width="9.0" height="8.8" fill="#000"/>
<rect x="1935.6" y="442.0" width="9.0" height="8.8" fill="#000"/>
<rect x="1952.4" y="442.2" width="9.0" height="8.8" fill="#000"/>
<rect x="1969.2" y="442.3" width="9.0" height="8.8" fill="#000"/>
<rect x="1986.1" y="442.5" width="9.0" height="8.8" fill="#000"/>
<text x="1455.0" y="177.0" font-size="67.0" text-anchor="start" fill="#000" >(f)</text>
<text x="2147.5" y="151.5" font-size="67.0" text-anchor="start" fill="#000" >(m)</text>
<rect x="2157.5" y="180" width="37" height="571" fill="url(#jetbar)"/>
<text x="2208.0" y="228.0" font-size="48.0" text-anchor="start" fill="#000" >high</text>
<text x="2222.0" y="738.0" font-size="48.0" text-anchor="start" fill="#000" >low</text>
<text x="1650.0" y="711.5" font-size="57.5" text-anchor="start" fill="#000" >Point cloud</text>
<g clip-path="url(#clip_b)"><g filter="url(#vblur_b)">
<rect x="170" y="820" width="660" height="11" fill="url(#bs0)"/>
<rect x="170" y="830" width="660" height="11" fill="url(#bs1)"/>
<rect x="170" y="840" width="660" height="11" fill="url(#bs2)"/>
<rect x="170" y="850" width="660" height="11" fill="url(#bs3)"/>
<rect x="170" y="860" width="660" height="11" fill="url(#bs4)"/>
<rect x="170" y="870" width="660" height="11" fill="url(#bs5)"/>
<rect x="170" y="880" width="660" height="11" fill="url(#bs6)"/>
<rect x="170" y="890" width="660" height="11" fill="url(#bs7)"/>
<rect x="170" y="900" width="660" height="11" fill="url(#bs8)"/>
<rect x="170" y="910" width="660" height="11" fill="url(#bs9)"/>
<rect x="170" y="920" width="660" height="11" fill="url(#bs10)"/>
<rect x="170" y="930" width="660" height="11" fill="url(#bs11)"/>
<rect x="170" y="940" width="660" height="11" fill="url(#bs12)"/>
<rect x="170" y="950" width="660" height="11" fill="url(#bs13)"/>
<rect x="170" y="960" width="660" height="11" fill="url(#bs14)"/>
<rect x="170" y="970" width="660" height="11" fill="url(#bs15)"/>
<rect x="170" y="980" width="660" height="11" fill="url(#bs16)"/>
<rect x="170" y="990" width="660" height="11" fill="url(#bs17)"/>
<rect x="170" y="1000" width="660" height="11" fill="url(#bs18)"/>
<rect x="170" y="1010" width="660" height="11" fill="url(#bs19)"/>
<rect x="170" y="1020" width="660" height="11" fill="url(#bs20)"/>
<rect x="170" y="1030" width="660" height="11" fill="url(#bs21)"/>
<rect x="170" y="1040" width="660" height="11" fill="url(#bs22)"/>
<rect x="170" y="1050" width="660" height="11" fill="url(#bs23)"/>
<rect x="170" y="1060" width="660" height="11" fill="url(#bs24)"/>
<rect x="170" y="1070" width="660" height="11" fill="url(#bs25)"/>
<rect x="170" y="1080" width="660" height="11" fill="url(#bs26)"/>
<rect x="170" y="1090" width="660" height="11" fill="url(#bs27)"/>
<rect x="170" y="1100" width="660" height="11" fill="url(#bs28)"/>
<rect x="170" y="1110" width="660" height="11" fill="url(#bs29)"/>
<rect x="170" y="1120" width="660" height="11" fill="url(#bs30)"/>
<rect x="170" y="1130" width="660" height="11" fill="url(#bs31)"/>
<rect x="170" y="1140" width="660" height="11" fill="url(#bs32)"/>
<rect x="170" y="1150" width="660" height="11" fill="url(#bs33)"/>
<rect x="170" y="1160" width="660" height="11" fill="url(#bs34)"/>
<rect x="170" y="1170" width="660" height="11" fill="url(#bs35)"/>
<rect x="170" y="1180" width="660" height="11" fill="url(#bs36)"/>
<rect x="170" y="1190" width="660" height="11" fill="url(#bs37)"/>
<rect x="170" y="1200" width="660" height="11" fill="url(#bs38)"/>
<rect x="170" y="1210" width="660" height="11" fill="url(#bs39)"/>
<rect x="170" y="1220" width="660" height="11" fill="url(#bs40)"/>
<rect x="170" y="1230" width="660" height="11" fill="url(#bs41)"/>
<rect x="170" y="1240" width="660" height="11" fill="url(#bs42)"/>
<rect x="170" y="1250" width="660" height="11" fill="url(#bs43)"/>
<rect x="170" y="1260" width="660" height="11" fill="url(#bs44)"/>
<rect x="170" y="1270" width="660" height="11" fill="url(#bs45)"/>
<rect x="170" y="1280" width="660" height="11" fill="url(#bs46)"/>
<rect x="170" y="1290" width="660" height="11" fill="url(#bs47)"/>
<rect x="170" y="1300" width="660" height="11" fill="url(#bs48)"/>
<rect x="170" y="1310" width="660" height="11" fill="url(#bs49)"/>
<rect x="170" y="1320" width="660" height="11" fill="url(#bs50)"/>
<rect x="170" y="1330" width="660" height="11" fill="url(#bs51)"/>
<rect x="170" y="1340" width="660" height="11" fill="url(#bs52)"/>
<rect x="170" y="1350" width="660" height="11" fill="url(#bs53)"/>
<rect x="170" y="1360" width="660" height="11" fill="url(#bs54)"/>
<rect x="170" y="1370" width="660" height="11" fill="url(#bs55)"/>
<rect x="170" y="1380" width="660" height="11" fill="url(#bs56)"/>
<rect x="170" y="1390" width="660" height="11" fill="url(#bs57)"/>
<rect x="170" y="1400" width="660" height="11" fill="url(#bs58)"/>
<rect x="170" y="1410" width="660" height="11" fill="url(#bs59)"/>
<rect x="170" y="1420" width="660" height="11" fill="url(#bs60)"/>
<rect x="170" y="1430" width="660" height="11" fill="url(#bs61)"/>
<rect x="170" y="1440" width="660" height="11" fill="url(#bs62)"/>
<rect x="170" y="1450" width="660" height="11" fill="url(#bs63)"/>
<rect x="170" y="1460" width="660" height="11" fill="url(#bs64)"/>
<rect x="170" y="1470" width="660" height="11" fill="url(#bs65)"/>
<rect x="170" y="1480" width="660" height="11" fill="url(#bs66)"/>
<rect x="170" y="1490" width="660" height="11" fill="url(#bs67)"/>
<rect x="170" y="1500" width="660" height="11" fill="url(#bs68)"/>
</g></g>
<rect x="174.0" y="988.1" width="10.6" height="10.8" fill="#ff0000"/>
<rect x="193.2" y="988.1" width="10.6" height="10.8" fill="#ff0000"/>
<rect x="212.5" y="988.1" width="10.6" height="10.8" fill="#ff0000"/>
<rect x="231.7" y="988.1" width="10.6" height="10.8" fill="#ff0000"/>
<rect x="251.0" y="988.1" width="10.6" height="10.8" fill="#ff0000"/>
<rect x="270.2" y="988.1" width="10.6" height="10.8" fill="#ff0000"/>
<rect x="289.4" y="988.1" width="10.6" height="10.8" fill="#ff0000"/>
<rect x="308.7" y="988.1" width="10.6" height="10.8" fill="#ff0000"/>
<rect x="327.9" y="988.1" width="10.6" height="10.8" fill="#ff0000"/>
<rect x="347.2" y="988.1" width="10.6" height="10.8" fill="#ff0000"/>
<rect x="366.4" y="988.1" width="10.6" height="10.8" fill="#ff0000"/>
<rect x="385.6" y="988.1" width="10.6" height="10.8" fill="#ff0000"/>
<rect x="404.9" y="988.1" width="10.6" height="10.8" fill="#ff0000"/>
<rect x="424.1" y="988.1" width="10.6" height="10.8" fill="#ff0000"/>
<rect x="443.4" y="988.1" width="10.6" height="10.8" fill="#ff0000"/>
<rect x="462.6" y="988.1" width="10.6" height="10.8" fill="#ff0000"/>
<rect x="481.8" y="988.1" width="10.6" height="10.8" fill="#ff0000"/>
<rect x="501.1" y="988.1" width="10.6" height="10.8" fill="#ff0000"/>
<rect x="520.3" y="988.1" width="10.6" height="10.8" fill="#ff0000"/>
<rect x="539.6" y="988.1" width="10.6" height="10.8" fill="#ff0000"/>
<rect x="558.8" y="988.1" width="10.6" height="10.8" fill="#ff0000"/>
<rect x="578.0" y="988.1" width="10.6" height="10.8" fill="#ff0000"/>
<rect x="597.3" y="988.1" width="10.6" height="10.8" fill="#ff0000"/>
<rect x="616.5" y="988.1" width="10.6" height="10.8" fill="#ff0000"/>
<rect x="635.8" y="988.1" width="10.6" height="10.8" fill="#ff0000"/>
<rect x="655.0" y="988.1" width="10.6" height="10.8" fill="#ff0000"/>
<rect x="674.2" y="988.1" width="10.6" height="10.8" fill="#ff0000"/>
<rect x="693.5" y="988.1" width="10.6" height="10.8" fill="#ff0000"/>
<rect x="712.7" y="988.1" width="10.6" height="10.8" fill="#ff0000"/>
<rect x="732.0" y="988.1" width="10.6" height="10.8" fill="#ff0000"/>
<rect x="751.2" y="988.1" width="10.6" height="10.8" fill="#ff0000"/>
<rect x="770.4" y="988.1" width="10.6" height="10.8" fill="#ff0000"/>
<rect x="789.7" y="988.1" width="10.6" height="10.8" fill="#ff0000"/>
<rect x="808.9" y="988.1" width="10.6" height="10.8" fill="#ff0000"/>
<rect x="828.2" y="988.1" width="1.8" height="10.8" fill="#ff0000"/>
<text x="188.0" y="908.0" font-size="67.0" text-anchor="start" fill="#000" >(b)</text>
<text x="863.0" y="871.0" font-size="67.0" text-anchor="start" fill="#000" >(m)</text>
<rect x="863.5" y="900.5" width="30" height="540" fill="url(#tbarb)" stroke="#3a3a3a" stroke-width="2.5"/>
<line x1="894" y1="995.0" x2="926.5" y2="995.0" stroke="#222" stroke-width="2.5"/>
<line x1="894" y1="1114.6" x2="926.5" y2="1114.6" stroke="#222" stroke-width="2.5"/>
<line x1="894" y1="1230.9" x2="926.5" y2="1230.9" stroke="#222" stroke-width="2.5"/>
<line x1="894" y1="1348.0" x2="926.5" y2="1348.0" stroke="#222" stroke-width="2.5"/>
<line x1="894" y1="1437.0" x2="926.5" y2="1437.0" stroke="#222" stroke-width="2.5"/>
<text x="864.5" y="1016.0" font-size="47" fill="#333" transform="scale(1.1,1)">23</text>
<text x="864.5" y="1133.9" font-size="47" fill="#333" transform="scale(1.1,1)">22</text>
<text x="864.5" y="1250.6" font-size="47" fill="#333" transform="scale(1.1,1)">21</text>
<text x="864.5" y="1369.2" font-size="47" fill="#333" transform="scale(1.1,1)">20</text>
<text x="864.5" y="1489.0" font-size="47" fill="#333" transform="scale(1.1,1)">19</text>
<text x="589.0" y="1436.0" font-size="67.0" text-anchor="start" fill="#000" >DTM</text>
<g clip-path="url(#clip_g)"><g filter="url(#blur_g)">
<rect x="1195.0" y="665.0" width="83.1" height="83.1" fill="#f1dfde"/>
<rect x="1277.5" y="665.0" width="83.1" height="83.1" fill="#f1dfde"/>
<rect x="1360.0" y="665.0" width="83.1" height="83.1" fill="#f1dfde"/>
<rect x="1442.5" y="665.0" width="83.1" height="83.1" fill="#efc4b6"/>
<rect x="1525.0" y="665.0" width="83.1" height="83.1" fill="#ecb17b"/>
<rect x="1607.5" y="665.0" width="83.1" height="83.1" fill="#eab454"/>
<rect x="1690.0" y="665.0" width="83.1" height="83.1" fill="#e9b846"/>
<rect x="1772.5" y="665.0" width="83.1" height="83.1" fill="#e9bc3d"/>
<rect x="1855.0" y="665.0" width="83.1" height="83.1" fill="#e9be38"/>
<rect x="1937.5" y="665.0" width="83.1" height="83.1" fill="#e9be38"/>
<rect x="2020.0" y="665.0" width="83.1" height="83.1" fill="#e9be38"/>
<rect x="2102.5" y="665.0" width="83.1" height="83.1" fill="#e9be38"/>
<rect x="1195.0" y="747.5" width="83.1" height="83.1" fill="#f1dfde"/>
<rect x="1277.5" y="747.5" width="83.1" height="83.1" fill="#f1dfde"/>
<rect x="1360.0" y="747.5" width="83.1" height="83.1" fill="#f1dfde"/>
<rect x="1442.5" y="747.5" width="83.1" height="83.1" fill="#efc4b6"/>
<rect x="1525.0" y="747.5" width="83.1" height="83.1" fill="#ecb17b"/>
<rect x="1607.5" y="747.5" width="83.1" height="83.1" fill="#eab454"/>
<rect x="1690.0" y="747.5" width="83.1" height="83.1" fill="#e9b846"/>
<rect x="1772.5" y="747.5" width="83.1" height="83.1" fill="#e9bc3d"/>
<rect x="1855.0" y="747.5" width="83.1" height="83.1" fill="#e9be38"/>
<rect x="1937.5" y="747.5" width="83.1" height="83.1" fill="#e9be38"/>
<rect x="2020.0" y="747.5" width="83.1" height="83.1" fill="#e9be38"/>
<rect x="2102.5" y="747.5" width="83.1" height="83.1" fill="#e9be38"/>
<rect x="1195.0" y="830.0" width="83.1" height="83.1" fill="#f1dfde"/>
<rect x="1277.5" y="830.0" width="83.1" height="83.1" fill="#f1dfde"/>
<rect x="1360.0" y="830.0" width="83.1" height="83.1" fill="#f1dfde"/>
<rect x="1442.5" y="830.0" width="83.1" height="83.1" fill="#efc4b6"/>
<rect x="1525.0" y="830.0" width="83.1" height="83.1" fill="#ecb17b"/>
<rect x="1607.5" y="830.0" width="83.1" height="83.1" fill="#eab454"/>
<rect x="1690.0" y="830.0" width="83.1" height="83.1" fill="#e9b846"/>
<rect x="1772.5" y="830.0" width="83.1" height="83.1" fill="#e9bc3d"/>
<rect x="1855.0" y="830.0" width="83.1" height="83.1" fill="#e9be38"/>
<rect x="1937.5" y="830.0" width="83.1" height="83.1" fill="#e9be38"/>
<rect x="2020.0" y="830.0" width="83.1" height="83.1" fill="#e9be38"/>
<rect x="2102.5" y="830.0" width="83.1" height="83.1" fill="#e9be38"/>
<rect x="1195.0" y="912.5" width="83.1" height="83.1" fill="#f0d0ca"/>
<rect x="1277.5" y="912.5" width="83.1" height="83.1" fill="#f0d0ca"/>
<rect x="1360.0" y="912.5" width="83.1" height="83.1" fill="#f0d0ca"/>
<rect x="1442.5" y="912.5" width="83.1" height="83.1" fill="#efc1b1"/>
<rect x="1525.0" y="912.5" width="83.1" height="83.1" fill="#ecb176"/>
<rect x="1607.5" y="912.5" width="83.1" height="83.1" fill="#eab454"/>
<rect x="1690.0" y="912.5" width="83.1" height="83.1" fill="#e8c32e"/>
<rect x="1772.5" y="912.5" width="83.1" height="83.1" fill="#e7d217"/>
<rect x="1855.0" y="912.5" width="83.1" height="83.1" fill="#e8c825"/>
<rect x="1937.5" y="912.5" width="83.1" height="83.1" fill="#e8c825"/>
<rect x="2020.0" y="912.5" width="83.1" height="83.1" fill="#e8c825"/>
<rect x="2102.5" y="912.5" width="83.1" height="83.1" fill="#e8c825"/>
<rect x="1195.0" y="995.0" width="83.1" height="83.1" fill="#efbfac"/>
<rect x="1277.5" y="995.0" width="83.1" height="83.1" fill="#efbfac"/>
<rect x="1360.0" y="995.0" width="83.1" height="83.1" fill="#efbfac"/>
<rect x="1442.5" y="995.0" width="83.1" height="83.1" fill="#edb48e"/>
<rect x="1525.0" y="995.0" width="83.1" height="83.1" fill="#ebb167"/>
<rect x="1607.5" y="995.0" width="83.1" height="83.1" fill="#e9ba41"/>
<rect x="1690.0" y="995.0" width="83.1" height="83.1" fill="#e7cb20"/>
<rect x="1772.5" y="995.0" width="83.1" height="83.1" fill="#e6e600"/>
<rect x="1855.0" y="995.0" width="83.1" height="83.1" fill="#dae300"/>
<rect x="1937.5" y="995.0" width="83.1" height="83.1" fill="#dae300"/>
<rect x="2020.0" y="995.0" width="83.1" height="83.1" fill="#dae300"/>
<rect x="2102.5" y="995.0" width="83.1" height="83.1" fill="#dae300"/>
<rect x="1195.0" y="1077.5" width="83.1" height="83.1" fill="#ecb176"/>
<rect x="1277.5" y="1077.5" width="83.1" height="83.1" fill="#ecb176"/>
<rect x="1360.0" y="1077.5" width="83.1" height="83.1" fill="#ecb176"/>
<rect x="1442.5" y="1077.5" width="83.1" height="83.1" fill="#ebb25e"/>
<rect x="1525.0" y="1077.5" width="83.1" height="83.1" fill="#e8c32e"/>
<rect x="1607.5" y="1077.5" width="83.1" height="83.1" fill="#e6dd09"/>
<rect x="1690.0" y="1077.5" width="83.1" height="83.1" fill="#dae300"/>
<rect x="1772.5" y="1077.5" width="83.1" height="83.1" fill="#c9df00"/>
<rect x="1855.0" y="1077.5" width="83.1" height="83.1" fill="#b8db00"/>
<rect x="1937.5" y="1077.5" width="83.1" height="83.1" fill="#add900"/>
<rect x="2020.0" y="1077.5" width="83.1" height="83.1" fill="#add900"/>
<rect x="2102.5" y="1077.5" width="83.1" height="83.1" fill="#add900"/>
<rect x="1195.0" y="1160.0" width="83.1" height="83.1" fill="#e7d217"/>
<rect x="1277.5" y="1160.0" width="83.1" height="83.1" fill="#e7d217"/>
<rect x="1360.0" y="1160.0" width="83.1" height="83.1" fill="#e7d217"/>
<rect x="1442.5" y="1160.0" width="83.1" height="83.1" fill="#e6e600"/>
<rect x="1525.0" y="1160.0" width="83.1" height="83.1" fill="#c9df00"/>
<rect x="1607.5" y="1160.0" width="83.1" height="83.1" fill="#add900"/>
<rect x="1690.0" y="1160.0" width="83.1" height="83.1" fill="#a3d600"/>
<rect x="1772.5" y="1160.0" width="83.1" height="83.1" fill="#9ed500"/>
<rect x="1855.0" y="1160.0" width="83.1" height="83.1" fill="#98d400"/>
<rect x="1937.5" y="1160.0" width="83.1" height="83.1" fill="#93d200"/>
<rect x="2020.0" y="1160.0" width="83.1" height="83.1" fill="#93d200"/>
<rect x="2102.5" y="1160.0" width="83.1" height="83.1" fill="#93d200"/>
<rect x="1195.0" y="1242.5" width="83.1" height="83.1" fill="#a3d600"/>
<rect x="1277.5" y="1242.5" width="83.1" height="83.1" fill="#a3d600"/>
<rect x="1360.0" y="1242.5" width="83.1" height="83.1" fill="#a3d600"/>
<rect x="1442.5" y="1242.5" width="83.1" height="83.1" fill="#93d200"/>
<rect x="1525.0" y="1242.5" width="83.1" height="83.1" fill="#84cf00"/>
<rect x="1607.5" y="1242.5" width="83.1" height="83.1" fill="#7acc00"/>
<rect x="1690.0" y="1242.5" width="83.1" height="83.1" fill="#71c900"/>
<rect x="1772.5" y="1242.5" width="83.1" height="83.1" fill="#71c900"/>
<rect x="1855.0" y="1242.5" width="83.1" height="83.1" fill="#71c900"/>
<rect x="1937.5" y="1242.5" width="83.1" height="83.1" fill="#71c900"/>
<rect x="2020.0" y="1242.5" width="83.1" height="83.1" fill="#71c900"/>
<rect x="2102.5" y="1242.5" width="83.1" height="83.1" fill="#71c900"/>
<rect x="1195.0" y="1325.0" width="83.1" height="83.1" fill="#71c900"/>
<rect x="1277.5" y="1325.0" width="83.1" height="83.1" fill="#71c900"/>
<rect x="1360.0" y="1325.0" width="83.1" height="83.1" fill="#71c900"/>
<rect x="1442.5" y="1325.0" width="83.1" height="83.1" fill="#63c600"/>
<rect x="1525.0" y="1325.0" width="83.1" height="83.1" fill="#55c200"/>
<rect x="1607.5" y="1325.0" width="83.1" height="83.1" fill="#4cbf00"/>
<rect x="1690.0" y="1325.0" width="83.1" height="83.1" fill="#44bd00"/>
<rect x="1772.5" y="1325.0" width="83.1" height="83.1" fill="#44bd00"/>
<rect x="1855.0" y="1325.0" width="83.1" height="83.1" fill="#4cbf00"/>
<rect x="1937.5" y="1325.0" width="83.1" height="83.1" fill="#44bd00"/>
<rect x="2020.0" y="1325.0" width="83.1" height="83.1" fill="#44bd00"/>
<rect x="2102.5" y="1325.0" width="83.1" height="83.1" fill="#44bd00"/>
<rect x="1195.0" y="1407.5" width="83.1" height="83.1" fill="#55c200"/>
<rect x="1277.5" y="1407.5" width="83.1" height="83.1" fill="#55c200"/>
<rect x="1360.0" y="1407.5" width="83.1" height="83.1" fill="#55c200"/>
<rect x="1442.5" y="1407.5" width="83.1" height="83.1" fill="#4cbf00"/>
<rect x="1525.0" y="1407.5" width="83.1" height="83.1" fill="#40bb00"/>
<rect x="1607.5" y="1407.5" width="83.1" height="83.1" fill="#33b800"/>
<rect x="1690.0" y="1407.5" width="83.1" height="83.1" fill="#24b200"/>
<rect x="1772.5" y="1407.5" width="83.1" height="83.1" fill="#1cb000"/>
<rect x="1855.0" y="1407.5" width="83.1" height="83.1" fill="#18af00"/>
<rect x="1937.5" y="1407.5" width="83.1" height="83.1" fill="#18af00"/>
<rect x="2020.0" y="1407.5" width="83.1" height="83.1" fill="#18af00"/>
<rect x="2102.5" y="1407.5" width="83.1" height="83.1" fill="#18af00"/>
<rect x="1195.0" y="1490.0" width="83.1" height="83.1" fill="#55c200"/>
<rect x="1277.5" y="1490.0" width="83.1" height="83.1" fill="#55c200"/>
<rect x="1360.0" y="1490.0" width="83.1" height="83.1" fill="#55c200"/>
<rect x="1442.5" y="1490.0" width="83.1" height="83.1" fill="#4cbf00"/>
<rect x="1525.0" y="1490.0" width="83.1" height="83.1" fill="#40bb00"/>
<rect x="1607.5" y="1490.0" width="83.1" height="83.1" fill="#33b800"/>
<rect x="1690.0" y="1490.0" width="83.1" height="83.1" fill="#24b200"/>
<rect x="1772.5" y="1490.0" width="83.1" height="83.1" fill="#1cb000"/>
<rect x="1855.0" y="1490.0" width="83.1" height="83.1" fill="#18af00"/>
<rect x="1937.5" y="1490.0" width="83.1" height="83.1" fill="#18af00"/>
<rect x="2020.0" y="1490.0" width="83.1" height="83.1" fill="#18af00"/>
<rect x="2102.5" y="1490.0" width="83.1" height="83.1" fill="#18af00"/>
<rect x="1195.0" y="1572.5" width="83.1" height="83.1" fill="#55c200"/>
<rect x="1277.5" y="1572.5" width="83.1" height="83.1" fill="#55c200"/>
<rect x="1360.0" y="1572.5" width="83.1" height="83.1" fill="#55c200"/>
<rect x="1442.5" y="1572.5" width="83.1" height="83.1" fill="#4cbf00"/>
<rect x="1525.0" y="1572.5" width="83.1" height="83.1" fill="#40bb00"/>
<rect x="1607.5" y="1572.5" width="83.1" height="83.1" fill="#33b800"/>
<rect x="1690.0" y="1572.5" width="83.1" height="83.1" fill="#24b200"/>
<rect x="1772.5" y="1572.5" width="83.1" height="83.1" fill="#1cb000"/>
<rect x="1855.0" y="1572.5" width="83.1" height="83.1" fill="#18af00"/>
<rect x="1937.5" y="1572.5" width="83.1" height="83.1" fill="#18af00"/>
<rect x="2020.0" y="1572.5" width="83.1" height="83.1" fill="#18af00"/>
<rect x="2102.5" y="1572.5" width="83.1" height="83.1" fill="#18af00"/>
</g></g>
<rect x="1402.0" y="1158.2" width="11.0" height="10.8" fill="#ff0000"/>
<rect x="1421.3" y="1158.2" width="11.0" height="10.8" fill="#ff0000"/>
<rect x="1440.6" y="1158.2" width="11.0" height="10.8" fill="#ff0000"/>
<rect x="1459.9" y="1158.2" width="11.0" height="10.8" fill="#ff0000"/>
<rect x="1479.2" y="1158.2" width="11.0" height="10.8" fill="#ff0000"/>
<rect x="1498.5" y="1158.2" width="11.0" height="10.8" fill="#ff0000"/>
<rect x="1517.8" y="1158.2" width="11.0" height="10.8" fill="#ff0000"/>
<rect x="1537.1" y="1158.2" width="11.0" height="10.8" fill="#ff0000"/>
<rect x="1556.4" y="1158.2" width="11.0" height="10.8" fill="#ff0000"/>
<rect x="1575.7" y="1158.2" width="11.0" height="10.8" fill="#ff0000"/>
<rect x="1595.0" y="1158.2" width="11.0" height="10.8" fill="#ff0000"/>
<rect x="1614.3" y="1158.2" width="11.0" height="10.8" fill="#ff0000"/>
<rect x="1633.6" y="1158.2" width="11.0" height="10.8" fill="#ff0000"/>
<rect x="1652.9" y="1158.2" width="11.0" height="10.8" fill="#ff0000"/>
<rect x="1672.2" y="1158.2" width="11.0" height="10.8" fill="#ff0000"/>
<rect x="1691.5" y="1158.2" width="11.0" height="10.8" fill="#ff0000"/>
<rect x="1710.8" y="1158.2" width="11.0" height="10.8" fill="#ff0000"/>
<rect x="1730.1" y="1158.2" width="11.0" height="10.8" fill="#ff0000"/>
<rect x="1749.4" y="1158.2" width="11.0" height="10.8" fill="#ff0000"/>
<rect x="1768.7" y="1158.2" width="11.0" height="10.8" fill="#ff0000"/>
<rect x="1788.0" y="1158.2" width="11.0" height="10.8" fill="#ff0000"/>
<rect x="1807.3" y="1158.2" width="11.0" height="10.8" fill="#ff0000"/>
<rect x="1826.6" y="1158.2" width="11.0" height="10.8" fill="#ff0000"/>
<rect x="1845.9" y="1158.2" width="11.0" height="10.8" fill="#ff0000"/>
<rect x="1865.2" y="1158.2" width="11.0" height="10.8" fill="#ff0000"/>
<rect x="1884.5" y="1158.2" width="11.0" height="10.8" fill="#ff0000"/>
<rect x="1903.8" y="1158.2" width="11.0" height="10.8" fill="#ff0000"/>
<rect x="1923.1" y="1158.2" width="11.0" height="10.8" fill="#ff0000"/>
<rect x="1942.4" y="1158.2" width="11.0" height="10.8" fill="#ff0000"/>
<rect x="1961.7" y="1158.2" width="11.0" height="10.8" fill="#ff0000"/>
<text x="1414.0" y="899.0" font-size="67.0" text-anchor="start" fill="#000" >(g)</text>
<text x="2109.0" y="865.0" font-size="67.0" text-anchor="start" fill="#000" >(m)</text>
<rect x="2126" y="906.5" width="27" height="580" fill="url(#tbar)" stroke="#3a3a3a" stroke-width="2.5"/>
<line x1="2153.6" y1="948.6" x2="2184.6" y2="948.6" stroke="#222" stroke-width="2.5"/>
<line x1="2153.6" y1="1029.5" x2="2184.6" y2="1029.5" stroke="#222" stroke-width="2.5"/>
<line x1="2153.6" y1="1109.7" x2="2184.6" y2="1109.7" stroke="#222" stroke-width="2.5"/>
<line x1="2153.6" y1="1192.3" x2="2184.6" y2="1192.3" stroke="#222" stroke-width="2.5"/>
<line x1="2153.6" y1="1271.6" x2="2184.6" y2="1271.6" stroke="#222" stroke-width="2.5"/>
<line x1="2153.6" y1="1353.4" x2="2184.6" y2="1353.4" stroke="#222" stroke-width="2.5"/>
<line x1="2153.6" y1="1432.7" x2="2184.6" y2="1432.7" stroke="#222" stroke-width="2.5"/>
<text x="2207.0" y="970.1" font-size="47.0" text-anchor="start" fill="#333" >42</text>
<text x="2207.0" y="1051.0" font-size="47.0" text-anchor="start" fill="#333" >41</text>
<text x="2207.0" y="1131.2" font-size="47.0" text-anchor="start" fill="#333" >40</text>
<text x="2207.0" y="1213.8" font-size="47.0" text-anchor="start" fill="#333" >39</text>
<text x="2207.0" y="1293.1" font-size="47.0" text-anchor="start" fill="#333" >38</text>
<text x="2207.0" y="1374.9" font-size="47.0" text-anchor="start" fill="#333" >37</text>
<text x="2207.0" y="1454.2" font-size="47.0" text-anchor="start" fill="#333" >36</text>
<text x="1783.0" y="1436.0" font-size="67.0" text-anchor="start" fill="#000" >DTM</text>
<polyline points="168.1,2553.4 192.6,2550.9 209.4,2733.7" stroke="#222" stroke-width="2" fill="none"/>
<line x1="174.2" y1="2615.1" x2="195.6" y2="2613.0" stroke="#222" stroke-width="2" fill="none"/>
<line x1="180.3" y1="2676.5" x2="201.7" y2="2673.2" stroke="#222" stroke-width="2" fill="none"/>
<line x1="188.0" y1="2735.2" x2="209.4" y2="2733.1" stroke="#222" stroke-width="2" fill="none"/>
<line x1="209.4" y1="2733.7" x2="420" y2="2592.8" stroke="#222" stroke-width="2" fill="none"/>
<line x1="272" y1="2687.2" x2="285.8" y2="2687.2" stroke="#222" stroke-width="2" fill="none"/>
<line x1="336.2" y1="2642" x2="348.4" y2="2642" stroke="#222" stroke-width="2" fill="none"/>
<line x1="215.8" y1="2742.0" x2="712.2" y2="2923.4" stroke="#222" stroke-width="2" fill="none"/>
<line x1="215.8" y1="2742.0" x2="205.8" y2="2754.0" stroke="#222" stroke-width="2" fill="none"/>
<line x1="289.6" y1="2769.0" x2="279.6" y2="2781.0" stroke="#222" stroke-width="2" fill="none"/>
<line x1="367.3" y1="2797.4" x2="357.3" y2="2809.4" stroke="#222" stroke-width="2" fill="none"/>
<line x1="447.0" y1="2826.5" x2="437.0" y2="2838.5" stroke="#222" stroke-width="2" fill="none"/>
<line x1="532.8" y1="2857.8" x2="522.8" y2="2869.8" stroke="#222" stroke-width="2" fill="none"/>
<line x1="618.5" y1="2889.2" x2="608.5" y2="2901.2" stroke="#222" stroke-width="2" fill="none"/>
<line x1="710.2" y1="2922.7" x2="700.2" y2="2934.7" stroke="#222" stroke-width="2" fill="none"/>
<text x="165.7" y="2573.0" font-size="26.0" text-anchor="middle" fill="#333" transform="scale(0.72,1)">15</text>
<text x="175.0" y="2636.0" font-size="26.0" text-anchor="middle" fill="#333" transform="scale(0.72,1)">10</text>
<text x="185.4" y="2697.0" font-size="26.0" text-anchor="middle" fill="#333" transform="scale(0.72,1)">5</text>
<text x="195.1" y="2756.6" font-size="26.0" text-anchor="middle" fill="#333" transform="scale(0.72,1)">0</text>
<text x="256.7" y="2747.5" font-size="26.0" text-anchor="middle" fill="#333" transform="scale(0.72,1)">0</text>
<text x="347.2" y="2700.0" font-size="26.0" text-anchor="middle" fill="#333" transform="scale(0.72,1)">10</text>
<text x="436.1" y="2657.0" font-size="26.0" text-anchor="middle" fill="#333" transform="scale(0.72,1)">20</text>
<text x="519.0" y="2613.0" font-size="26.0" text-anchor="middle" fill="#333" transform="scale(0.72,1)">30</text>
<text x="256.9" y="2791.7" font-size="26.0" text-anchor="middle" fill="#333" transform="scale(0.72,1)">0</text>
<text x="358.6" y="2822.6" font-size="26.0" text-anchor="middle" fill="#333" transform="scale(0.72,1)">10</text>
<text x="465.7" y="2851.9" font-size="26.0" text-anchor="middle" fill="#333" transform="scale(0.72,1)">20</text>
<text x="576.0" y="2882.7" font-size="26.0" text-anchor="middle" fill="#333" transform="scale(0.72,1)">30</text>
<text x="693.8" y="2916.6" font-size="26.0" text-anchor="middle" fill="#333" transform="scale(0.72,1)">40</text>
<text x="815.7" y="2948.2" font-size="26.0" text-anchor="middle" fill="#333" transform="scale(0.72,1)">50</text>
<text x="942.1" y="2984.4" font-size="26.0" text-anchor="middle" fill="#333" transform="scale(0.72,1)">60</text>
<text x="0.0" y="0.0" font-size="53.0" text-anchor="start" fill="#000" transform="matrix(-0.1461,-0.9893,0.966,-0.252,100.3,2773.5)">Heitgh (m)</text>
<text x="0.0" y="0.0" font-size="57.0" text-anchor="start" fill="#000" transform="translate(279.3,2605) rotate(-30)">Y (m)</text>
<text x="0.0" y="0.0" font-size="56.0" text-anchor="start" fill="#000" transform="translate(330,2936) rotate(16.7)">X (m)</text>
<text x="169.0" y="2419.6" font-size="62.0" text-anchor="start" fill="#000" >(d)</text>
<g clip-path="url(#clip_d)"><g filter="url(#blur_d)">
<rect x="270.0" y="2290.0" width="40.6" height="40.6" fill="#ff8c00"/>
<rect x="310.0" y="2290.0" width="40.6" height="40.6" fill="#ff8c00"/>
<rect x="350.0" y="2290.0" width="40.6" height="40.6" fill="#ff8c00"/>
<rect x="390.0" y="2290.0" width="40.6" height="40.6" fill="#ff8c00"/>
<rect x="430.0" y="2290.0" width="40.6" height="40.6" fill="#ff8c00"/>
<rect x="470.0" y="2290.0" width="40.6" height="40.6" fill="#ff5000"/>
<rect x="510.0" y="2290.0" width="40.6" height="40.6" fill="#ff5000"/>
<rect x="550.0" y="2290.0" width="40.6" height="40.6" fill="#ff8c00"/>
<rect x="590.0" y="2290.0" width="40.6" height="40.6" fill="#fafa00"/>
<rect x="630.0" y="2290.0" width="40.6" height="40.6" fill="#fafa00"/>
<rect x="670.0" y="2290.0" width="40.6" height="40.6" fill="#fafa00"/>
<rect x="710.0" y="2290.0" width="40.6" height="40.6" fill="#fafa00"/>
<rect x="750.0" y="2290.0" width="40.6" height="40.6" fill="#fafa00"/>
<rect x="790.0" y="2290.0" width="40.6" height="40.6" fill="#fafa00"/>
<rect x="830.0" y="2290.0" width="40.6" height="40.6" fill="#fafa00"/>
<rect x="870.0" y="2290.0" width="40.6" height="40.6" fill="#fafa00"/>
<rect x="910.0" y="2290.0" width="40.6" height="40.6" fill="#fafa00"/>
<rect x="950.0" y="2290.0" width="40.6" height="40.6" fill="#fafa00"/>
<rect x="990.0" y="2290.0" width="40.6" height="40.6" fill="#fafa00"/>
<rect x="1030.0" y="2290.0" width="40.6" height="40.6" fill="#fafa00"/>
<rect x="270.0" y="2330.0" width="40.6" height="40.6" fill="#ff8c00"/>
<rect x="310.0" y="2330.0" width="40.6" height="40.6" fill="#ff8c00"/>
<rect x="350.0" y="2330.0" width="40.6" height="40.6" fill="#ff8c00"/>
<rect x="390.0" y="2330.0" width="40.6" height="40.6" fill="#ff8c00"/>
<rect x="430.0" y="2330.0" width="40.6" height="40.6" fill="#ff8c00"/>
<rect x="470.0" y="2330.0" width="40.6" height="40.6" fill="#ff5000"/>
<rect x="510.0" y="2330.0" width="40.6" height="40.6" fill="#ff5000"/>
<rect x="550.0" y="2330.0" width="40.6" height="40.6" fill="#ff8c00"/>
<rect x="590.0" y="2330.0" width="40.6" height="40.6" fill="#fafa00"/>
<rect x="630.0" y="2330.0" width="40.6" height="40.6" fill="#fafa00"/>
<rect x="670.0" y="2330.0" width="40.6" height="40.6" fill="#fafa00"/>
<rect x="710.0" y="2330.0" width="40.6" height="40.6" fill="#fafa00"/>
<rect x="750.0" y="2330.0" width="40.6" height="40.6" fill="#fafa00"/>
<rect x="790.0" y="2330.0" width="40.6" height="40.6" fill="#fafa00"/>
<rect x="830.0" y="2330.0" width="40.6" height="40.6" fill="#fafa00"/>
<rect x="870.0" y="2330.0" width="40.6" height="40.6" fill="#fafa00"/>
<rect x="910.0" y="2330.0" width="40.6" height="40.6" fill="#fafa00"/>
<rect x="950.0" y="2330.0" width="40.6" height="40.6" fill="#fafa00"/>
<rect x="990.0" y="2330.0" width="40.6" height="40.6" fill="#fafa00"/>
<rect x="1030.0" y="2330.0" width="40.6" height="40.6" fill="#fafa00"/>
<rect x="270.0" y="2370.0" width="40.6" height="40.6" fill="#ff8c00"/>
<rect x="310.0" y="2370.0" width="40.6" height="40.6" fill="#ff8c00"/>
<rect x="350.0" y="2370.0" width="40.6" height="40.6" fill="#ff8c00"/>
<rect x="390.0" y="2370.0" width="40.6" height="40.6" fill="#ff8c00"/>
<rect x="430.0" y="2370.0" width="40.6" height="40.6" fill="#ff8c00"/>
<rect x="470.0" y="2370.0" width="40.6" height="40.6" fill="#ff5000"/>
<rect x="510.0" y="2370.0" width="40.6" height="40.6" fill="#ff5000"/>
<rect x="550.0" y="2370.0" width="40.6" height="40.6" fill="#ff8c00"/>
<rect x="590.0" y="2370.0" width="40.6" height="40.6" fill="#fafa00"/>
<rect x="630.0" y="2370.0" width="40.6" height="40.6" fill="#fafa00"/>
<rect x="670.0" y="2370.0" width="40.6" height="40.6" fill="#fafa00"/>
<rect x="710.0" y="2370.0" width="40.6" height="40.6" fill="#fafa00"/>
<rect x="750.0" y="2370.0" width="40.6" height="40.6" fill="#fafa00"/>
<rect x="790.0" y="2370.0" width="40.6" height="40.6" fill="#fafa00"/>
<rect x="830.0" y="2370.0" width="40.6" height="40.6" fill="#fafa00"/>
<rect x="870.0" y="2370.0" width="40.6" height="40.6" fill="#fafa00"/>
<rect x="910.0" y="2370.0" width="40.6" height="40.6" fill="#fafa00"/>
<rect x="950.0" y="2370.0" width="40.6" height="40.6" fill="#fafa00"/>
<rect x="990.0" y="2370.0" width="40.6" height="40.6" fill="#fafa00"/>
<rect x="1030.0" y="2370.0" width="40.6" height="40.6" fill="#fafa00"/>
<rect x="270.0" y="2410.0" width="40.6" height="40.6" fill="#ff8c00"/>
<rect x="310.0" y="2410.0" width="40.6" height="40.6" fill="#ff8c00"/>
<rect x="350.0" y="2410.0" width="40.6" height="40.6" fill="#ff8c00"/>
<rect x="390.0" y="2410.0" width="40.6" height="40.6" fill="#ff8c00"/>
<rect x="430.0" y="2410.0" width="40.6" height="40.6" fill="#ff8c00"/>
<rect x="470.0" y="2410.0" width="40.6" height="40.6" fill="#ff8c00"/>
<rect x="510.0" y="2410.0" width="40.6" height="40.6" fill="#ff8c00"/>
<rect x="550.0" y="2410.0" width="40.6" height="40.6" fill="#ff8c00"/>
<rect x="590.0" y="2410.0" width="40.6" height="40.6" fill="#ffd700"/>
<rect x="630.0" y="2410.0" width="40.6" height="40.6" fill="#fafa00"/>
<rect x="670.0" y="2410.0" width="40.6" height="40.6" fill="#fafa00"/>
<rect x="710.0" y="2410.0" width="40.6" height="40.6" fill="#fafa00"/>
<rect x="750.0" y="2410.0" width="40.6" height="40.6" fill="#fafa00"/>
<rect x="790.0" y="2410.0" width="40.6" height="40.6" fill="#fafa00"/>
<rect x="830.0" y="2410.0" width="40.6" height="40.6" fill="#2de6c8"/>
<rect x="870.0" y="2410.0" width="40.6" height="40.6" fill="#2de6c8"/>
<rect x="910.0" y="2410.0" width="40.6" height="40.6" fill="#2de6c8"/>
<rect x="950.0" y="2410.0" width="40.6" height="40.6" fill="#2de6c8"/>
<rect x="990.0" y="2410.0" width="40.6" height="40.6" fill="#2de6c8"/>
<rect x="1030.0" y="2410.0" width="40.6" height="40.6" fill="#2de6c8"/>
<rect x="270.0" y="2450.0" width="40.6" height="40.6" fill="#ff8c00"/>
<rect x="310.0" y="2450.0" width="40.6" height="40.6" fill="#ff8c00"/>
<rect x="350.0" y="2450.0" width="40.6" height="40.6" fill="#ff8c00"/>
<rect x="390.0" y="2450.0" width="40.6" height="40.6" fill="#ff8c00"/>
<rect x="430.0" y="2450.0" width="40.6" height="40.6" fill="#ff8c00"/>
<rect x="470.0" y="2450.0" width="40.6" height="40.6" fill="#ff8c00"/>
<rect x="510.0" y="2450.0" width="40.6" height="40.6" fill="#ffd700"/>
<rect x="550.0" y="2450.0" width="40.6" height="40.6" fill="#ffd700"/>
<rect x="590.0" y="2450.0" width="40.6" height="40.6" fill="#fafa00"/>
<rect x="630.0" y="2450.0" width="40.6" height="40.6" fill="#befa32"/>
<rect x="670.0" y="2450.0" width="40.6" height="40.6" fill="#befa32"/>
<rect x="710.0" y="2450.0" width="40.6" height="40.6" fill="#78f078"/>
<rect x="750.0" y="2450.0" width="40.6" height="40.6" fill="#2de6c8"/>
<rect x="790.0" y="2450.0" width="40.6" height="40.6" fill="#2de6c8"/>
<rect x="830.0" y="2450.0" width="40.6" height="40.6" fill="#2de6c8"/>
<rect x="870.0" y="2450.0" width="40.6" height="40.6" fill="#2de6c8"/>
<rect x="910.0" y="2450.0" width="40.6" height="40.6" fill="#befa32"/>
<rect x="950.0" y="2450.0" width="40.6" height="40.6" fill="#befa32"/>
<rect x="990.0" y="2450.0" width="40.6" height="40.6" fill="#befa32"/>
<rect x="1030.0" y="2450.0" width="40.6" height="40.6" fill="#befa32"/>
<rect x="270.0" y="2490.0" width="40.6" height="40.6" fill="#ff8c00"/>
<rect x="310.0" y="2490.0" width="40.6" height="40.6" fill="#ff8c00"/>
<rect x="350.0" y="2490.0" width="40.6" height="40.6" fill="#ff8c00"/>
<rect x="390.0" y="2490.0" width="40.6" height="40.6" fill="#ff8c00"/>
<rect x="430.0" y="2490.0" width="40.6" height="40.6" fill="#ff8c00"/>
<rect x="470.0" y="2490.0" width="40.6" height="40.6" fill="#ff8c00"/>
<rect x="510.0" y="2490.0" width="40.6" height="40.6" fill="#ffd700"/>
<rect x="550.0" y="2490.0" width="40.6" height="40.6" fill="#fafa00"/>
<rect x="590.0" y="2490.0" width="40.6" height="40.6" fill="#fafa00"/>
<rect x="630.0" y="2490.0" width="40.6" height="40.6" fill="#befa32"/>
<rect x="670.0" y="2490.0" width="40.6" height="40.6" fill="#2de6c8"/>
<rect x="710.0" y="2490.0" width="40.6" height="40.6" fill="#2de6c8"/>
<rect x="750.0" y="2490.0" width="40.6" height="40.6" fill="#78f078"/>
<rect x="790.0" y="2490.0" width="40.6" height="40.6" fill="#78f078"/>
<rect x="830.0" y="2490.0" width="40.6" height="40.6" fill="#00e4f0"/>
<rect x="870.0" y="2490.0" width="40.6" height="40.6" fill="#ff8c00"/>
<rect x="910.0" y="2490.0" width="40.6" height="40.6" fill="#fafa00"/>
<rect x="950.0" y="2490.0" width="40.6" height="40.6" fill="#fafa00"/>
<rect x="990.0" y="2490.0" width="40.6" height="40.6" fill="#fafa00"/>
<rect x="1030.0" y="2490.0" width="40.6" height="40.6" fill="#fafa00"/>
<rect x="270.0" y="2530.0" width="40.6" height="40.6" fill="#fafa00"/>
<rect x="310.0" y="2530.0" width="40.6" height="40.6" fill="#fafa00"/>
<rect x="350.0" y="2530.0" width="40.6" height="40.6" fill="#fafa00"/>
<rect x="390.0" y="2530.0" width="40.6" height="40.6" fill="#ff8c00"/>
<rect x="430.0" y="2530.0" width="40.6" height="40.6" fill="#fafa00"/>
<rect x="470.0" y="2530.0" width="40.6" height="40.6" fill="#ff8c00"/>
<rect x="510.0" y="2530.0" width="40.6" height="40.6" fill="#fafa00"/>
<rect x="550.0" y="2530.0" width="40.6" height="40.6" fill="#fafa00"/>
<rect x="590.0" y="2530.0" width="40.6" height="40.6" fill="#fafa00"/>
<rect x="630.0" y="2530.0" width="40.6" height="40.6" fill="#befa32"/>
<rect x="670.0" y="2530.0" width="40.6" height="40.6" fill="#2de6c8"/>
<rect x="710.0" y="2530.0" width="40.6" height="40.6" fill="#2de6c8"/>
<rect x="750.0" y="2530.0" width="40.6" height="40.6" fill="#78f078"/>
<rect x="790.0" y="2530.0" width="40.6" height="40.6" fill="#befa32"/>
<rect x="830.0" y="2530.0" width="40.6" height="40.6" fill="#fafa00"/>
<rect x="870.0" y="2530.0" width="40.6" height="40.6" fill="#ff8c00"/>
<rect x="910.0" y="2530.0" width="40.6" height="40.6" fill="#ffd700"/>
<rect x="950.0" y="2530.0" width="40.6" height="40.6" fill="#ffd700"/>
<rect x="990.0" y="2530.0" width="40.6" height="40.6" fill="#ffd700"/>
<rect x="1030.0" y="2530.0" width="40.6" height="40.6" fill="#ffd700"/>
<rect x="270.0" y="2570.0" width="40.6" height="40.6" fill="#fafa00"/>
<rect x="310.0" y="2570.0" width="40.6" height="40.6" fill="#fafa00"/>
<rect x="350.0" y="2570.0" width="40.6" height="40.6" fill="#fafa00"/>
<rect x="390.0" y="2570.0" width="40.6" height="40.6" fill="#ffd700"/>
<rect x="430.0" y="2570.0" width="40.6" height="40.6" fill="#ff8c00"/>
<rect x="470.0" y="2570.0" width="40.6" height="40.6" fill="#ff5000"/>
<rect x="510.0" y="2570.0" width="40.6" height="40.6" fill="#ff5000"/>
<rect x="550.0" y="2570.0" width="40.6" height="40.6" fill="#f51400"/>
<rect x="590.0" y="2570.0" width="40.6" height="40.6" fill="#ff8c00"/>
<rect x="630.0" y="2570.0" width="40.6" height="40.6" fill="#fafa00"/>
<rect x="670.0" y="2570.0" width="40.6" height="40.6" fill="#2de6c8"/>
<rect x="710.0" y="2570.0" width="40.6" height="40.6" fill="#2de6c8"/>
<rect x="750.0" y="2570.0" width="40.6" height="40.6" fill="#befa32"/>
<rect x="790.0" y="2570.0" width="40.6" height="40.6" fill="#fafa00"/>
<rect x="830.0" y="2570.0" width="40.6" height="40.6" fill="#fafa00"/>
<rect x="870.0" y="2570.0" width="40.6" height="40.6" fill="#ffd700"/>
<rect x="910.0" y="2570.0" width="40.6" height="40.6" fill="#fafa00"/>
<rect x="950.0" y="2570.0" width="40.6" height="40.6" fill="#fafa00"/>
<rect x="990.0" y="2570.0" width="40.6" height="40.6" fill="#fafa00"/>
<rect x="1030.0" y="2570.0" width="40.6" height="40.6" fill="#fafa00"/>
<rect x="270.0" y="2610.0" width="40.6" height="40.6" fill="#fafa00"/>
<rect x="310.0" y="2610.0" width="40.6" height="40.6" fill="#fafa00"/>
<rect x="350.0" y="2610.0" width="40.6" height="40.6" fill="#fafa00"/>
<rect x="390.0" y="2610.0" width="40.6" height="40.6" fill="#ff8c00"/>
<rect x="430.0" y="2610.0" width="40.6" height="40.6" fill="#ff8c00"/>
<rect x="470.0" y="2610.0" width="40.6" height="40.6" fill="#ff5000"/>
<rect x="510.0" y="2610.0" width="40.6" height="40.6" fill="#ff8c00"/>
<rect x="550.0" y="2610.0" width="40.6" height="40.6" fill="#ff8c00"/>
<rect x="590.0" y="2610.0" width="40.6" height="40.6" fill="#ff8c00"/>
<rect x="630.0" y="2610.0" width="40.6" height="40.6" fill="#ffd700"/>
<rect x="670.0" y="2610.0" width="40.6" height="40.6" fill="#fafa00"/>
<rect x="710.0" y="2610.0" width="40.6" height="40.6" fill="#fafa00"/>
<rect x="750.0" y="2610.0" width="40.6" height="40.6" fill="#befa32"/>
<rect x="790.0" y="2610.0" width="40.6" height="40.6" fill="#fafa00"/>
<rect x="830.0" y="2610.0" width="40.6" height="40.6" fill="#befa32"/>
<rect x="870.0" y="2610.0" width="40.6" height="40.6" fill="#fafa00"/>
<rect x="910.0" y="2610.0" width="40.6" height="40.6" fill="#befa32"/>
<rect x="950.0" y="2610.0" width="40.6" height="40.6" fill="#befa32"/>
<rect x="990.0" y="2610.0" width="40.6" height="40.6" fill="#befa32"/>
<rect x="1030.0" y="2610.0" width="40.6" height="40.6" fill="#befa32"/>
<rect x="270.0" y="2650.0" width="40.6" height="40.6" fill="#fafa00"/>
<rect x="310.0" y="2650.0" width="40.6" height="40.6" fill="#fafa00"/>
<rect x="350.0" y="2650.0" width="40.6" height="40.6" fill="#fafa00"/>
<rect x="390.0" y="2650.0" width="40.6" height="40.6" fill="#fafa00"/>
<rect x="430.0" y="2650.0" width="40.6" height="40.6" fill="#fafa00"/>
<rect x="470.0" y="2650.0" width="40.6" height="40.6" fill="#fafa00"/>
<rect x="510.0" y="2650.0" width="40.6" height="40.6" fill="#fafa00"/>
<rect x="550.0" y="2650.0" width="40.6" height="40.6" fill="#befa32"/>
<rect x="590.0" y="2650.0" width="40.6" height="40.6" fill="#fafa00"/>
<rect x="630.0" y="2650.0" width="40.6" height="40.6" fill="#fafa00"/>
<rect x="670.0" y="2650.0" width="40.6" height="40.6" fill="#fafa00"/>
<rect x="710.0" y="2650.0" width="40.6" height="40.6" fill="#fafa00"/>
<rect x="750.0" y="2650.0" width="40.6" height="40.6" fill="#befa32"/>
<rect x="790.0" y="2650.0" width="40.6" height="40.6" fill="#78f078"/>
<rect x="830.0" y="2650.0" width="40.6" height="40.6" fill="#78f078"/>
<rect x="870.0" y="2650.0" width="40.6" height="40.6" fill="#78f078"/>
<rect x="910.0" y="2650.0" width="40.6" height="40.6" fill="#78f078"/>
<rect x="950.0" y="2650.0" width="40.6" height="40.6" fill="#78f078"/>
<rect x="990.0" y="2650.0" width="40.6" height="40.6" fill="#78f078"/>
<rect x="1030.0" y="2650.0" width="40.6" height="40.6" fill="#78f078"/>
<rect x="270.0" y="2690.0" width="40.6" height="40.6" fill="#fafa00"/>
<rect x="310.0" y="2690.0" width="40.6" height="40.6" fill="#fafa00"/>
<rect x="350.0" y="2690.0" width="40.6" height="40.6" fill="#fafa00"/>
<rect x="390.0" y="2690.0" width="40.6" height="40.6" fill="#fafa00"/>
<rect x="430.0" y="2690.0" width="40.6" height="40.6" fill="#fafa00"/>
<rect x="470.0" y="2690.0" width="40.6" height="40.6" fill="#fafa00"/>
<rect x="510.0" y="2690.0" width="40.6" height="40.6" fill="#fafa00"/>
<rect x="550.0" y="2690.0" width="40.6" height="40.6" fill="#2de6c8"/>
<rect x="590.0" y="2690.0" width="40.6" height="40.6" fill="#78f078"/>
<rect x="630.0" y="2690.0" width="40.6" height="40.6" fill="#befa32"/>
<rect x="670.0" y="2690.0" width="40.6" height="40.6" fill="#befa32"/>
<rect x="710.0" y="2690.0" width="40.6" height="40.6" fill="#78f078"/>
<rect x="750.0" y="2690.0" width="40.6" height="40.6" fill="#78f078"/>
<rect x="790.0" y="2690.0" width="40.6" height="40.6" fill="#2de6c8"/>
<rect x="830.0" y="2690.0" width="40.6" height="40.6" fill="#2de6c8"/>
<rect x="870.0" y="2690.0" width="40.6" height="40.6" fill="#2de6c8"/>
<rect x="910.0" y="2690.0" width="40.6" height="40.6" fill="#2de6c8"/>
<rect x="950.0" y="2690.0" width="40.6" height="40.6" fill="#2de6c8"/>
<rect x="990.0" y="2690.0" width="40.6" height="40.6" fill="#2de6c8"/>
<rect x="1030.0" y="2690.0" width="40.6" height="40.6" fill="#2de6c8"/>
<rect x="270.0" y="2730.0" width="40.6" height="40.6" fill="#2de6c8"/>
<rect x="310.0" y="2730.0" width="40.6" height="40.6" fill="#2de6c8"/>
<rect x="350.0" y="2730.0" width="40.6" height="40.6" fill="#2de6c8"/>
<rect x="390.0" y="2730.0" width="40.6" height="40.6" fill="#2de6c8"/>
<rect x="430.0" y="2730.0" width="40.6" height="40.6" fill="#2de6c8"/>
<rect x="470.0" y="2730.0" width="40.6" height="40.6" fill="#2de6c8"/>
<rect x="510.0" y="2730.0" width="40.6" height="40.6" fill="#2de6c8"/>
<rect x="550.0" y="2730.0" width="40.6" height="40.6" fill="#2de6c8"/>
<rect x="590.0" y="2730.0" width="40.6" height="40.6" fill="#2de6c8"/>
<rect x="630.0" y="2730.0" width="40.6" height="40.6" fill="#78f078"/>
<rect x="670.0" y="2730.0" width="40.6" height="40.6" fill="#78f078"/>
<rect x="710.0" y="2730.0" width="40.6" height="40.6" fill="#78f078"/>
<rect x="750.0" y="2730.0" width="40.6" height="40.6" fill="#78f078"/>
<rect x="790.0" y="2730.0" width="40.6" height="40.6" fill="#2de6c8"/>
<rect x="830.0" y="2730.0" width="40.6" height="40.6" fill="#00e4f0"/>
<rect x="870.0" y="2730.0" width="40.6" height="40.6" fill="#00b4f5"/>
<rect x="910.0" y="2730.0" width="40.6" height="40.6" fill="#0087f0"/>
<rect x="950.0" y="2730.0" width="40.6" height="40.6" fill="#0087f0"/>
<rect x="990.0" y="2730.0" width="40.6" height="40.6" fill="#0087f0"/>
<rect x="1030.0" y="2730.0" width="40.6" height="40.6" fill="#0087f0"/>
<rect x="270.0" y="2770.0" width="40.6" height="40.6" fill="#2de6c8"/>
<rect x="310.0" y="2770.0" width="40.6" height="40.6" fill="#2de6c8"/>
<rect x="350.0" y="2770.0" width="40.6" height="40.6" fill="#2de6c8"/>
<rect x="390.0" y="2770.0" width="40.6" height="40.6" fill="#2de6c8"/>
<rect x="430.0" y="2770.0" width="40.6" height="40.6" fill="#2de6c8"/>
<rect x="470.0" y="2770.0" width="40.6" height="40.6" fill="#2de6c8"/>
<rect x="510.0" y="2770.0" width="40.6" height="40.6" fill="#2de6c8"/>
<rect x="550.0" y="2770.0" width="40.6" height="40.6" fill="#2de6c8"/>
<rect x="590.0" y="2770.0" width="40.6" height="40.6" fill="#2de6c8"/>
<rect x="630.0" y="2770.0" width="40.6" height="40.6" fill="#78f078"/>
<rect x="670.0" y="2770.0" width="40.6" height="40.6" fill="#78f078"/>
<rect x="710.0" y="2770.0" width="40.6" height="40.6" fill="#78f078"/>
<rect x="750.0" y="2770.0" width="40.6" height="40.6" fill="#78f078"/>
<rect x="790.0" y="2770.0" width="40.6" height="40.6" fill="#00b4f5"/>
<rect x="830.0" y="2770.0" width="40.6" height="40.6" fill="#0087f0"/>
<rect x="870.0" y="2770.0" width="40.6" height="40.6" fill="#005af5"/>
<rect x="910.0" y="2770.0" width="40.6" height="40.6" fill="#005af5"/>
<rect x="950.0" y="2770.0" width="40.6" height="40.6" fill="#005af5"/>
<rect x="990.0" y="2770.0" width="40.6" height="40.6" fill="#005af5"/>
<rect x="1030.0" y="2770.0" width="40.6" height="40.6" fill="#005af5"/>
<rect x="270.0" y="2810.0" width="40.6" height="40.6" fill="#2de6c8"/>
<rect x="310.0" y="2810.0" width="40.6" height="40.6" fill="#2de6c8"/>
<rect x="350.0" y="2810.0" width="40.6" height="40.6" fill="#2de6c8"/>
<rect x="390.0" y="2810.0" width="40.6" height="40.6" fill="#2de6c8"/>
<rect x="430.0" y="2810.0" width="40.6" height="40.6" fill="#2de6c8"/>
<rect x="470.0" y="2810.0" width="40.6" height="40.6" fill="#2de6c8"/>
<rect x="510.0" y="2810.0" width="40.6" height="40.6" fill="#2de6c8"/>
<rect x="550.0" y="2810.0" width="40.6" height="40.6" fill="#2de6c8"/>
<rect x="590.0" y="2810.0" width="40.6" height="40.6" fill="#2de6c8"/>
<rect x="630.0" y="2810.0" width="40.6" height="40.6" fill="#78f078"/>
<rect x="670.0" y="2810.0" width="40.6" height="40.6" fill="#78f078"/>
<rect x="710.0" y="2810.0" width="40.6" height="40.6" fill="#78f078"/>
<rect x="750.0" y="2810.0" width="40.6" height="40.6" fill="#78f078"/>
<rect x="790.0" y="2810.0" width="40.6" height="40.6" fill="#00b4f5"/>
<rect x="830.0" y="2810.0" width="40.6" height="40.6" fill="#0087f0"/>
<rect x="870.0" y="2810.0" width="40.6" height="40.6" fill="#005af5"/>
<rect x="910.0" y="2810.0" width="40.6" height="40.6" fill="#005af5"/>
<rect x="950.0" y="2810.0" width="40.6" height="40.6" fill="#005af5"/>
<rect x="990.0" y="2810.0" width="40.6" height="40.6" fill="#005af5"/>
<rect x="1030.0" y="2810.0" width="40.6" height="40.6" fill="#005af5"/>
<rect x="270.0" y="2850.0" width="40.6" height="40.6" fill="#2de6c8"/>
<rect x="310.0" y="2850.0" width="40.6" height="40.6" fill="#2de6c8"/>
<rect x="350.0" y="2850.0" width="40.6" height="40.6" fill="#2de6c8"/>
<rect x="390.0" y="2850.0" width="40.6" height="40.6" fill="#2de6c8"/>
<rect x="430.0" y="2850.0" width="40.6" height="40.6" fill="#2de6c8"/>
<rect x="470.0" y="2850.0" width="40.6" height="40.6" fill="#2de6c8"/>
<rect x="510.0" y="2850.0" width="40.6" height="40.6" fill="#2de6c8"/>
<rect x="550.0" y="2850.0" width="40.6" height="40.6" fill="#2de6c8"/>
<rect x="590.0" y="2850.0" width="40.6" height="40.6" fill="#2de6c8"/>
<rect x="630.0" y="2850.0" width="40.6" height="40.6" fill="#78f078"/>
<rect x="670.0" y="2850.0" width="40.6" height="40.6" fill="#78f078"/>
<rect x="710.0" y="2850.0" width="40.6" height="40.6" fill="#78f078"/>
<rect x="750.0" y="2850.0" width="40.6" height="40.6" fill="#78f078"/>
<rect x="790.0" y="2850.0" width="40.6" height="40.6" fill="#00b4f5"/>
<rect x="830.0" y="2850.0" width="40.6" height="40.6" fill="#0087f0"/>
<rect x="870.0" y="2850.0" width="40.6" height="40.6" fill="#005af5"/>
<rect x="910.0" y="2850.0" width="40.6" height="40.6" fill="#005af5"/>
<rect x="950.0" y="2850.0" width="40.6" height="40.6" fill="#005af5"/>
<rect x="990.0" y="2850.0" width="40.6" height="40.6" fill="#005af5"/>
<rect x="1030.0" y="2850.0" width="40.6" height="40.6" fill="#005af5"/>
</g></g>
<polygon points="556.0,2640.0 572.0,2636.0 580.0,2660.0 578.0,2700.0 562.0,2702.0 556.0,2670.0" fill="#fff" filter="url(#soft)"/>
<polygon points="824.0,2648.0 840.0,2645.0 851.0,2660.0 845.0,2672.0 828.0,2670.0" fill="#fff" filter="url(#soft)"/>
<polygon points="732.0,2481.0 748.0,2480.0 751.0,2492.0 736.0,2494.0" fill="#fff" filter="url(#soft)"/>
<polyline points="1369.5,2567.5 1396.1,2563.5 1411,2683.8 1386.1,2690.4" stroke="#222" stroke-width="2" fill="none"/>
<line x1="1374.5" y1="2600.7" x2="1399.4" y2="2594.0" stroke="#222" stroke-width="2" fill="none"/>
<line x1="1377.8" y1="2631.6" x2="1402.8" y2="2624.0" stroke="#222" stroke-width="2" fill="none"/>
<line x1="1382.8" y1="2662.2" x2="1406.1" y2="2655.5" stroke="#222" stroke-width="2" fill="none"/>
<line x1="1410" y1="2700.4" x2="1422.7" y2="2700.4" stroke="#222" stroke-width="2" fill="none"/>
<line x1="1422.7" y1="2700.4" x2="1772" y2="2367" stroke="#222" stroke-width="2" fill="none"/>
<line x1="1482.5" y1="2632.3" x2="1495.5" y2="2632.3" stroke="#222" stroke-width="2" fill="none"/>
<line x1="1545.6" y1="2569.2" x2="1558.6" y2="2569.2" stroke="#222" stroke-width="2" fill="none"/>
<line x1="1605.4" y1="2512.7" x2="1618.4" y2="2512.7" stroke="#222" stroke-width="2" fill="none"/>
<line x1="1660.0" y1="2460.0" x2="1673.0" y2="2460.0" stroke="#222" stroke-width="2" fill="none"/>
<line x1="1720.0" y1="2405.0" x2="1733.0" y2="2405.0" stroke="#222" stroke-width="2" fill="none"/>
<line x1="1422.6" y1="2709.7" x2="2003.8" y2="2904.0" stroke="#222" stroke-width="2" fill="none"/>
<line x1="1422.6" y1="2709.7" x2="1413.8" y2="2725.1" stroke="#222" stroke-width="2" fill="none"/>
<line x1="1503.8" y1="2736.8" x2="1495.0" y2="2752.2" stroke="#222" stroke-width="2" fill="none"/>
<line x1="1589.3" y1="2765.4" x2="1580.5" y2="2780.8" stroke="#222" stroke-width="2" fill="none"/>
<line x1="1682.3" y1="2796.5" x2="1673.5" y2="2811.9" stroke="#222" stroke-width="2" fill="none"/>
<line x1="1782.3" y1="2830.0" x2="1773.5" y2="2845.4" stroke="#222" stroke-width="2" fill="none"/>
<line x1="1889.7" y1="2865.9" x2="1880.9" y2="2881.3" stroke="#222" stroke-width="2" fill="none"/>
<line x1="2003.8" y1="2904.0" x2="1995.0" y2="2919.4" stroke="#222" stroke-width="2" fill="none"/>
<text x="1830.1" y="2599.0" font-size="27.0" text-anchor="middle" fill="#333" transform="scale(0.72,1)">8</text>
<text x="1835.3" y="2630.6" font-size="27.0" text-anchor="middle" fill="#333" transform="scale(0.72,1)">6</text>
<text x="1841.0" y="2662.2" font-size="27.0" text-anchor="middle" fill="#333" transform="scale(0.72,1)">4</text>
<text x="1846.8" y="2692.0" font-size="27.0" text-anchor="middle" fill="#333" transform="scale(0.72,1)">2</text>
<text x="1852.5" y="2723.7" font-size="27.0" text-anchor="middle" fill="#333" transform="scale(0.72,1)">0</text>
<text x="1926.3" y="2715.4" font-size="27.0" text-anchor="middle" fill="#333" transform="scale(0.72,1)">0</text>
<text x="2023.2" y="2649.0" font-size="27.0" text-anchor="middle" fill="#333" transform="scale(0.72,1)">10</text>
<text x="2113.2" y="2585.8" font-size="27.0" text-anchor="middle" fill="#333" transform="scale(0.72,1)">20</text>
<text x="2197.5" y="2529.3" font-size="27.0" text-anchor="middle" fill="#333" transform="scale(0.72,1)">30</text>
<text x="2273.6" y="2478.0" font-size="27.0" text-anchor="middle" fill="#333" transform="scale(0.72,1)">40</text>
<text x="1929.2" y="2771.8" font-size="27.0" text-anchor="middle" fill="#333" transform="scale(0.72,1)">0</text>
<text x="2038.9" y="2800.6" font-size="27.0" text-anchor="middle" fill="#333" transform="scale(0.72,1)">10</text>
<text x="2163.9" y="2833.7" font-size="27.0" text-anchor="middle" fill="#333" transform="scale(0.72,1)">20</text>
<text x="2292.5" y="2866.0" font-size="27.0" text-anchor="middle" fill="#333" transform="scale(0.72,1)">30</text>
<text x="2431.5" y="2903.0" font-size="27.0" text-anchor="middle" fill="#333" transform="scale(0.72,1)">40</text>
<text x="2581.2" y="2940.0" font-size="27.0" text-anchor="middle" fill="#333" transform="scale(0.72,1)">50</text>
<text x="2742.8" y="2980.0" font-size="27.0" text-anchor="middle" fill="#333" transform="scale(0.72,1)">60</text>
<text x="0.0" y="0.0" font-size="54.0" text-anchor="start" fill="#000" transform="matrix(-0.1547,-0.988,0.972,-0.236,1302.4,2795.1)">Heitgh (m)</text>
<text x="2412.5" y="2386.0" font-size="27.0" text-anchor="middle" fill="#333" transform="scale(0.72,1)">50</text>
<text x="0.0" y="0.0" font-size="57.0" text-anchor="start" fill="#000" transform="translate(1489.6,2541.3) rotate(-40)">Y (m)</text>
<text x="0.0" y="0.0" font-size="56.0" text-anchor="start" fill="#000" transform="translate(1586,2914) rotate(15.5)">X (m)</text>
<text x="1341.0" y="2358.0" font-size="66.0" text-anchor="start" fill="#000" >(i)</text>
<g clip-path="url(#clip_i)"><g filter="url(#blur_i)">
<rect x="1480.0" y="2270.0" width="40.6" height="40.6" fill="#78f078"/>
<rect x="1520.0" y="2270.0" width="40.6" height="40.6" fill="#78f078"/>
<rect x="1560.0" y="2270.0" width="40.6" height="40.6" fill="#78f078"/>
<rect x="1600.0" y="2270.0" width="40.6" height="40.6" fill="#78f078"/>
<rect x="1640.0" y="2270.0" width="40.6" height="40.6" fill="#ff5000"/>
<rect x="1680.0" y="2270.0" width="40.6" height="40.6" fill="#78f078"/>
<rect x="1720.0" y="2270.0" width="40.6" height="40.6" fill="#78f078"/>
<rect x="1760.0" y="2270.0" width="40.6" height="40.6" fill="#0c5feb"/>
<rect x="1800.0" y="2270.0" width="40.6" height="40.6" fill="#0c5feb"/>
<rect x="1840.0" y="2270.0" width="40.6" height="40.6" fill="#0c5feb"/>
<rect x="1880.0" y="2270.0" width="40.6" height="40.6" fill="#0c5feb"/>
<rect x="1920.0" y="2270.0" width="40.6" height="40.6" fill="#0c5feb"/>
<rect x="1960.0" y="2270.0" width="40.6" height="40.6" fill="#0c5feb"/>
<rect x="2000.0" y="2270.0" width="40.6" height="40.6" fill="#0c5feb"/>
<rect x="2040.0" y="2270.0" width="40.6" height="40.6" fill="#0c5feb"/>
<rect x="2080.0" y="2270.0" width="40.6" height="40.6" fill="#0c5feb"/>
<rect x="2120.0" y="2270.0" width="40.6" height="40.6" fill="#0c5feb"/>
<rect x="2160.0" y="2270.0" width="40.6" height="40.6" fill="#0c5feb"/>
<rect x="2200.0" y="2270.0" width="40.6" height="40.6" fill="#0c5feb"/>
<rect x="1480.0" y="2310.0" width="40.6" height="40.6" fill="#78f078"/>
<rect x="1520.0" y="2310.0" width="40.6" height="40.6" fill="#78f078"/>
<rect x="1560.0" y="2310.0" width="40.6" height="40.6" fill="#78f078"/>
<rect x="1600.0" y="2310.0" width="40.6" height="40.6" fill="#78f078"/>
<rect x="1640.0" y="2310.0" width="40.6" height="40.6" fill="#ff5000"/>
<rect x="1680.0" y="2310.0" width="40.6" height="40.6" fill="#78f078"/>
<rect x="1720.0" y="2310.0" width="40.6" height="40.6" fill="#78f078"/>
<rect x="1760.0" y="2310.0" width="40.6" height="40.6" fill="#0c5feb"/>
<rect x="1800.0" y="2310.0" width="40.6" height="40.6" fill="#0c5feb"/>
<rect x="1840.0" y="2310.0" width="40.6" height="40.6" fill="#0c5feb"/>
<rect x="1880.0" y="2310.0" width="40.6" height="40.6" fill="#0c5feb"/>
<rect x="1920.0" y="2310.0" width="40.6" height="40.6" fill="#0c5feb"/>
<rect x="1960.0" y="2310.0" width="40.6" height="40.6" fill="#0c5feb"/>
<rect x="2000.0" y="2310.0" width="40.6" height="40.6" fill="#0c5feb"/>
<rect x="2040.0" y="2310.0" width="40.6" height="40.6" fill="#0c5feb"/>
<rect x="2080.0" y="2310.0" width="40.6" height="40.6" fill="#0c5feb"/>
<rect x="2120.0" y="2310.0" width="40.6" height="40.6" fill="#0c5feb"/>
<rect x="2160.0" y="2310.0" width="40.6" height="40.6" fill="#0c5feb"/>
<rect x="2200.0" y="2310.0" width="40.6" height="40.6" fill="#0c5feb"/>
<rect x="1480.0" y="2350.0" width="40.6" height="40.6" fill="#78f078"/>
<rect x="1520.0" y="2350.0" width="40.6" height="40.6" fill="#78f078"/>
<rect x="1560.0" y="2350.0" width="40.6" height="40.6" fill="#78f078"/>
<rect x="1600.0" y="2350.0" width="40.6" height="40.6" fill="#78f078"/>
<rect x="1640.0" y="2350.0" width="40.6" height="40.6" fill="#ff5000"/>
<rect x="1680.0" y="2350.0" width="40.6" height="40.6" fill="#78f078"/>
<rect x="1720.0" y="2350.0" width="40.6" height="40.6" fill="#78f078"/>
<rect x="1760.0" y="2350.0" width="40.6" height="40.6" fill="#0c5feb"/>
<rect x="1800.0" y="2350.0" width="40.6" height="40.6" fill="#0c5feb"/>
<rect x="1840.0" y="2350.0" width="40.6" height="40.6" fill="#0c5feb"/>
<rect x="1880.0" y="2350.0" width="40.6" height="40.6" fill="#0c5feb"/>
<rect x="1920.0" y="2350.0" width="40.6" height="40.6" fill="#0c5feb"/>
<rect x="1960.0" y="2350.0" width="40.6" height="40.6" fill="#0c5feb"/>
<rect x="2000.0" y="2350.0" width="40.6" height="40.6" fill="#0c5feb"/>
<rect x="2040.0" y="2350.0" width="40.6" height="40.6" fill="#0c5feb"/>
<rect x="2080.0" y="2350.0" width="40.6" height="40.6" fill="#0c5feb"/>
<rect x="2120.0" y="2350.0" width="40.6" height="40.6" fill="#0c5feb"/>
<rect x="2160.0" y="2350.0" width="40.6" height="40.6" fill="#0c5feb"/>
<rect x="2200.0" y="2350.0" width="40.6" height="40.6" fill="#0c5feb"/>
<rect x="1480.0" y="2390.0" width="40.6" height="40.6" fill="#78f078"/>
<rect x="1520.0" y="2390.0" width="40.6" height="40.6" fill="#78f078"/>
<rect x="1560.0" y="2390.0" width="40.6" height="40.6" fill="#78f078"/>
<rect x="1600.0" y="2390.0" width="40.6" height="40.6" fill="#78f078"/>
<rect x="1640.0" y="2390.0" width="40.6" height="40.6" fill="#ff8c00"/>
<rect x="1680.0" y="2390.0" width="40.6" height="40.6" fill="#00e4f0"/>
<rect x="1720.0" y="2390.0" width="40.6" height="40.6" fill="#00b4f5"/>
<rect x="1760.0" y="2390.0" width="40.6" height="40.6" fill="#0c5feb"/>
<rect x="1800.0" y="2390.0" width="40.6" height="40.6" fill="#0c5feb"/>
<rect x="1840.0" y="2390.0" width="40.6" height="40.6" fill="#0c5feb"/>
<rect x="1880.0" y="2390.0" width="40.6" height="40.6" fill="#0c5feb"/>
<rect x="1920.0" y="2390.0" width="40.6" height="40.6" fill="#0c5feb"/>
<rect x="1960.0" y="2390.0" width="40.6" height="40.6" fill="#0c5feb"/>
<rect x="2000.0" y="2390.0" width="40.6" height="40.6" fill="#0c5feb"/>
<rect x="2040.0" y="2390.0" width="40.6" height="40.6" fill="#0c5feb"/>
<rect x="2080.0" y="2390.0" width="40.6" height="40.6" fill="#ff8c00"/>
<rect x="2120.0" y="2390.0" width="40.6" height="40.6" fill="#ff8c00"/>
<rect x="2160.0" y="2390.0" width="40.6" height="40.6" fill="#ff8c00"/>
<rect x="2200.0" y="2390.0" width="40.6" height="40.6" fill="#ff8c00"/>
<rect x="1480.0" y="2430.0" width="40.6" height="40.6" fill="#fafa00"/>
<rect x="1520.0" y="2430.0" width="40.6" height="40.6" fill="#fafa00"/>
<rect x="1560.0" y="2430.0" width="40.6" height="40.6" fill="#fafa00"/>
<rect x="1600.0" y="2430.0" width="40.6" height="40.6" fill="#fafa00"/>
<rect x="1640.0" y="2430.0" width="40.6" height="40.6" fill="#ffd700"/>
<rect x="1680.0" y="2430.0" width="40.6" height="40.6" fill="#2de6c8"/>
<rect x="1720.0" y="2430.0" width="40.6" height="40.6" fill="#0c5feb"/>
<rect x="1760.0" y="2430.0" width="40.6" height="40.6" fill="#0c5feb"/>
<rect x="1800.0" y="2430.0" width="40.6" height="40.6" fill="#befa32"/>
<rect x="1840.0" y="2430.0" width="40.6" height="40.6" fill="#befa32"/>
<rect x="1880.0" y="2430.0" width="40.6" height="40.6" fill="#ff8c00"/>
<rect x="1920.0" y="2430.0" width="40.6" height="40.6" fill="#ffd700"/>
<rect x="1960.0" y="2430.0" width="40.6" height="40.6" fill="#befa32"/>
<rect x="2000.0" y="2430.0" width="40.6" height="40.6" fill="#0c5feb"/>
<rect x="2040.0" y="2430.0" width="40.6" height="40.6" fill="#0c5feb"/>
<rect x="2080.0" y="2430.0" width="40.6" height="40.6" fill="#ffd700"/>
<rect x="2120.0" y="2430.0" width="40.6" height="40.6" fill="#0c5feb"/>
<rect x="2160.0" y="2430.0" width="40.6" height="40.6" fill="#0c5feb"/>
<rect x="2200.0" y="2430.0" width="40.6" height="40.6" fill="#0c5feb"/>
<rect x="1480.0" y="2470.0" width="40.6" height="40.6" fill="#fafa00"/>
<rect x="1520.0" y="2470.0" width="40.6" height="40.6" fill="#fafa00"/>
<rect x="1560.0" y="2470.0" width="40.6" height="40.6" fill="#fafa00"/>
<rect x="1600.0" y="2470.0" width="40.6" height="40.6" fill="#fafa00"/>
<rect x="1640.0" y="2470.0" width="40.6" height="40.6" fill="#fafa00"/>
<rect x="1680.0" y="2470.0" width="40.6" height="40.6" fill="#2de6c8"/>
<rect x="1720.0" y="2470.0" width="40.6" height="40.6" fill="#fafa00"/>
<rect x="1760.0" y="2470.0" width="40.6" height="40.6" fill="#0c5feb"/>
<rect x="1800.0" y="2470.0" width="40.6" height="40.6" fill="#0c5feb"/>
<rect x="1840.0" y="2470.0" width="40.6" height="40.6" fill="#2de6c8"/>
<rect x="1880.0" y="2470.0" width="40.6" height="40.6" fill="#fafa00"/>
<rect x="1920.0" y="2470.0" width="40.6" height="40.6" fill="#ffd700"/>
<rect x="1960.0" y="2470.0" width="40.6" height="40.6" fill="#ff8c00"/>
<rect x="2000.0" y="2470.0" width="40.6" height="40.6" fill="#befa32"/>
<rect x="2040.0" y="2470.0" width="40.6" height="40.6" fill="#befa32"/>
<rect x="2080.0" y="2470.0" width="40.6" height="40.6" fill="#0c5feb"/>
<rect x="2120.0" y="2470.0" width="40.6" height="40.6" fill="#0c5feb"/>
<rect x="2160.0" y="2470.0" width="40.6" height="40.6" fill="#0c5feb"/>
<rect x="2200.0" y="2470.0" width="40.6" height="40.6" fill="#0c5feb"/>
<rect x="1480.0" y="2510.0" width="40.6" height="40.6" fill="#fafa00"/>
<rect x="1520.0" y="2510.0" width="40.6" height="40.6" fill="#fafa00"/>
<rect x="1560.0" y="2510.0" width="40.6" height="40.6" fill="#fafa00"/>
<rect x="1600.0" y="2510.0" width="40.6" height="40.6" fill="#fafa00"/>
<rect x="1640.0" y="2510.0" width="40.6" height="40.6" fill="#78f078"/>
<rect x="1680.0" y="2510.0" width="40.6" height="40.6" fill="#ff8c00"/>
<rect x="1720.0" y="2510.0" width="40.6" height="40.6" fill="#fafa00"/>
<rect x="1760.0" y="2510.0" width="40.6" height="40.6" fill="#0c5feb"/>
<rect x="1800.0" y="2510.0" width="40.6" height="40.6" fill="#0c5feb"/>
<rect x="1840.0" y="2510.0" width="40.6" height="40.6" fill="#0c5feb"/>
<rect x="1880.0" y="2510.0" width="40.6" height="40.6" fill="#befa32"/>
<rect x="1920.0" y="2510.0" width="40.6" height="40.6" fill="#befa32"/>
<rect x="1960.0" y="2510.0" width="40.6" height="40.6" fill="#ffd700"/>
<rect x="2000.0" y="2510.0" width="40.6" height="40.6" fill="#78f078"/>
<rect x="2040.0" y="2510.0" width="40.6" height="40.6" fill="#2de6c8"/>
<rect x="2080.0" y="2510.0" width="40.6" height="40.6" fill="#0c5feb"/>
<rect x="2120.0" y="2510.0" width="40.6" height="40.6" fill="#0c5feb"/>
<rect x="2160.0" y="2510.0" width="40.6" height="40.6" fill="#0c5feb"/>
<rect x="2200.0" y="2510.0" width="40.6" height="40.6" fill="#0c5feb"/>
<rect x="1480.0" y="2550.0" width="40.6" height="40.6" fill="#fafa00"/>
<rect x="1520.0" y="2550.0" width="40.6" height="40.6" fill="#fafa00"/>
<rect x="1560.0" y="2550.0" width="40.6" height="40.6" fill="#fafa00"/>
<rect x="1600.0" y="2550.0" width="40.6" height="40.6" fill="#fafa00"/>
<rect x="1640.0" y="2550.0" width="40.6" height="40.6" fill="#fafa00"/>
<rect x="1680.0" y="2550.0" width="40.6" height="40.6" fill="#ffd700"/>
<rect x="1720.0" y="2550.0" width="40.6" height="40.6" fill="#78f078"/>
<rect x="1760.0" y="2550.0" width="40.6" height="40.6" fill="#0c5feb"/>
<rect x="1800.0" y="2550.0" width="40.6" height="40.6" fill="#0c5feb"/>
<rect x="1840.0" y="2550.0" width="40.6" height="40.6" fill="#0c5feb"/>
<rect x="1880.0" y="2550.0" width="40.6" height="40.6" fill="#2de6c8"/>
<rect x="1920.0" y="2550.0" width="40.6" height="40.6" fill="#2de6c8"/>
<rect x="1960.0" y="2550.0" width="40.6" height="40.6" fill="#78f078"/>
<rect x="2000.0" y="2550.0" width="40.6" height="40.6" fill="#2de6c8"/>
<rect x="2040.0" y="2550.0" width="40.6" height="40.6" fill="#0c5feb"/>
<rect x="2080.0" y="2550.0" width="40.6" height="40.6" fill="#0c5feb"/>
<rect x="2120.0" y="2550.0" width="40.6" height="40.6" fill="#0c5feb"/>
<rect x="2160.0" y="2550.0" width="40.6" height="40.6" fill="#0c5feb"/>
<rect x="2200.0" y="2550.0" width="40.6" height="40.6" fill="#0c5feb"/>
<rect x="1480.0" y="2590.0" width="40.6" height="40.6" fill="#78f078"/>
<rect x="1520.0" y="2590.0" width="40.6" height="40.6" fill="#78f078"/>
<rect x="1560.0" y="2590.0" width="40.6" height="40.6" fill="#78f078"/>
<rect x="1600.0" y="2590.0" width="40.6" height="40.6" fill="#befa32"/>
<rect x="1640.0" y="2590.0" width="40.6" height="40.6" fill="#fafa00"/>
<rect x="1680.0" y="2590.0" width="40.6" height="40.6" fill="#fafa00"/>
<rect x="1720.0" y="2590.0" width="40.6" height="40.6" fill="#2de6c8"/>
<rect x="1760.0" y="2590.0" width="40.6" height="40.6" fill="#0c5feb"/>
<rect x="1800.0" y="2590.0" width="40.6" height="40.6" fill="#0c5feb"/>
<rect x="1840.0" y="2590.0" width="40.6" height="40.6" fill="#0c5feb"/>
<rect x="1880.0" y="2590.0" width="40.6" height="40.6" fill="#2de6c8"/>
<rect x="1920.0" y="2590.0" width="40.6" height="40.6" fill="#2de6c8"/>
<rect x="1960.0" y="2590.0" width="40.6" height="40.6" fill="#2de6c8"/>
<rect x="2000.0" y="2590.0" width="40.6" height="40.6" fill="#78f078"/>
<rect x="2040.0" y="2590.0" width="40.6" height="40.6" fill="#0c5feb"/>
<rect x="2080.0" y="2590.0" width="40.6" height="40.6" fill="#0c5feb"/>
<rect x="2120.0" y="2590.0" width="40.6" height="40.6" fill="#0c5feb"/>
<rect x="2160.0" y="2590.0" width="40.6" height="40.6" fill="#0c5feb"/>
<rect x="2200.0" y="2590.0" width="40.6" height="40.6" fill="#0c5feb"/>
<rect x="1480.0" y="2630.0" width="40.6" height="40.6" fill="#78f078"/>
<rect x="1520.0" y="2630.0" width="40.6" height="40.6" fill="#78f078"/>
<rect x="1560.0" y="2630.0" width="40.6" height="40.6" fill="#78f078"/>
<rect x="1600.0" y="2630.0" width="40.6" height="40.6" fill="#befa32"/>
<rect x="1640.0" y="2630.0" width="40.6" height="40.6" fill="#befa32"/>
<rect x="1680.0" y="2630.0" width="40.6" height="40.6" fill="#78f078"/>
<rect x="1720.0" y="2630.0" width="40.6" height="40.6" fill="#78f078"/>
<rect x="1760.0" y="2630.0" width="40.6" height="40.6" fill="#78f078"/>
<rect x="1800.0" y="2630.0" width="40.6" height="40.6" fill="#2de6c8"/>
<rect x="1840.0" y="2630.0" width="40.6" height="40.6" fill="#0c5feb"/>
<rect x="1880.0" y="2630.0" width="40.6" height="40.6" fill="#2de6c8"/>
<rect x="1920.0" y="2630.0" width="40.6" height="40.6" fill="#0c5feb"/>
<rect x="1960.0" y="2630.0" width="40.6" height="40.6" fill="#2de6c8"/>
<rect x="2000.0" y="2630.0" width="40.6" height="40.6" fill="#0c5feb"/>
<rect x="2040.0" y="2630.0" width="40.6" height="40.6" fill="#0c5feb"/>
<rect x="2080.0" y="2630.0" width="40.6" height="40.6" fill="#0c5feb"/>
<rect x="2120.0" y="2630.0" width="40.6" height="40.6" fill="#0c5feb"/>
<rect x="2160.0" y="2630.0" width="40.6" height="40.6" fill="#0c5feb"/>
<rect x="2200.0" y="2630.0" width="40.6" height="40.6" fill="#0c5feb"/>
<rect x="1480.0" y="2670.0" width="40.6" height="40.6" fill="#00e4f0"/>
<rect x="1520.0" y="2670.0" width="40.6" height="40.6" fill="#00e4f0"/>
<rect x="1560.0" y="2670.0" width="40.6" height="40.6" fill="#00e4f0"/>
<rect x="1600.0" y="2670.0" width="40.6" height="40.6" fill="#2de6c8"/>
<rect x="1640.0" y="2670.0" width="40.6" height="40.6" fill="#2de6c8"/>
<rect x="1680.0" y="2670.0" width="40.6" height="40.6" fill="#0c5feb"/>
<rect x="1720.0" y="2670.0" width="40.6" height="40.6" fill="#0c5feb"/>
<rect x="1760.0" y="2670.0" width="40.6" height="40.6" fill="#0c5feb"/>
<rect x="1800.0" y="2670.0" width="40.6" height="40.6" fill="#2de6c8"/>
<rect x="1840.0" y="2670.0" width="40.6" height="40.6" fill="#0c5feb"/>
<rect x="1880.0" y="2670.0" width="40.6" height="40.6" fill="#0c5feb"/>
<rect x="1920.0" y="2670.0" width="40.6" height="40.6" fill="#0c5feb"/>
<rect x="1960.0" y="2670.0" width="40.6" height="40.6" fill="#0c5feb"/>
<rect x="2000.0" y="2670.0" width="40.6" height="40.6" fill="#0c5feb"/>
<rect x="2040.0" y="2670.0" width="40.6" height="40.6" fill="#0c5feb"/>
<rect x="2080.0" y="2670.0" width="40.6" height="40.6" fill="#0c5feb"/>
<rect x="2120.0" y="2670.0" width="40.6" height="40.6" fill="#0c5feb"/>
<rect x="2160.0" y="2670.0" width="40.6" height="40.6" fill="#0c5feb"/>
<rect x="2200.0" y="2670.0" width="40.6" height="40.6" fill="#0c5feb"/>
<rect x="1480.0" y="2710.0" width="40.6" height="40.6" fill="#2de6c8"/>
<rect x="1520.0" y="2710.0" width="40.6" height="40.6" fill="#2de6c8"/>
<rect x="1560.0" y="2710.0" width="40.6" height="40.6" fill="#2de6c8"/>
<rect x="1600.0" y="2710.0" width="40.6" height="40.6" fill="#2de6c8"/>
<rect x="1640.0" y="2710.0" width="40.6" height="40.6" fill="#0c5feb"/>
<rect x="1680.0" y="2710.0" width="40.6" height="40.6" fill="#0c5feb"/>
<rect x="1720.0" y="2710.0" width="40.6" height="40.6" fill="#0c5feb"/>
<rect x="1760.0" y="2710.0" width="40.6" height="40.6" fill="#0c5feb"/>
<rect x="1800.0" y="2710.0" width="40.6" height="40.6" fill="#0c5feb"/>
<rect x="1840.0" y="2710.0" width="40.6" height="40.6" fill="#0c5feb"/>
<rect x="1880.0" y="2710.0" width="40.6" height="40.6" fill="#0c5feb"/>
<rect x="1920.0" y="2710.0" width="40.6" height="40.6" fill="#0c5feb"/>
<rect x="1960.0" y="2710.0" width="40.6" height="40.6" fill="#0c5feb"/>
<rect x="2000.0" y="2710.0" width="40.6" height="40.6" fill="#0c5feb"/>
<rect x="2040.0" y="2710.0" width="40.6" height="40.6" fill="#0c5feb"/>
<rect x="2080.0" y="2710.0" width="40.6" height="40.6" fill="#0c5feb"/>
<rect x="2120.0" y="2710.0" width="40.6" height="40.6" fill="#0c5feb"/>
<rect x="2160.0" y="2710.0" width="40.6" height="40.6" fill="#0c5feb"/>
<rect x="2200.0" y="2710.0" width="40.6" height="40.6" fill="#0c5feb"/>
<rect x="1480.0" y="2750.0" width="40.6" height="40.6" fill="#2de6c8"/>
<rect x="1520.0" y="2750.0" width="40.6" height="40.6" fill="#2de6c8"/>
<rect x="1560.0" y="2750.0" width="40.6" height="40.6" fill="#2de6c8"/>
<rect x="1600.0" y="2750.0" width="40.6" height="40.6" fill="#2de6c8"/>
<rect x="1640.0" y="2750.0" width="40.6" height="40.6" fill="#0c5feb"/>
<rect x="1680.0" y="2750.0" width="40.6" height="40.6" fill="#0c5feb"/>
<rect x="1720.0" y="2750.0" width="40.6" height="40.6" fill="#0c5feb"/>
<rect x="1760.0" y="2750.0" width="40.6" height="40.6" fill="#0c5feb"/>
<rect x="1800.0" y="2750.0" width="40.6" height="40.6" fill="#0c5feb"/>
<rect x="1840.0" y="2750.0" width="40.6" height="40.6" fill="#0c5feb"/>
<rect x="1880.0" y="2750.0" width="40.6" height="40.6" fill="#0c5feb"/>
<rect x="1920.0" y="2750.0" width="40.6" height="40.6" fill="#0c5feb"/>
<rect x="1960.0" y="2750.0" width="40.6" height="40.6" fill="#0c5feb"/>
<rect x="2000.0" y="2750.0" width="40.6" height="40.6" fill="#0c5feb"/>
<rect x="2040.0" y="2750.0" width="40.6" height="40.6" fill="#0c5feb"/>
<rect x="2080.0" y="2750.0" width="40.6" height="40.6" fill="#0c5feb"/>
<rect x="2120.0" y="2750.0" width="40.6" height="40.6" fill="#0c5feb"/>
<rect x="2160.0" y="2750.0" width="40.6" height="40.6" fill="#0c5feb"/>
<rect x="2200.0" y="2750.0" width="40.6" height="40.6" fill="#0c5feb"/>
<rect x="1480.0" y="2790.0" width="40.6" height="40.6" fill="#2de6c8"/>
<rect x="1520.0" y="2790.0" width="40.6" height="40.6" fill="#2de6c8"/>
<rect x="1560.0" y="2790.0" width="40.6" height="40.6" fill="#2de6c8"/>
<rect x="1600.0" y="2790.0" width="40.6" height="40.6" fill="#2de6c8"/>
<rect x="1640.0" y="2790.0" width="40.6" height="40.6" fill="#0c5feb"/>
<rect x="1680.0" y="2790.0" width="40.6" height="40.6" fill="#0c5feb"/>
<rect x="1720.0" y="2790.0" width="40.6" height="40.6" fill="#0c5feb"/>
<rect x="1760.0" y="2790.0" width="40.6" height="40.6" fill="#0c5feb"/>
<rect x="1800.0" y="2790.0" width="40.6" height="40.6" fill="#0c5feb"/>
<rect x="1840.0" y="2790.0" width="40.6" height="40.6" fill="#0c5feb"/>
<rect x="1880.0" y="2790.0" width="40.6" height="40.6" fill="#0c5feb"/>
<rect x="1920.0" y="2790.0" width="40.6" height="40.6" fill="#0c5feb"/>
<rect x="1960.0" y="2790.0" width="40.6" height="40.6" fill="#0c5feb"/>
<rect x="2000.0" y="2790.0" width="40.6" height="40.6" fill="#0c5feb"/>
<rect x="2040.0" y="2790.0" width="40.6" height="40.6" fill="#0c5feb"/>
<rect x="2080.0" y="2790.0" width="40.6" height="40.6" fill="#0c5feb"/>
<rect x="2120.0" y="2790.0" width="40.6" height="40.6" fill="#0c5feb"/>
<rect x="2160.0" y="2790.0" width="40.6" height="40.6" fill="#0c5feb"/>
<rect x="2200.0" y="2790.0" width="40.6" height="40.6" fill="#0c5feb"/>
</g></g>
<polygon points="1870.0,2530.0 1895.0,2528.0 1915.0,2545.0 1921.0,2570.0 1912.0,2595.0 1890.0,2597.0 1875.0,2580.0 1866.0,2555.0" fill="#fff" filter="url(#soft)"/>
<polygon points="1990.0,2560.0 2020.0,2547.0 2060.0,2550.0 2070.0,2565.0 2058.0,2600.0 2035.0,2615.0 2005.0,2630.0 1988.0,2620.0 1985.0,2590.0" fill="#fff" filter="url(#soft)"/>
<polygon points="1920.0,2640.0 1950.0,2635.0 1966.0,2650.0 1960.0,2672.0 1935.0,2678.0 1915.0,2665.0" fill="#fff" filter="url(#soft)"/>
<polygon points="2053.0,2507.0 2080.0,2503.0 2110.0,2512.0 2085.0,2520.0 2055.0,2519.0" fill="#fff" filter="url(#soft)"/>
<polygon points="1815.0,2510.0 1840.0,2505.0 1860.0,2512.0 1840.0,2522.0 1818.0,2522.0" fill="#fff" filter="url(#soft)"/>
<polygon points="1671.0,2497.0 1690.0,2494.0 1696.0,2510.0 1680.0,2516.0" fill="#fff" filter="url(#soft)"/>
<polygon points="1722.0,2563.0 1733.0,2562.0 1734.0,2575.0 1723.0,2575.0" fill="#fff" filter="url(#soft)"/>
<rect x="195.5" y="1580" width="608.5" height="578.5" fill="none" stroke="#111" stroke-width="2"/>
<line x1="179.5" y1="2097.3" x2="195.5" y2="2097.3" stroke="#111" stroke-width="2"/>
<text x="0" y="0" font-size="28.0" text-anchor="middle" fill="#222" transform="translate(157.0,2097.3) rotate(-90)">20</text>
<line x1="179.5" y1="2018.2" x2="195.5" y2="2018.2" stroke="#111" stroke-width="2"/>
<text x="0" y="0" font-size="28.0" text-anchor="middle" fill="#222" transform="translate(157.0,2018.2) rotate(-90)">22</text>
<line x1="179.5" y1="1939.2" x2="195.5" y2="1939.2" stroke="#111" stroke-width="2"/>
<text x="0" y="0" font-size="28.0" text-anchor="middle" fill="#222" transform="translate(157.0,1939.2) rotate(-90)">24</text>
<line x1="179.5" y1="1860.1" x2="195.5" y2="1860.1" stroke="#111" stroke-width="2"/>
<text x="0" y="0" font-size="28.0" text-anchor="middle" fill="#222" transform="translate(157.0,1860.1) rotate(-90)">26</text>
<line x1="179.5" y1="1781.1" x2="195.5" y2="1781.1" stroke="#111" stroke-width="2"/>
<text x="0" y="0" font-size="28.0" text-anchor="middle" fill="#222" transform="translate(157.0,1781.1) rotate(-90)">28</text>
<line x1="179.5" y1="1702.0" x2="195.5" y2="1702.0" stroke="#111" stroke-width="2"/>
<text x="0" y="0" font-size="28.0" text-anchor="middle" fill="#222" transform="translate(157.0,1702.0) rotate(-90)">30</text>
<line x1="179.5" y1="1622.9" x2="195.5" y2="1622.9" stroke="#111" stroke-width="2"/>
<text x="0" y="0" font-size="28.0" text-anchor="middle" fill="#222" transform="translate(157.0,1622.9) rotate(-90)">32</text>
<line x1="218.0" y1="2158.5" x2="218.0" y2="2176" stroke="#111" stroke-width="2"/>
<text x="218.0" y="2221.7" font-size="28.0" text-anchor="middle" fill="#222" >0</text>
<line x1="332.4" y1="2158.5" x2="332.4" y2="2176" stroke="#111" stroke-width="2"/>
<text x="332.4" y="2221.7" font-size="28.0" text-anchor="middle" fill="#222" >10</text>
<line x1="446.8" y1="2158.5" x2="446.8" y2="2176" stroke="#111" stroke-width="2"/>
<text x="446.8" y="2221.7" font-size="28.0" text-anchor="middle" fill="#222" >20</text>
<line x1="561.2" y1="2158.5" x2="561.2" y2="2176" stroke="#111" stroke-width="2"/>
<text x="561.2" y="2221.7" font-size="28.0" text-anchor="middle" fill="#222" >30</text>
<line x1="675.6" y1="2158.5" x2="675.6" y2="2176" stroke="#111" stroke-width="2"/>
<text x="675.6" y="2221.7" font-size="28.0" text-anchor="middle" fill="#222" >40</text>
<line x1="790.0" y1="2158.5" x2="790.0" y2="2176" stroke="#111" stroke-width="2"/>
<text x="790.0" y="2221.7" font-size="28.0" text-anchor="middle" fill="#222" >50</text>
<text x="322.0" y="2292.0" font-size="56.5" text-anchor="start" fill="#000" >Distance (m)</text>
<text x="0" y="0" font-size="57.5" text-anchor="middle" fill="#000" transform="translate(95.8,1879.0) rotate(-90)">Elevation (m)</text>
<text x="541.0" y="1648.0" font-size="62.0" text-anchor="start" fill="#000" >(c)</text>
<circle cx="268" cy="1831.6" r="15.5" fill="none" stroke="#f00" stroke-width="3.6"/>
<text x="312.0" y="1845.7" font-size="57.5" text-anchor="start" fill="#000" >DTM</text>
<circle cx="268" cy="1931.3" r="17.3" fill="#000"/>
<text x="312.0" y="1952.0" font-size="57.5" text-anchor="start" fill="#000" >Point cloud</text>
<polyline points="219.7,2132.0 228.3,2130.1 239.7,2127.6 253.2,2124.6 268.3,2121.3 284.3,2117.7 300.6,2114.0 316.5,2110.2 331.4,2106.5 345.7,2102.8 360.0,2098.9 374.5,2094.9 388.9,2090.8 403.5,2086.6 418.0,2082.4 432.5,2078.2 447.0,2074.1 461.9,2069.9 477.4,2065.4 493.1,2060.9 508.7,2056.4 523.8,2052.0 538.1,2047.9 551.2,2044.2 562.7,2041.0 572.4,2038.3 580.5,2036.0 587.4,2034.1 593.5,2032.5 599.1,2031.0 604.6,2029.7 610.3,2028.4 616.6,2027.1 623.3,2025.8 630.1,2024.6 636.8,2023.6 643.6,2022.6 650.4,2021.7 657.1,2020.9 663.9,2020.1 670.6,2019.4 677.3,2018.7 684.0,2018.2 690.7,2017.7 697.5,2017.3 704.2,2016.9 710.9,2016.5 717.7,2016.1 724.5,2015.6 731.7,2015.1 739.6,2014.5 747.6,2014.0 755.6,2013.4 763.2,2012.9 770.0,2012.4 775.7,2012.0 780.0,2011.7" fill="none" stroke="#f21" stroke-width="17" stroke-linecap="round" stroke-linejoin="round"/>
<polyline points="219.7,2132.0 228.3,2130.1 239.7,2127.6 253.2,2124.6 268.3,2121.3 284.3,2117.7 300.6,2114.0 316.5,2110.2 331.4,2106.5 345.7,2102.8 360.0,2098.9 374.5,2094.9 388.9,2090.8 403.5,2086.6 418.0,2082.4 432.5,2078.2 447.0,2074.1 461.9,2069.9 477.4,2065.4 493.1,2060.9 508.7,2056.4 523.8,2052.0 538.1,2047.9 551.2,2044.2 562.7,2041.0 572.4,2038.3 580.5,2036.0 587.4,2034.1 593.5,2032.5 599.1,2031.0 604.6,2029.7 610.3,2028.4 616.6,2027.1 623.3,2025.8 630.1,2024.6 636.8,2023.6 643.6,2022.6 650.4,2021.7 657.1,2020.9 663.9,2020.1 670.6,2019.4 677.3,2018.7 684.0,2018.2 690.7,2017.7 697.5,2017.3 704.2,2016.9 710.9,2016.5 717.7,2016.1 724.5,2015.6 731.7,2015.1 739.6,2014.5 747.6,2014.0 755.6,2013.4 763.2,2012.9 770.0,2012.4 775.7,2012.0 780.0,2011.7" fill="none" stroke="#fbb" stroke-width="1.6" stroke-dasharray="1.5 4" opacity="0.8"/>
<polyline points="215.4,1633.1 223.4,1639.7 229.2,1646.4 236.7,1637.1 244.7,1623.8 250.0,1615.8 258.0,1617.1 264.6,1622.5 271.2,1615.8 279.2,1610.5 284.5,1613.2 289.8,1621.1 296.5,1631.8 303.1,1642.4 308.4,1653.0 312.4,1666.3 316.4,1679.6 319.1,1683.6 321.7,1671.6 327.0,1661.0 335.0,1653.0 343.0,1658.3 351.0,1666.3 359.0,1647.7 364.3,1642.4 372.2,1650.4 380.2,1658.3 388.2,1665.0 396.1,1671.6 401.5,1682.3 406.8,1695.5 412.1,1711.5 417.4,1698.2 420.0,1684.9 428.0,1669.0 436.0,1653.0 440.0,1645.0 450.6,1663.7 461.3,1677.0 471.9,1682.3 479.9,1679.6 495.8,1677.0 503.8,1690.2 509.1,1703.5 514.4,1719.5 519.7,1735.4 525.0,1746.0 535.7,1747.4 551.6,1751.4 567.6,1756.7 580.9,1764.7 590.2,1772.6 594.2,1762.0" fill="none" stroke="#000" stroke-width="12" stroke-linecap="round" stroke-linejoin="round"/>
<polyline points="595.5,1743.4 599.5,1727.4 607.4,1711.5 614.1,1699.5 623.4,1716.8 634.0,1711.5 644.7,1716.8 650.0,1703.5 655.3,1684.9 658.0,1681.0" fill="none" stroke="#000" stroke-width="12" stroke-linecap="round" stroke-linejoin="round"/>
<polyline points="740.3,1626.4 748.3,1618.5 758.9,1609.2 772.2,1611.8 782.9,1606.5" fill="none" stroke="#000" stroke-width="12" stroke-linecap="round" stroke-linejoin="round"/>
<circle cx="524.5" cy="1763.3" r="6" fill="#000"/>
<circle cx="660.6" cy="1704.9" r="6" fill="#000"/>
<circle cx="664.6" cy="1722.1" r="6" fill="#000"/>
<circle cx="665.9" cy="1742.0" r="6" fill="#000"/>
<circle cx="669.9" cy="1756.7" r="6" fill="#000"/>
<circle cx="671.2" cy="1770.0" r="6" fill="#000"/>
<circle cx="675.2" cy="1791.2" r="6" fill="#000"/>
<circle cx="679.2" cy="1809.8" r="6" fill="#000"/>
<circle cx="685.8" cy="1813.8" r="6" fill="#000"/>
<circle cx="682.0" cy="1805.0" r="6" fill="#000"/>
<circle cx="691.2" cy="1799.2" r="6" fill="#000"/>
<circle cx="693.8" cy="1778.0" r="6" fill="#000"/>
<circle cx="696.5" cy="1758.0" r="6" fill="#000"/>
<circle cx="699.1" cy="1740.7" r="6" fill="#000"/>
<circle cx="701.8" cy="1724.8" r="6" fill="#000"/>
<circle cx="704.5" cy="1710.2" r="6" fill="#000"/>
<circle cx="705.8" cy="1694.2" r="6" fill="#000"/>
<circle cx="708.4" cy="1683.6" r="6" fill="#000"/>
<circle cx="711.6" cy="1670.3" r="6" fill="#000"/>
<circle cx="716.4" cy="1706.2" r="6" fill="#000"/>
<circle cx="717.7" cy="1835.1" r="6" fill="#000"/>
<circle cx="739.0" cy="1827.1" r="6" fill="#000"/>
<circle cx="728.4" cy="1848.4" r="6" fill="#000"/>
<circle cx="733.7" cy="1847.0" r="6" fill="#000"/>
<circle cx="724.4" cy="1898.9" r="6" fill="#000"/>
<circle cx="729.7" cy="1916.1" r="6" fill="#000"/>
<circle cx="735.0" cy="1912.2" r="6" fill="#000"/>
<circle cx="721.7" cy="1954.7" r="6" fill="#000"/>
<circle cx="723.0" cy="1992.4" r="6" fill="#000"/>
<circle cx="740.3" cy="1677.0" r="6" fill="#000"/>
<rect x="1414" y="1578" width="612.7" height="598.2" fill="none" stroke="#111" stroke-width="2"/>
<line x1="1398" y1="2078.8" x2="1414" y2="2078.8" stroke="#111" stroke-width="2"/>
<text x="0" y="0" font-size="28.0" text-anchor="middle" fill="#222" transform="translate(1376.0,2078.8) rotate(-90)">40</text>
<line x1="1398" y1="1932.0" x2="1414" y2="1932.0" stroke="#111" stroke-width="2"/>
<text x="0" y="0" font-size="28.0" text-anchor="middle" fill="#222" transform="translate(1376.0,1932.0) rotate(-90)">42</text>
<line x1="1398" y1="1785.2" x2="1414" y2="1785.2" stroke="#111" stroke-width="2"/>
<text x="0" y="0" font-size="28.0" text-anchor="middle" fill="#222" transform="translate(1376.0,1785.2) rotate(-90)">44</text>
<line x1="1398" y1="1638.4" x2="1414" y2="1638.4" stroke="#111" stroke-width="2"/>
<text x="0" y="0" font-size="28.0" text-anchor="middle" fill="#222" transform="translate(1376.0,1638.4) rotate(-90)">46</text>
<line x1="1436.1" y1="2176.2" x2="1436.1" y2="2194.3" stroke="#111" stroke-width="2"/>
<text x="1436.1" y="2241.6" font-size="28.0" text-anchor="middle" fill="#222" >0</text>
<line x1="1557.8" y1="2176.2" x2="1557.8" y2="2194.3" stroke="#111" stroke-width="2"/>
<text x="1557.8" y="2241.6" font-size="28.0" text-anchor="middle" fill="#222" >10</text>
<line x1="1679.5" y1="2176.2" x2="1679.5" y2="2194.3" stroke="#111" stroke-width="2"/>
<text x="1679.5" y="2241.6" font-size="28.0" text-anchor="middle" fill="#222" >20</text>
<line x1="1801.2" y1="2176.2" x2="1801.2" y2="2194.3" stroke="#111" stroke-width="2"/>
<text x="1801.2" y="2241.6" font-size="28.0" text-anchor="middle" fill="#222" >30</text>
<line x1="1922.9" y1="2176.2" x2="1922.9" y2="2194.3" stroke="#111" stroke-width="2"/>
<text x="1922.9" y="2241.6" font-size="28.0" text-anchor="middle" fill="#222" >40</text>
<text x="1577.0" y="2301.0" font-size="56.5" text-anchor="start" fill="#000" >Distance (m)</text>
<text x="0" y="0" font-size="57.5" text-anchor="middle" fill="#000" transform="translate(1323.4,1875.0) rotate(-90)">Elevation (m)</text>
<text x="1441.0" y="1648.0" font-size="63.0" text-anchor="start" fill="#000" >(h)</text>
<polyline points="1435.5,2137.3 1436.8,2138.1 1438.6,2139.2 1440.7,2140.4 1443.0,2141.9 1445.5,2143.3 1448.1,2144.8 1450.6,2146.2 1453.1,2147.5 1455.5,2148.8 1458.0,2150.1 1460.4,2151.5 1463.0,2152.8 1465.6,2154.0 1468.2,2155.1 1470.9,2155.8 1473.6,2156.3 1476.3,2156.4 1479.1,2156.3 1481.9,2155.9 1484.8,2155.4 1487.7,2154.7 1490.7,2153.8 1493.8,2152.9 1497.0,2151.9 1500.4,2150.8 1503.9,2149.6 1507.5,2148.2 1511.2,2146.7 1515.0,2145.1 1518.8,2143.5 1522.5,2141.9 1526.2,2140.2 1529.9,2138.6 1533.6,2136.9 1537.4,2135.2 1541.2,2133.4 1544.9,2131.6 1548.5,2129.7 1552.0,2127.7 1555.4,2125.6 1558.6,2123.2 1561.5,2120.4 1564.3,2117.5 1567.1,2114.5 1569.9,2111.6 1572.7,2109.0 1575.6,2106.8 1578.8,2105.1 1582.2,2104.0 1585.8,2103.3 1589.6,2102.9 1593.4,2102.8 1597.2,2103.0 1601.0,2103.2 1604.6,2103.5 1608.0,2103.7 1611.2,2104.1 1614.3,2104.9 1617.3,2105.9 1620.2,2106.9 1623.1,2107.8 1625.9,2108.4 1628.7,2108.5 1631.4,2108.0 1634.1,2106.6 1636.7,2104.4 1639.3,2101.7 1641.8,2098.7 1644.3,2095.6 1646.8,2092.9 1649.4,2090.6 1651.9,2089.0 1654.5,2088.2 1657.1,2087.9 1659.7,2088.0 1662.3,2088.4 1664.9,2088.9 1667.5,2089.5 1670.0,2090.1 1672.4,2090.5 1674.7,2090.8 1676.9,2091.1 1679.0,2091.5 1681.1,2091.9 1683.2,2092.3 1685.3,2092.6 1687.5,2093.0 1689.9,2093.4 1692.4,2093.9 1695.1,2094.6 1697.9,2095.4 1700.8,2096.1 1703.7,2096.7 1706.5,2097.0 1709.2,2096.9 1711.7,2096.3 1714.0,2095.1 1716.1,2093.3 1718.1,2091.1 1720.0,2088.6 1722.0,2086.0 1724.1,2083.4 1726.5,2081.0 1729.2,2078.8 1732.2,2076.8 1735.5,2074.7 1738.9,2072.7 1742.6,2070.8 1746.4,2068.9 1750.3,2067.2 1754.3,2065.6 1758.5,2064.2 1762.8,2063.0 1767.1,2062.0 1771.6,2061.2 1776.2,2060.4 1781.0,2059.8 1786.0,2059.3 1791.1,2058.8 1796.5,2058.3 1802.1,2057.9 1807.9,2057.6 1813.9,2057.3 1820.1,2057.2 1826.4,2057.1 1832.9,2057.0 1839.5,2056.9 1846.2,2056.9 1853.3,2056.9 1860.9,2056.9 1868.7,2057.0 1876.7,2057.0 1884.4,2057.2 1891.8,2057.3 1898.6,2057.5 1904.6,2057.8 1909.7,2058.1 1914.2,2058.3 1918.2,2058.6 1921.8,2059.0 1925.1,2059.4 1928.1,2059.9 1931.0,2060.5 1933.9,2061.3 1936.6,2062.4 1938.9,2063.7 1940.9,2065.3 1942.8,2066.9 1944.7,2068.4 1946.7,2069.8 1948.9,2070.9 1951.4,2071.5 1954.3,2071.6 1957.3,2071.4 1960.6,2070.8 1963.9,2070.0 1967.3,2069.2 1970.8,2068.3 1974.3,2067.6 1977.7,2067.1 1981.3,2066.8 1985.2,2066.5 1989.2,2066.3 1993.2,2066.1 1997.0,2065.9 2000.5,2065.8 2003.3,2065.7 2005.5,2065.6" fill="none" stroke="#f21" stroke-width="17" stroke-linecap="round" stroke-linejoin="round"/>
<polyline points="1435.5,2137.3 1436.8,2138.1 1438.6,2139.2 1440.7,2140.4 1443.0,2141.9 1445.5,2143.3 1448.1,2144.8 1450.6,2146.2 1453.1,2147.5 1455.5,2148.8 1458.0,2150.1 1460.4,2151.5 1463.0,2152.8 1465.6,2154.0 1468.2,2155.1 1470.9,2155.8 1473.6,2156.3 1476.3,2156.4 1479.1,2156.3 1481.9,2155.9 1484.8,2155.4 1487.7,2154.7 1490.7,2153.8 1493.8,2152.9 1497.0,2151.9 1500.4,2150.8 1503.9,2149.6 1507.5,2148.2 1511.2,2146.7 1515.0,2145.1 1518.8,2143.5 1522.5,2141.9 1526.2,2140.2 1529.9,2138.6 1533.6,2136.9 1537.4,2135.2 1541.2,2133.4 1544.9,2131.6 1548.5,2129.7 1552.0,2127.7 1555.4,2125.6 1558.6,2123.2 1561.5,2120.4 1564.3,2117.5 1567.1,2114.5 1569.9,2111.6 1572.7,2109.0 1575.6,2106.8 1578.8,2105.1 1582.2,2104.0 1585.8,2103.3 1589.6,2102.9 1593.4,2102.8 1597.2,2103.0 1601.0,2103.2 1604.6,2103.5 1608.0,2103.7 1611.2,2104.1 1614.3,2104.9 1617.3,2105.9 1620.2,2106.9 1623.1,2107.8 1625.9,2108.4 1628.7,2108.5 1631.4,2108.0 1634.1,2106.6 1636.7,2104.4 1639.3,2101.7 1641.8,2098.7 1644.3,2095.6 1646.8,2092.9 1649.4,2090.6 1651.9,2089.0 1654.5,2088.2 1657.1,2087.9 1659.7,2088.0 1662.3,2088.4 1664.9,2088.9 1667.5,2089.5 1670.0,2090.1 1672.4,2090.5 1674.7,2090.8 1676.9,2091.1 1679.0,2091.5 1681.1,2091.9 1683.2,2092.3 1685.3,2092.6 1687.5,2093.0 1689.9,2093.4 1692.4,2093.9 1695.1,2094.6 1697.9,2095.4 1700.8,2096.1 1703.7,2096.7 1706.5,2097.0 1709.2,2096.9 1711.7,2096.3 1714.0,2095.1 1716.1,2093.3 1718.1,2091.1 1720.0,2088.6 1722.0,2086.0 1724.1,2083.4 1726.5,2081.0 1729.2,2078.8 1732.2,2076.8 1735.5,2074.7 1738.9,2072.7 1742.6,2070.8 1746.4,2068.9 1750.3,2067.2 1754.3,2065.6 1758.5,2064.2 1762.8,2063.0 1767.1,2062.0 1771.6,2061.2 1776.2,2060.4 1781.0,2059.8 1786.0,2059.3 1791.1,2058.8 1796.5,2058.3 1802.1,2057.9 1807.9,2057.6 1813.9,2057.3 1820.1,2057.2 1826.4,2057.1 1832.9,2057.0 1839.5,2056.9 1846.2,2056.9 1853.3,2056.9 1860.9,2056.9 1868.7,2057.0 1876.7,2057.0 1884.4,2057.2 1891.8,2057.3 1898.6,2057.5 1904.6,2057.8 1909.7,2058.1 1914.2,2058.3 1918.2,2058.6 1921.8,2059.0 1925.1,2059.4 1928.1,2059.9 1931.0,2060.5 1933.9,2061.3 1936.6,2062.4 1938.9,2063.7 1940.9,2065.3 1942.8,2066.9 1944.7,2068.4 1946.7,2069.8 1948.9,2070.9 1951.4,2071.5 1954.3,2071.6 1957.3,2071.4 1960.6,2070.8 1963.9,2070.0 1967.3,2069.2 1970.8,2068.3 1974.3,2067.6 1977.7,2067.1 1981.3,2066.8 1985.2,2066.5 1989.2,2066.3 1993.2,2066.1 1997.0,2065.9 2000.5,2065.8 2003.3,2065.7 2005.5,2065.6" fill="none" stroke="#fbb" stroke-width="1.6" stroke-dasharray="1.5 4" opacity="0.8"/>
<circle cx="1683.3" cy="1919.6" r="15.5" fill="none" stroke="#f00" stroke-width="3.6"/>
<text x="1727.0" y="1934.2" font-size="57.5" text-anchor="start" fill="#000" >DTM</text>
<circle cx="1683.5" cy="2019.7" r="17.3" fill="#000"/>
<circle cx="1436.7" cy="1841.2" r="6" fill="#000"/>
<circle cx="1440.7" cy="1885.6" r="6" fill="#000"/>
<circle cx="1446.0" cy="1910.8" r="6" fill="#000"/>
<circle cx="1443.0" cy="1900.0" r="6" fill="#000"/>
<circle cx="1451.4" cy="1897.5" r="6" fill="#000"/>
<circle cx="1456.7" cy="1879.0" r="6" fill="#000"/>
<circle cx="1462.0" cy="1865.7" r="6" fill="#000"/>
<circle cx="1466.0" cy="1849.7" r="6" fill="#000"/>
<circle cx="1470.0" cy="1859.0" r="6" fill="#000"/>
<circle cx="1471.3" cy="1885.6" r="6" fill="#000"/>
<circle cx="1474.8" cy="1906.8" r="6" fill="#000"/>
<circle cx="1478.0" cy="1926.8" r="6" fill="#000"/>
<circle cx="1486.0" cy="1932.1" r="6" fill="#000"/>
<circle cx="1489.9" cy="1937.4" r="6" fill="#000"/>
<circle cx="1480.6" cy="1952.0" r="6" fill="#000"/>
<circle cx="1493.9" cy="1956.0" r="6" fill="#000"/>
<circle cx="1501.9" cy="1942.7" r="6" fill="#000"/>
<circle cx="1508.5" cy="1929.4" r="6" fill="#000"/>
<circle cx="1511.2" cy="1906.8" r="6" fill="#000"/>
<circle cx="1515.1" cy="1876.3" r="6" fill="#000"/>
<circle cx="1519.1" cy="1860.3" r="6" fill="#000"/>
<circle cx="1523.1" cy="1843.0" r="6" fill="#000"/>
<circle cx="1525.8" cy="1801.9" r="6" fill="#000"/>
<circle cx="1531.1" cy="1780.6" r="6" fill="#000"/>
<circle cx="1535.1" cy="1772.6" r="6" fill="#000"/>
<circle cx="1539.1" cy="1746.0" r="6" fill="#000"/>
<circle cx="1544.4" cy="1740.7" r="6" fill="#000"/>
<circle cx="1552.4" cy="1730.1" r="6" fill="#000"/>
<circle cx="1557.7" cy="1730.1" r="6" fill="#000"/>
<circle cx="1563.0" cy="1750.0" r="6" fill="#000"/>
<circle cx="1565.1" cy="1820.5" r="6" fill="#000"/>
<circle cx="1575.0" cy="1893.6" r="6" fill="#000"/>
<circle cx="1577.6" cy="1908.2" r="6" fill="#000"/>
<circle cx="1568.3" cy="1917.5" r="6" fill="#000"/>
<circle cx="1581.6" cy="1946.7" r="6" fill="#000"/>
<circle cx="1440.0" cy="1885.8" r="6" fill="#000"/>
<circle cx="1442.9" cy="1906.3" r="6" fill="#000"/>
<circle cx="1470.6" cy="1885.8" r="6" fill="#000"/>
<circle cx="1475.0" cy="1906.3" r="6" fill="#000"/>
<circle cx="1479.4" cy="1923.9" r="6" fill="#000"/>
<circle cx="1486.7" cy="1932.6" r="6" fill="#000"/>
<circle cx="1479.4" cy="1951.6" r="6" fill="#000"/>
<circle cx="1494.0" cy="1956.0" r="6" fill="#000"/>
<circle cx="1502.8" cy="1941.4" r="6" fill="#000"/>
<circle cx="1510.1" cy="1926.8" r="6" fill="#000"/>
<circle cx="1511.6" cy="1906.3" r="6" fill="#000"/>
<circle cx="1575.3" cy="1893.2" r="6" fill="#000"/>
<circle cx="1575.9" cy="1909.2" r="6" fill="#000"/>
<circle cx="1568.6" cy="1918.0" r="6" fill="#000"/>
<circle cx="1582.3" cy="1947.2" r="6" fill="#000"/>
<circle cx="1570.0" cy="2011.6" r="6" fill="#000"/>
<circle cx="1583.8" cy="2029.1" r="6" fill="#000"/>
<circle cx="1594.9" cy="2086.1" r="6" fill="#000"/>
<circle cx="1602.2" cy="2093.4" r="6" fill="#000"/>
<circle cx="1612.4" cy="2111.0" r="6" fill="#000"/>
<circle cx="1622.7" cy="2087.6" r="6" fill="#000"/>
<circle cx="1630.0" cy="2070.0" r="6" fill="#000"/>
<circle cx="1634.4" cy="2067.1" r="6" fill="#000"/>
<circle cx="1651.9" cy="2087.6" r="6" fill="#000"/>
<circle cx="1711.8" cy="2081.7" r="6" fill="#000"/>
<circle cx="1716.9" cy="1859.7" r="6" fill="#000"/>
<circle cx="1719.9" cy="1849.4" r="6" fill="#000"/>
<circle cx="1722.8" cy="1836.3" r="6" fill="#000"/>
<circle cx="1725.7" cy="1799.7" r="6" fill="#000"/>
<circle cx="1730.1" cy="1785.1" r="6" fill="#000"/>
<circle cx="1734.5" cy="1770.5" r="6" fill="#000"/>
<circle cx="1738.9" cy="1758.8" r="6" fill="#000"/>
<circle cx="1741.8" cy="1744.2" r="6" fill="#000"/>
<circle cx="1744.7" cy="1671.1" r="6" fill="#000"/>
<circle cx="1749.1" cy="1685.7" r="6" fill="#000"/>
<circle cx="1755.0" cy="1679.9" r="6" fill="#000"/>
<circle cx="1759.3" cy="1691.6" r="6" fill="#000"/>
<circle cx="1765.2" cy="1706.2" r="6" fill="#000"/>
<circle cx="1769.6" cy="1688.6" r="6" fill="#000"/>
<circle cx="1772.5" cy="1697.4" r="6" fill="#000"/>
<circle cx="1760.8" cy="1652.1" r="6" fill="#000"/>
<circle cx="1776.9" cy="1637.5" r="6" fill="#000"/>
<circle cx="1778.0" cy="1642.0" r="6" fill="#000"/>
<circle cx="1784.2" cy="1668.2" r="6" fill="#000"/>
<circle cx="1788.6" cy="1735.4" r="6" fill="#000"/>
<circle cx="1793.0" cy="1741.0" r="6" fill="#000"/>
<circle cx="1798.8" cy="1747.1" r="6" fill="#000"/>
<circle cx="1798.8" cy="1774.9" r="6" fill="#000"/>
<circle cx="1803.0" cy="1770.0" r="6" fill="#000"/>
<circle cx="1807.6" cy="1764.7" r="6" fill="#000"/>
<circle cx="1812.0" cy="1775.0" r="6" fill="#000"/>
<circle cx="1816.3" cy="1782.2" r="6" fill="#000"/>
<circle cx="1821.0" cy="1787.0" r="6" fill="#000"/>
<circle cx="1826.6" cy="1791.0" r="6" fill="#000"/>
<circle cx="1833.9" cy="1782.2" r="6" fill="#000"/>
<circle cx="1835.3" cy="1763.2" r="6" fill="#000"/>
<circle cx="1838.3" cy="1745.6" r="6" fill="#000"/>
<circle cx="1839.7" cy="1713.5" r="6" fill="#000"/>
<circle cx="1844.1" cy="1669.6" r="6" fill="#000"/>
<circle cx="1845.6" cy="1630.2" r="6" fill="#000"/>
<circle cx="1850.0" cy="1622.0" r="6" fill="#000"/>
<circle cx="1854.3" cy="1618.5" r="6" fill="#000"/>
<circle cx="1860.0" cy="1622.0" r="6" fill="#000"/>
<circle cx="1864.6" cy="1627.2" r="6" fill="#000"/>
<circle cx="1868.0" cy="1635.0" r="6" fill="#000"/>
<circle cx="1870.4" cy="1641.9" r="6" fill="#000"/>
<circle cx="1873.4" cy="1656.5" r="6" fill="#000"/>
<circle cx="1874.8" cy="1720.8" r="6" fill="#000"/>
<circle cx="1878.0" cy="1727.0" r="6" fill="#000"/>
<circle cx="1882.1" cy="1732.5" r="6" fill="#000"/>
<circle cx="1886.0" cy="1739.0" r="6" fill="#000"/>
<circle cx="1889.4" cy="1744.2" r="6" fill="#000"/>
<circle cx="1893.0" cy="1749.0" r="6" fill="#000"/>
<circle cx="1896.7" cy="1753.0" r="6" fill="#000"/>
<circle cx="1901.1" cy="1709.1" r="6" fill="#000"/>
<circle cx="1904.0" cy="1703.3" r="6" fill="#000"/>
<circle cx="1905.5" cy="1660.9" r="6" fill="#000"/>
<circle cx="1910.0" cy="1655.0" r="6" fill="#000"/>
<circle cx="1914.3" cy="1650.6" r="6" fill="#000"/>
<circle cx="1920.1" cy="1641.9" r="6" fill="#000"/>
<circle cx="1926.0" cy="1688.6" r="6" fill="#000"/>
<circle cx="1928.9" cy="1720.8" r="6" fill="#000"/>
<circle cx="1930.4" cy="1742.7" r="6" fill="#000"/>
<circle cx="1934.7" cy="1769.0" r="6" fill="#000"/>
<circle cx="1937.7" cy="1915.2" r="6" fill="#000"/>
<circle cx="1939.7" cy="2054.8" r="6" fill="#000"/>
<circle cx="2002.6" cy="2051.0" r="6" fill="#000"/>
<circle cx="2005.5" cy="2015.9" r="6" fill="#000"/>
<circle cx="1716.1" cy="2006.3" r="6" fill="#000"/>
<text x="1726.0" y="2039.3" font-size="57.5" text-anchor="start" fill="#000" >Point cloud</text>
<rect x="239.3" y="3014" width="606.7" height="649.4" fill="none" stroke="#111" stroke-width="2"/>
<line x1="231.6" y1="3658.3" x2="239.3" y2="3658.3" stroke="#111" stroke-width="2"/>
<text x="0" y="0" font-size="28.0" text-anchor="middle" fill="#222" transform="translate(224.0,3658.3) rotate(-90)">0</text>
<line x1="231.6" y1="3458.3" x2="239.3" y2="3458.3" stroke="#111" stroke-width="2"/>
<text x="0" y="0" font-size="28.0" text-anchor="middle" fill="#222" transform="translate(224.0,3458.3) rotate(-90)">5</text>
<line x1="231.6" y1="3258.3" x2="239.3" y2="3258.3" stroke="#111" stroke-width="2"/>
<text x="0" y="0" font-size="28.0" text-anchor="middle" fill="#222" transform="translate(224.0,3258.3) rotate(-90)">10</text>
<line x1="231.6" y1="3058.3" x2="239.3" y2="3058.3" stroke="#111" stroke-width="2"/>
<text x="0" y="0" font-size="28.0" text-anchor="middle" fill="#222" transform="translate(224.0,3058.3) rotate(-90)">15</text>
<line x1="260.4" y1="3663.4" x2="260.4" y2="3671" stroke="#111" stroke-width="2"/>
<text x="260.4" y="3704.0" font-size="28.0" text-anchor="middle" fill="#111" >0</text>
<line x1="385.6" y1="3663.4" x2="385.6" y2="3671" stroke="#111" stroke-width="2"/>
<text x="385.6" y="3704.0" font-size="28.0" text-anchor="middle" fill="#111" >10000</text>
<line x1="510.9" y1="3663.4" x2="510.9" y2="3671" stroke="#111" stroke-width="2"/>
<text x="510.9" y="3704.0" font-size="28.0" text-anchor="middle" fill="#111" >20000</text>
<line x1="636.1" y1="3663.4" x2="636.1" y2="3671" stroke="#111" stroke-width="2"/>
<text x="636.1" y="3704.0" font-size="28.0" text-anchor="middle" fill="#111" >30000</text>
<line x1="761.4" y1="3663.4" x2="761.4" y2="3671" stroke="#111" stroke-width="2"/>
<text x="761.4" y="3704.0" font-size="28.0" text-anchor="middle" fill="#111" >40000</text>
<text x="402.0" y="3759.5" font-size="57.0" text-anchor="start" fill="#000" >Counts</text>
<text x="0" y="0" font-size="68.0" text-anchor="middle" fill="#000" transform="translate(169.0,3339.0) rotate(-90)">Heitgh (m)</text>
<text x="300.0" y="3081.0" font-size="69.0" text-anchor="start" fill="#000" >(e)</text>
<line x1="240" y1="3619.5" x2="845" y2="3619.5" stroke="#c8c8c8" stroke-width="1.8"/>
<line x1="240" y1="3639" x2="845" y2="3639" stroke="#e0103a" stroke-width="2" stroke-dasharray="8.5 7"/>
<polyline points="262.5,3038.3 283.8,3055.3 334.8,3097.0 332.7,3119.1 360.3,3127.6 390.1,3136.1 424.1,3148.8 451.8,3158.2 517.7,3168.0 602.7,3180.7 715.4,3197.7 774.9,3216.9 817.5,3238.1 823.0,3258.1 772.8,3272.2 747.3,3278.5 615.5,3297.7 568.7,3318.1 536.8,3335.9 511.3,3357.2 460.3,3377.6 439.0,3397.6 425.0,3418.9 373.9,3437.2 347.6,3458.4 318.7,3496.7 296.5,3518.8 274.4,3537.9 263.4,3578.3 265.5,3606.0 262.5,3637.9" fill="none" stroke="#555" stroke-width="2.2"/>
<rect x="1420" y="2996" width="623" height="657.3" fill="none" stroke="#111" stroke-width="2"/>
<line x1="1412" y1="3536.0" x2="1420" y2="3536.0" stroke="#111" stroke-width="2"/>
<text x="0" y="0" font-size="28.0" text-anchor="middle" fill="#222" transform="translate(1404.0,3536.0) rotate(-90)">2</text>
<line x1="1412" y1="3414.6" x2="1420" y2="3414.6" stroke="#111" stroke-width="2"/>
<text x="0" y="0" font-size="28.0" text-anchor="middle" fill="#222" transform="translate(1404.0,3414.6) rotate(-90)">4</text>
<line x1="1412" y1="3293.2" x2="1420" y2="3293.2" stroke="#111" stroke-width="2"/>
<text x="0" y="0" font-size="28.0" text-anchor="middle" fill="#222" transform="translate(1404.0,3293.2) rotate(-90)">6</text>
<line x1="1412" y1="3171.7" x2="1420" y2="3171.7" stroke="#111" stroke-width="2"/>
<text x="0" y="0" font-size="28.0" text-anchor="middle" fill="#222" transform="translate(1404.0,3171.7) rotate(-90)">8</text>
<line x1="1412" y1="3050.3" x2="1420" y2="3050.3" stroke="#111" stroke-width="2"/>
<text x="0" y="0" font-size="28.0" text-anchor="middle" fill="#222" transform="translate(1404.0,3050.3) rotate(-90)">10</text>
<line x1="1444.4" y1="3653.3" x2="1444.4" y2="3661" stroke="#111" stroke-width="2"/>
<text x="1444.4" y="3693.0" font-size="28.0" text-anchor="middle" fill="#111" >0</text>
<line x1="1594.6" y1="3653.3" x2="1594.6" y2="3661" stroke="#111" stroke-width="2"/>
<text x="1594.6" y="3693.0" font-size="28.0" text-anchor="middle" fill="#111" >50000</text>
<line x1="1744.8" y1="3653.3" x2="1744.8" y2="3661" stroke="#111" stroke-width="2"/>
<text x="1744.8" y="3693.0" font-size="28.0" text-anchor="middle" fill="#111" >100000</text>
<line x1="1895.0" y1="3653.3" x2="1895.0" y2="3661" stroke="#111" stroke-width="2"/>
<text x="1895.0" y="3693.0" font-size="28.0" text-anchor="middle" fill="#111" >150000</text>
<text x="1634.0" y="3737.7" font-size="56.0" text-anchor="start" fill="#000" >Counts</text>
<text x="0" y="0" font-size="68.0" text-anchor="middle" fill="#000" transform="translate(1332.0,3329.0) rotate(-90)">Heitgh (m)</text>
<text x="1455.0" y="3066.0" font-size="65.0" text-anchor="start" fill="#000" >(j)</text>
<line x1="1421" y1="3477" x2="2042" y2="3477" stroke="#c8c8c8" stroke-width="1.8"/>
<line x1="1421" y1="3567" x2="2042" y2="3567" stroke="#e0103a" stroke-width="2" stroke-dasharray="8.5 7"/>
<polyline points="1444.6,3018.9 1444.6,3077.1 1460.0,3172.6 1491.4,3231.4 1497.1,3262.9 1511.4,3293.1 1513.1,3322.9 1497.1,3385.7 1471.4,3414.3 1458.3,3445.7 1456.0,3477.1 1465.7,3505.7 1548.6,3536.0 2019.6,3566.7 1446.4,3598.2 1444.2,3627.1" fill="none" stroke="#444" stroke-width="2.2"/>
<polygon points="1902.0,2432.0 1905.0,2400.0 1908.0,2388.0 1913.0,2402.0 1920.0,2432.0" fill="url(#spk)" />
<polygon points="1664.0,2410.0 1668.0,2372.0 1675.0,2352.0 1682.0,2356.0 1690.0,2385.0 1692.0,2412.0" fill="url(#spk)" />
<polygon points="1386.0,99.0 1410.0,97.0 1444.0,98.0 1450.0,115.0 1452.0,128.0 1440.0,138.0 1420.0,150.0 1405.0,152.0 1395.0,140.0 1388.0,120.0" fill="#10d8e0" filter="url(#soft)" opacity="0.9"/>
<polygon points="1403.0,136.0 1418.0,135.0 1413.0,152.0" fill="#fff" filter="url(#soft)"/>
<polygon points="556.0,146.0 566.0,144.0 570.0,160.0 566.0,175.0 556.0,172.0 553.0,158.0" fill="#fff" filter="url(#soft)"/>
</svg>
</body></html>
